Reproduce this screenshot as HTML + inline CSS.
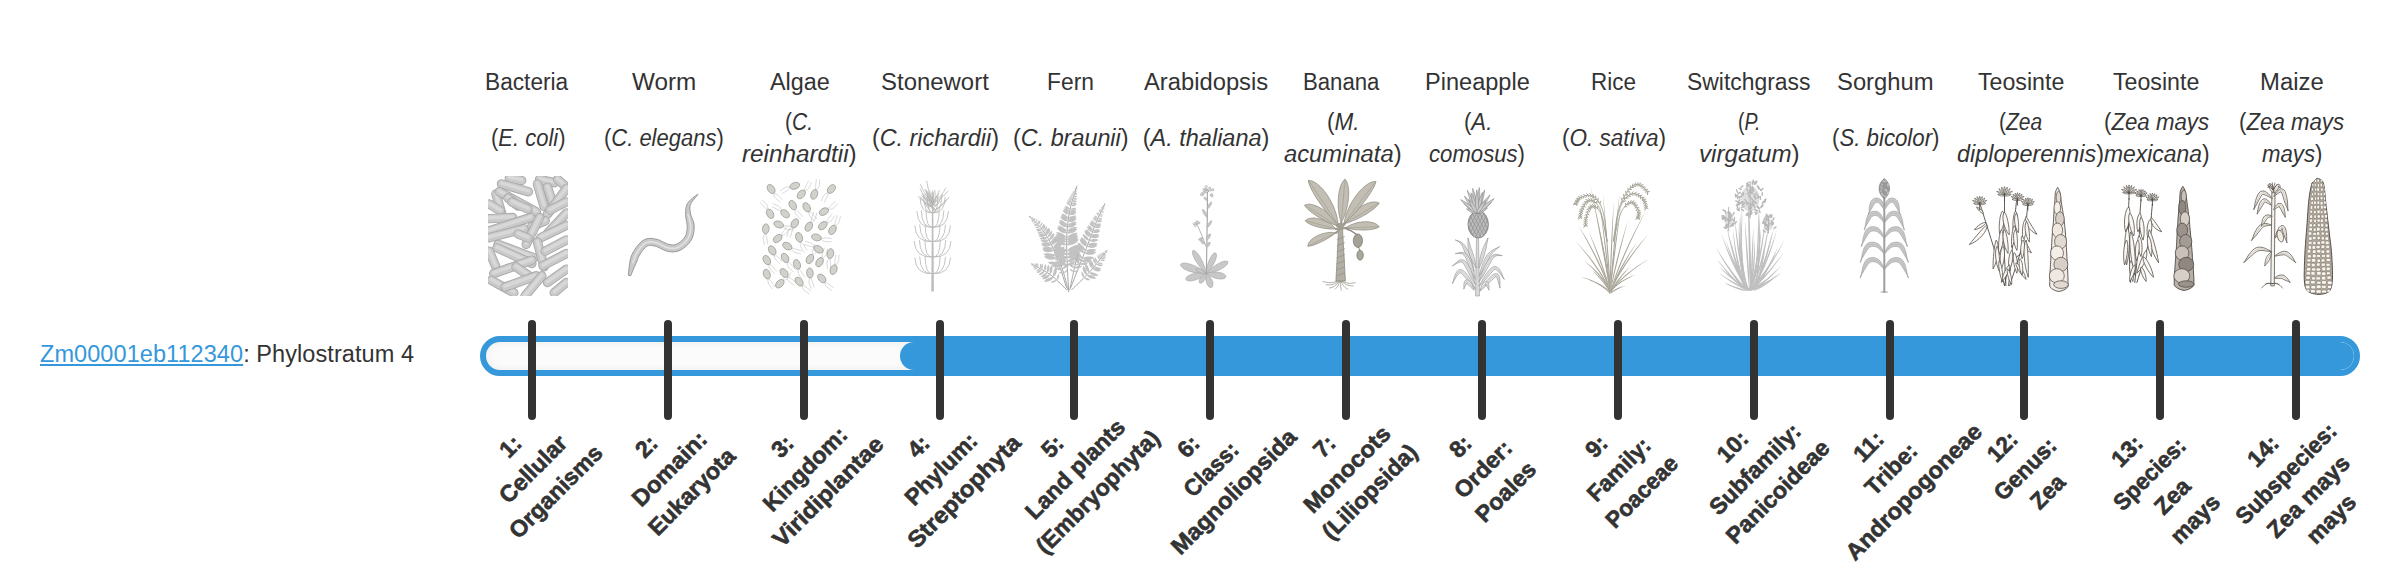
<!DOCTYPE html>
<html><head><meta charset="utf-8"><title>Phylostratum</title>
<style>
html,body{margin:0;padding:0;background:#fff}
body{width:2400px;height:580px;position:relative;overflow:hidden;font-family:"Liberation Sans",Arial,sans-serif;color:#333;font-size:23.5px;line-height:32px}
.gene{position:absolute;left:40px;top:338px;white-space:nowrap;letter-spacing:0.07px}
.gene a{color:#3498db;text-decoration:underline;text-decoration-thickness:2px;text-underline-offset:1.8px}
.t{position:absolute;white-space:nowrap;transform-origin:0 0}
.nm{top:66px}
.sp{top:122px}
.sp2{top:106px}
.bar{position:absolute;left:480px;top:336px;width:1868px;height:28px;border:6px solid #3498db;border-radius:20px;background:#fbfbfb;box-shadow:inset 0 0 9px rgba(0,0,0,.07);overflow:hidden}
.fill{position:absolute;left:414px;top:0;right:0;height:28px;background:#3498db;border-radius:14px}
.tk{position:absolute;top:320px;width:8px;height:100px;background:#333;border-radius:4px}
.rl{position:absolute;width:300px;margin-left:-150px;text-align:center;font-weight:bold;white-space:nowrap;transform:rotate(-45deg);top:420.8px;line-height:32px;font-size:23.2px;-webkit-text-stroke:0.6px #333}
</style></head><body>
<div class="gene"><a>Zm00001eb112340</a>: Phylostratum 4</div>

<div class="bar"><div class="fill"></div></div>

<svg style="position:absolute;left:0;top:0" width="2400" height="580"><clipPath id="cb"><rect x="488" y="176" width="80" height="120"/></clipPath><g clip-path="url(#cb)"><line x1="509.3" y1="178.2" x2="521.7" y2="180.5" stroke="#a9a9a9" stroke-width="9.4" stroke-linecap="round"/><line x1="509.3" y1="178.2" x2="521.7" y2="180.5" stroke="#c9c9c9" stroke-width="7.6" stroke-linecap="round"/><line x1="509.3" y1="177.4" x2="521.7" y2="179.7" stroke="#d8d8d8" stroke-width="3.4" stroke-linecap="round"/><line x1="539.6" y1="179.4" x2="554.2" y2="182.7" stroke="#a9a9a9" stroke-width="9.4" stroke-linecap="round"/><line x1="539.6" y1="179.4" x2="554.2" y2="182.7" stroke="#c9c9c9" stroke-width="7.6" stroke-linecap="round"/><line x1="539.6" y1="178.6" x2="554.2" y2="181.9" stroke="#d8d8d8" stroke-width="3.4" stroke-linecap="round"/><line x1="557.6" y1="179.4" x2="566.5" y2="187.2" stroke="#a9a9a9" stroke-width="9.4" stroke-linecap="round"/><line x1="557.6" y1="179.4" x2="566.5" y2="187.2" stroke="#c9c9c9" stroke-width="7.6" stroke-linecap="round"/><line x1="557.6" y1="178.6" x2="566.5" y2="186.4" stroke="#d8d8d8" stroke-width="3.4" stroke-linecap="round"/><line x1="501.5" y1="183.9" x2="528.4" y2="191.7" stroke="#a9a9a9" stroke-width="9.4" stroke-linecap="round"/><line x1="501.5" y1="183.9" x2="528.4" y2="191.7" stroke="#c9c9c9" stroke-width="7.6" stroke-linecap="round"/><line x1="501.5" y1="183.1" x2="528.4" y2="190.9" stroke="#d8d8d8" stroke-width="3.4" stroke-linecap="round"/><line x1="495.9" y1="193.9" x2="502.6" y2="216.4" stroke="#a9a9a9" stroke-width="9.4" stroke-linecap="round"/><line x1="495.9" y1="193.9" x2="502.6" y2="216.4" stroke="#c9c9c9" stroke-width="7.6" stroke-linecap="round"/><line x1="495.9" y1="193.1" x2="502.6" y2="215.6" stroke="#d8d8d8" stroke-width="3.4" stroke-linecap="round"/><line x1="489.2" y1="204.0" x2="500.4" y2="210.8" stroke="#a9a9a9" stroke-width="9.4" stroke-linecap="round"/><line x1="489.2" y1="204.0" x2="500.4" y2="210.8" stroke="#c9c9c9" stroke-width="7.6" stroke-linecap="round"/><line x1="489.2" y1="203.2" x2="500.4" y2="210.0" stroke="#d8d8d8" stroke-width="3.4" stroke-linecap="round"/><line x1="537.4" y1="183.9" x2="544.1" y2="206.3" stroke="#a9a9a9" stroke-width="9.4" stroke-linecap="round"/><line x1="537.4" y1="183.9" x2="544.1" y2="206.3" stroke="#c9c9c9" stroke-width="7.6" stroke-linecap="round"/><line x1="537.4" y1="183.1" x2="544.1" y2="205.5" stroke="#d8d8d8" stroke-width="3.4" stroke-linecap="round"/><line x1="547.5" y1="187.2" x2="553.1" y2="204.0" stroke="#a9a9a9" stroke-width="9.4" stroke-linecap="round"/><line x1="547.5" y1="187.2" x2="553.1" y2="204.0" stroke="#c9c9c9" stroke-width="7.6" stroke-linecap="round"/><line x1="547.5" y1="186.4" x2="553.1" y2="203.2" stroke="#d8d8d8" stroke-width="3.4" stroke-linecap="round"/><line x1="499.3" y1="191.7" x2="536.3" y2="211.9" stroke="#a9a9a9" stroke-width="9.4" stroke-linecap="round"/><line x1="499.3" y1="191.7" x2="536.3" y2="211.9" stroke="#c9c9c9" stroke-width="7.6" stroke-linecap="round"/><line x1="499.3" y1="190.9" x2="536.3" y2="211.1" stroke="#d8d8d8" stroke-width="3.4" stroke-linecap="round"/><line x1="566.5" y1="188.3" x2="547.5" y2="214.1" stroke="#a9a9a9" stroke-width="9.4" stroke-linecap="round"/><line x1="566.5" y1="188.3" x2="547.5" y2="214.1" stroke="#c9c9c9" stroke-width="7.6" stroke-linecap="round"/><line x1="566.5" y1="187.5" x2="547.5" y2="213.3" stroke="#d8d8d8" stroke-width="3.4" stroke-linecap="round"/><line x1="489.2" y1="218.6" x2="512.7" y2="217.5" stroke="#a9a9a9" stroke-width="9.4" stroke-linecap="round"/><line x1="489.2" y1="218.6" x2="512.7" y2="217.5" stroke="#c9c9c9" stroke-width="7.6" stroke-linecap="round"/><line x1="489.2" y1="217.8" x2="512.7" y2="216.7" stroke="#d8d8d8" stroke-width="3.4" stroke-linecap="round"/><line x1="531.8" y1="226.4" x2="545.2" y2="220.8" stroke="#a9a9a9" stroke-width="9.4" stroke-linecap="round"/><line x1="531.8" y1="226.4" x2="545.2" y2="220.8" stroke="#c9c9c9" stroke-width="7.6" stroke-linecap="round"/><line x1="531.8" y1="225.6" x2="545.2" y2="220.0" stroke="#d8d8d8" stroke-width="3.4" stroke-linecap="round"/><line x1="489.2" y1="230.9" x2="530.6" y2="217.5" stroke="#a9a9a9" stroke-width="9.4" stroke-linecap="round"/><line x1="489.2" y1="230.9" x2="530.6" y2="217.5" stroke="#c9c9c9" stroke-width="7.6" stroke-linecap="round"/><line x1="489.2" y1="230.1" x2="530.6" y2="216.7" stroke="#d8d8d8" stroke-width="3.4" stroke-linecap="round"/><line x1="489.2" y1="237.7" x2="523.9" y2="228.7" stroke="#a9a9a9" stroke-width="9.4" stroke-linecap="round"/><line x1="489.2" y1="237.7" x2="523.9" y2="228.7" stroke="#c9c9c9" stroke-width="7.6" stroke-linecap="round"/><line x1="489.2" y1="236.9" x2="523.9" y2="227.9" stroke="#d8d8d8" stroke-width="3.4" stroke-linecap="round"/><line x1="566.5" y1="213.0" x2="547.5" y2="233.2" stroke="#a9a9a9" stroke-width="9.4" stroke-linecap="round"/><line x1="566.5" y1="213.0" x2="547.5" y2="233.2" stroke="#c9c9c9" stroke-width="7.6" stroke-linecap="round"/><line x1="566.5" y1="212.2" x2="547.5" y2="232.4" stroke="#d8d8d8" stroke-width="3.4" stroke-linecap="round"/><line x1="526.2" y1="244.4" x2="539.6" y2="217.5" stroke="#a9a9a9" stroke-width="9.4" stroke-linecap="round"/><line x1="526.2" y1="244.4" x2="539.6" y2="217.5" stroke="#c9c9c9" stroke-width="7.6" stroke-linecap="round"/><line x1="526.2" y1="243.6" x2="539.6" y2="216.7" stroke="#d8d8d8" stroke-width="3.4" stroke-linecap="round"/><line x1="540.7" y1="237.7" x2="566.5" y2="225.3" stroke="#a9a9a9" stroke-width="9.4" stroke-linecap="round"/><line x1="540.7" y1="237.7" x2="566.5" y2="225.3" stroke="#c9c9c9" stroke-width="7.6" stroke-linecap="round"/><line x1="540.7" y1="236.9" x2="566.5" y2="224.5" stroke="#d8d8d8" stroke-width="3.4" stroke-linecap="round"/><line x1="498.1" y1="244.4" x2="534.0" y2="257.8" stroke="#a9a9a9" stroke-width="9.4" stroke-linecap="round"/><line x1="498.1" y1="244.4" x2="534.0" y2="257.8" stroke="#c9c9c9" stroke-width="7.6" stroke-linecap="round"/><line x1="498.1" y1="243.6" x2="534.0" y2="257.0" stroke="#d8d8d8" stroke-width="3.4" stroke-linecap="round"/><line x1="497.0" y1="247.8" x2="531.8" y2="263.5" stroke="#a9a9a9" stroke-width="9.4" stroke-linecap="round"/><line x1="497.0" y1="247.8" x2="531.8" y2="263.5" stroke="#c9c9c9" stroke-width="7.6" stroke-linecap="round"/><line x1="497.0" y1="247.0" x2="531.8" y2="262.7" stroke="#d8d8d8" stroke-width="3.4" stroke-linecap="round"/><line x1="489.2" y1="251.1" x2="495.9" y2="266.8" stroke="#a9a9a9" stroke-width="9.4" stroke-linecap="round"/><line x1="489.2" y1="251.1" x2="495.9" y2="266.8" stroke="#c9c9c9" stroke-width="7.6" stroke-linecap="round"/><line x1="489.2" y1="250.3" x2="495.9" y2="266.0" stroke="#d8d8d8" stroke-width="3.4" stroke-linecap="round"/><line x1="537.4" y1="242.1" x2="544.1" y2="266.8" stroke="#a9a9a9" stroke-width="9.4" stroke-linecap="round"/><line x1="537.4" y1="242.1" x2="544.1" y2="266.8" stroke="#c9c9c9" stroke-width="7.6" stroke-linecap="round"/><line x1="537.4" y1="241.3" x2="544.1" y2="266.0" stroke="#d8d8d8" stroke-width="3.4" stroke-linecap="round"/><line x1="545.2" y1="251.1" x2="566.5" y2="239.9" stroke="#a9a9a9" stroke-width="9.4" stroke-linecap="round"/><line x1="545.2" y1="251.1" x2="566.5" y2="239.9" stroke="#c9c9c9" stroke-width="7.6" stroke-linecap="round"/><line x1="545.2" y1="250.3" x2="566.5" y2="239.1" stroke="#d8d8d8" stroke-width="3.4" stroke-linecap="round"/><line x1="493.7" y1="273.5" x2="531.8" y2="260.1" stroke="#a9a9a9" stroke-width="9.4" stroke-linecap="round"/><line x1="493.7" y1="273.5" x2="531.8" y2="260.1" stroke="#c9c9c9" stroke-width="7.6" stroke-linecap="round"/><line x1="493.7" y1="272.7" x2="531.8" y2="259.3" stroke="#d8d8d8" stroke-width="3.4" stroke-linecap="round"/><line x1="543.0" y1="265.7" x2="566.5" y2="253.4" stroke="#a9a9a9" stroke-width="9.4" stroke-linecap="round"/><line x1="543.0" y1="265.7" x2="566.5" y2="253.4" stroke="#c9c9c9" stroke-width="7.6" stroke-linecap="round"/><line x1="543.0" y1="264.9" x2="566.5" y2="252.6" stroke="#d8d8d8" stroke-width="3.4" stroke-linecap="round"/><line x1="516.0" y1="266.8" x2="530.6" y2="276.9" stroke="#a9a9a9" stroke-width="9.4" stroke-linecap="round"/><line x1="516.0" y1="266.8" x2="530.6" y2="276.9" stroke="#c9c9c9" stroke-width="7.6" stroke-linecap="round"/><line x1="516.0" y1="266.0" x2="530.6" y2="276.1" stroke="#d8d8d8" stroke-width="3.4" stroke-linecap="round"/><line x1="547.5" y1="282.5" x2="566.5" y2="269.1" stroke="#a9a9a9" stroke-width="9.4" stroke-linecap="round"/><line x1="547.5" y1="282.5" x2="566.5" y2="269.1" stroke="#c9c9c9" stroke-width="7.6" stroke-linecap="round"/><line x1="547.5" y1="281.7" x2="566.5" y2="268.3" stroke="#d8d8d8" stroke-width="3.4" stroke-linecap="round"/><line x1="491.4" y1="280.3" x2="513.8" y2="292.6" stroke="#a9a9a9" stroke-width="9.4" stroke-linecap="round"/><line x1="491.4" y1="280.3" x2="513.8" y2="292.6" stroke="#c9c9c9" stroke-width="7.6" stroke-linecap="round"/><line x1="491.4" y1="279.5" x2="513.8" y2="291.8" stroke="#d8d8d8" stroke-width="3.4" stroke-linecap="round"/><line x1="504.9" y1="287.0" x2="536.3" y2="275.8" stroke="#a9a9a9" stroke-width="9.4" stroke-linecap="round"/><line x1="504.9" y1="287.0" x2="536.3" y2="275.8" stroke="#c9c9c9" stroke-width="7.6" stroke-linecap="round"/><line x1="504.9" y1="286.2" x2="536.3" y2="275.0" stroke="#d8d8d8" stroke-width="3.4" stroke-linecap="round"/><line x1="525.0" y1="296.0" x2="541.9" y2="275.8" stroke="#a9a9a9" stroke-width="9.4" stroke-linecap="round"/><line x1="525.0" y1="296.0" x2="541.9" y2="275.8" stroke="#c9c9c9" stroke-width="7.6" stroke-linecap="round"/><line x1="525.0" y1="295.2" x2="541.9" y2="275.0" stroke="#d8d8d8" stroke-width="3.4" stroke-linecap="round"/><line x1="554.2" y1="292.6" x2="566.5" y2="282.5" stroke="#a9a9a9" stroke-width="9.4" stroke-linecap="round"/><line x1="554.2" y1="292.6" x2="566.5" y2="282.5" stroke="#c9c9c9" stroke-width="7.6" stroke-linecap="round"/><line x1="554.2" y1="291.8" x2="566.5" y2="281.7" stroke="#d8d8d8" stroke-width="3.4" stroke-linecap="round"/><line x1="508.0" y1="198.0" x2="518.0" y2="206.0" stroke="#a9a9a9" stroke-width="9.4" stroke-linecap="round"/><line x1="508.0" y1="198.0" x2="518.0" y2="206.0" stroke="#c9c9c9" stroke-width="7.6" stroke-linecap="round"/><line x1="508.0" y1="197.2" x2="518.0" y2="205.2" stroke="#d8d8d8" stroke-width="3.4" stroke-linecap="round"/><line x1="512.0" y1="202.0" x2="528.0" y2="209.0" stroke="#a9a9a9" stroke-width="9.4" stroke-linecap="round"/><line x1="512.0" y1="202.0" x2="528.0" y2="209.0" stroke="#c9c9c9" stroke-width="7.6" stroke-linecap="round"/><line x1="512.0" y1="201.2" x2="528.0" y2="208.2" stroke="#d8d8d8" stroke-width="3.4" stroke-linecap="round"/><line x1="550.0" y1="210.0" x2="566.0" y2="202.0" stroke="#a9a9a9" stroke-width="9.4" stroke-linecap="round"/><line x1="550.0" y1="210.0" x2="566.0" y2="202.0" stroke="#c9c9c9" stroke-width="7.6" stroke-linecap="round"/><line x1="550.0" y1="209.2" x2="566.0" y2="201.2" stroke="#d8d8d8" stroke-width="3.4" stroke-linecap="round"/><line x1="518.0" y1="234.0" x2="528.0" y2="238.0" stroke="#a9a9a9" stroke-width="9.4" stroke-linecap="round"/><line x1="518.0" y1="234.0" x2="528.0" y2="238.0" stroke="#c9c9c9" stroke-width="7.6" stroke-linecap="round"/><line x1="518.0" y1="233.2" x2="528.0" y2="237.2" stroke="#d8d8d8" stroke-width="3.4" stroke-linecap="round"/></g><path d="M630.7,275.8 L631.1,274.8 L631.6,273.5 L632.3,271.9 L633.0,270.2 L633.7,268.4 L634.5,266.6 L635.2,265.0 L635.9,263.5 L636.5,262.2 L637.1,260.9 L637.6,259.6 L638.0,258.4 L638.4,257.3 L638.9,256.2 L639.5,255.2 L640.1,254.1 L640.9,252.9 L641.8,251.6 L642.8,250.4 L643.8,249.1 L644.8,248.0 L645.8,247.1 L646.7,246.4 L647.5,245.9 L648.2,245.6 L648.9,245.5 L649.7,245.4 L650.7,245.4 L651.7,245.5 L652.8,245.7 L654.1,245.9 L655.3,246.2 L656.5,246.5 L657.7,247.0 L659.1,247.7 L660.7,248.5 L662.3,249.3 L664.0,250.1 L665.8,250.8 L667.5,251.3 L669.2,251.6 L670.7,251.8 L672.2,251.9 L673.8,251.9 L675.4,251.7 L677.0,251.4 L678.6,250.9 L680.1,250.3 L681.7,249.4 L683.2,248.4 L684.7,247.3 L686.2,246.0 L687.6,244.7 L688.9,243.3 L690.1,241.7 L691.1,240.2 L692.0,238.5 L692.7,236.8 L693.2,235.0 L693.6,233.3 L693.9,231.5 L694.1,229.8 L694.2,228.1 L694.2,226.3 L694.1,224.5 L693.7,222.6 L693.1,220.9 L692.5,219.4 L691.9,217.9 L691.4,216.5 L690.9,215.2 L690.6,214.0 L690.4,212.7 L690.2,211.5 L690.0,210.2 L689.9,209.1 L689.8,208.0 L689.9,206.9 L690.1,205.8 L690.4,204.7 L690.9,203.5 L691.8,202.1 L692.8,200.7 L694.0,199.2 L695.1,197.8 L696.2,196.6 L697.2,195.5 L697.8,194.7 L697.4,194.3 L696.6,194.9 L695.5,195.8 L694.2,196.8 L692.7,198.0 L691.3,199.2 L689.9,200.6 L688.6,201.9 L687.6,203.3 L686.9,204.7 L686.4,206.1 L686.0,207.5 L685.8,208.9 L685.7,210.3 L685.6,211.7 L685.6,213.1 L685.6,214.6 L685.7,216.2 L685.9,217.9 L686.2,219.5 L686.5,221.1 L686.8,222.6 L687.0,224.0 L687.1,225.3 L687.2,226.5 L687.2,227.8 L687.1,229.2 L686.9,230.6 L686.7,231.9 L686.4,233.3 L686.1,234.5 L685.6,235.6 L685.1,236.6 L684.4,237.7 L683.6,238.7 L682.6,239.8 L681.5,240.9 L680.3,241.8 L679.2,242.7 L678.1,243.4 L677.1,243.9 L676.2,244.3 L675.3,244.6 L674.4,244.8 L673.4,244.9 L672.4,244.9 L671.3,244.8 L670.2,244.7 L669.1,244.5 L668.0,244.2 L666.7,243.7 L665.4,243.1 L663.8,242.3 L662.2,241.5 L660.6,240.7 L658.8,239.9 L657.1,239.4 L655.5,239.1 L654.1,238.8 L652.6,238.5 L651.0,238.4 L649.4,238.4 L647.7,238.6 L646.0,239.0 L644.3,239.7 L642.7,240.6 L641.2,241.8 L639.8,243.1 L638.5,244.6 L637.3,246.0 L636.2,247.5 L635.2,248.9 L634.3,250.3 L633.4,251.7 L632.7,253.1 L632.0,254.5 L631.4,255.9 L630.9,257.3 L630.5,258.7 L630.2,260.1 L629.9,261.7 L629.6,263.4 L629.4,265.3 L629.1,267.2 L628.9,269.2 L628.7,271.1 L628.5,272.7 L628.4,274.2 L628.3,275.2Z" fill="#c9c9c9" stroke="#8e8e8e" stroke-width="0.9"/><path d="M632.9,262.6 L633.3,261.5 L633.9,259.9 L634.5,258.0 L635.3,256.0 L636.2,254.0 L637.2,252.2 L638.4,250.5 L639.7,248.6 L641.2,246.8 L642.7,245.2 L644.3,243.8 L645.9,242.8 L647.5,242.2 L649.1,241.9 L650.8,241.9 L652.6,242.1 L654.4,242.4 L656.2,242.8 L658.1,243.4 L660.2,244.3 L662.2,245.4 L664.3,246.4 L666.4,247.3 L668.3,247.9 L670.1,248.2 L671.9,248.4 L673.6,248.4 L675.3,248.2 L677.0,247.8 L678.6,247.1 L680.3,246.1 L682.1,244.9 L683.8,243.4 L685.5,241.8 L686.9,240.1 L688.1,238.4 L689.0,236.6 L689.7,234.6 L690.2,232.6 L690.5,230.5 L690.6,228.4 L690.7,226.4 L690.5,224.2 L690.1,221.9 L689.6,219.6 L689.0,217.4 L688.4,215.6 L688.1,214.3" fill="none" stroke="#e2e2e2" stroke-width="1.6" stroke-linecap="round" stroke-linejoin="round" opacity="1"/><path d="M773.6,192.4 L774.0,192.7 L774.6,193.1 L775.3,193.6 L776.1,194.2 L776.9,194.7 L777.7,195.3 L778.4,195.9 L779.2,196.7 L780.0,197.5 L780.8,198.2 L781.5,198.8 L781.9,199.2" fill="none" stroke="#bdbdbd" stroke-width="0.6" stroke-linecap="round" stroke-linejoin="round" opacity="1"/><path d="M773.6,192.4 L773.7,193.0 L773.8,193.7 L773.9,194.6 L774.1,195.5 L774.4,196.4 L774.8,197.3 L775.5,198.1 L776.5,199.0 L777.5,199.9 L778.5,200.7 L779.4,201.4 L780.0,201.9" fill="none" stroke="#bdbdbd" stroke-width="0.6" stroke-linecap="round" stroke-linejoin="round" opacity="1"/><path d="M790.9,187.2 L790.5,187.6 L789.9,188.0 L789.3,188.6 L788.6,189.2 L787.8,189.9 L787.1,190.4 L786.2,191.0 L785.3,191.6 L784.4,192.2 L783.5,192.7 L782.7,193.2 L782.1,193.5" fill="none" stroke="#bdbdbd" stroke-width="0.6" stroke-linecap="round" stroke-linejoin="round" opacity="1"/><path d="M790.9,187.2 L790.4,187.2 L789.6,187.1 L788.7,187.0 L787.8,186.9 L786.8,187.0 L785.9,187.2 L784.9,187.7 L783.8,188.3 L782.7,189.1 L781.6,189.9 L780.8,190.5 L780.1,191.0" fill="none" stroke="#bdbdbd" stroke-width="0.6" stroke-linecap="round" stroke-linejoin="round" opacity="1"/><path d="M804.0,191.2 L804.2,190.7 L804.4,190.0 L804.7,189.1 L805.0,188.2 L805.3,187.3 L805.7,186.5 L806.1,185.6 L806.6,184.6 L807.2,183.6 L807.7,182.7 L808.1,181.9 L808.4,181.3" fill="none" stroke="#bdbdbd" stroke-width="0.6" stroke-linecap="round" stroke-linejoin="round" opacity="1"/><path d="M804.0,191.2 L804.5,190.9 L805.2,190.7 L806.0,190.3 L806.8,189.9 L807.6,189.3 L808.3,188.7 L809.0,187.8 L809.6,186.7 L810.1,185.4 L810.7,184.2 L811.1,183.2 L811.4,182.5" fill="none" stroke="#bdbdbd" stroke-width="0.6" stroke-linecap="round" stroke-linejoin="round" opacity="1"/><path d="M815.7,190.4 L815.6,189.9 L815.6,189.2 L815.6,188.3 L815.6,187.3 L815.6,186.4 L815.6,185.4 L815.7,184.5 L815.9,183.4 L816.0,182.2 L816.2,181.2 L816.3,180.3 L816.4,179.7" fill="none" stroke="#bdbdbd" stroke-width="0.6" stroke-linecap="round" stroke-linejoin="round" opacity="1"/><path d="M815.7,190.4 L816.0,190.1 L816.6,189.6 L817.2,188.9 L817.9,188.2 L818.4,187.5 L818.9,186.6 L819.2,185.6 L819.3,184.3 L819.5,182.9 L819.6,181.6 L819.6,180.5 L819.7,179.8" fill="none" stroke="#bdbdbd" stroke-width="0.6" stroke-linecap="round" stroke-linejoin="round" opacity="1"/><path d="M828.7,192.2 L828.6,192.7 L828.3,193.4 L828.1,194.2 L827.7,195.1 L827.4,196.1 L827.0,196.9 L826.6,197.8 L826.1,198.8 L825.6,199.8 L825.1,200.7 L824.6,201.5 L824.3,202.1" fill="none" stroke="#bdbdbd" stroke-width="0.6" stroke-linecap="round" stroke-linejoin="round" opacity="1"/><path d="M828.7,192.2 L828.3,192.4 L827.6,192.7 L826.8,193.1 L825.9,193.5 L825.1,194.1 L824.4,194.7 L823.8,195.6 L823.2,196.7 L822.6,197.9 L822.1,199.1 L821.6,200.2 L821.3,200.9" fill="none" stroke="#bdbdbd" stroke-width="0.6" stroke-linecap="round" stroke-linejoin="round" opacity="1"/><path d="M794.8,208.8 L795.2,209.1 L795.8,209.6 L796.5,210.1 L797.2,210.7 L797.9,211.4 L798.6,212.0 L799.3,212.7 L800.1,213.5 L800.8,214.3 L801.5,215.1 L802.1,215.8 L802.5,216.3" fill="none" stroke="#bdbdbd" stroke-width="0.6" stroke-linecap="round" stroke-linejoin="round" opacity="1"/><path d="M794.8,208.8 L794.8,209.3 L794.9,210.1 L794.9,210.9 L795.0,211.9 L795.3,212.8 L795.6,213.7 L796.3,214.6 L797.1,215.6 L798.1,216.5 L799.0,217.4 L799.8,218.2 L800.4,218.7" fill="none" stroke="#bdbdbd" stroke-width="0.6" stroke-linecap="round" stroke-linejoin="round" opacity="1"/><path d="M808.8,210.9 L809.2,211.3 L809.8,211.7 L810.5,212.3 L811.2,212.9 L811.9,213.5 L812.6,214.1 L813.3,214.9 L814.1,215.7 L814.8,216.5 L815.5,217.3 L816.1,218.0 L816.5,218.5" fill="none" stroke="#bdbdbd" stroke-width="0.6" stroke-linecap="round" stroke-linejoin="round" opacity="1"/><path d="M808.8,210.9 L808.8,211.5 L808.9,212.2 L808.9,213.1 L809.0,214.0 L809.3,215.0 L809.6,215.9 L810.3,216.8 L811.1,217.7 L812.1,218.7 L813.0,219.6 L813.8,220.3 L814.4,220.9" fill="none" stroke="#bdbdbd" stroke-width="0.6" stroke-linecap="round" stroke-linejoin="round" opacity="1"/><path d="M768.0,210.1 L767.6,209.8 L767.0,209.3 L766.3,208.8 L765.6,208.2 L764.8,207.5 L764.1,206.9 L763.4,206.2 L762.7,205.4 L761.9,204.6 L761.2,203.8 L760.7,203.1 L760.2,202.6" fill="none" stroke="#bdbdbd" stroke-width="0.6" stroke-linecap="round" stroke-linejoin="round" opacity="1"/><path d="M768.0,210.1 L767.9,209.6 L767.9,208.8 L767.8,208.0 L767.7,207.0 L767.5,206.1 L767.1,205.2 L766.5,204.3 L765.6,203.3 L764.7,202.4 L763.7,201.5 L762.9,200.7 L762.4,200.2" fill="none" stroke="#bdbdbd" stroke-width="0.6" stroke-linecap="round" stroke-linejoin="round" opacity="1"/><path d="M781.9,211.1 L781.4,210.9 L780.7,210.7 L779.9,210.4 L779.0,210.1 L778.1,209.7 L777.2,209.4 L776.3,208.9 L775.4,208.4 L774.4,207.9 L773.4,207.4 L772.7,207.0 L772.1,206.6" fill="none" stroke="#bdbdbd" stroke-width="0.6" stroke-linecap="round" stroke-linejoin="round" opacity="1"/><path d="M781.9,211.1 L781.7,210.6 L781.4,209.9 L781.1,209.1 L780.6,208.2 L780.1,207.4 L779.4,206.7 L778.5,206.1 L777.4,205.5 L776.2,204.9 L775.0,204.4 L774.0,204.0 L773.3,203.6" fill="none" stroke="#bdbdbd" stroke-width="0.6" stroke-linecap="round" stroke-linejoin="round" opacity="1"/><path d="M827.5,209.5 L827.9,209.1 L828.3,208.5 L828.9,207.8 L829.5,207.1 L830.1,206.4 L830.8,205.7 L831.5,205.0 L832.3,204.2 L833.1,203.5 L833.9,202.8 L834.6,202.2 L835.1,201.8" fill="none" stroke="#bdbdbd" stroke-width="0.6" stroke-linecap="round" stroke-linejoin="round" opacity="1"/><path d="M827.5,209.5 L828.1,209.5 L828.8,209.4 L829.7,209.4 L830.6,209.2 L831.6,209.0 L832.5,208.6 L833.4,208.0 L834.3,207.2 L835.3,206.2 L836.2,205.3 L836.9,204.5 L837.5,203.9" fill="none" stroke="#bdbdbd" stroke-width="0.6" stroke-linecap="round" stroke-linejoin="round" opacity="1"/><path d="M782.6,226.0 L783.2,226.0 L783.9,225.9 L784.8,225.9 L785.7,225.9 L786.7,225.9 L787.6,226.0 L788.6,226.1 L789.7,226.2 L790.8,226.4 L791.9,226.5 L792.8,226.7 L793.4,226.7" fill="none" stroke="#bdbdbd" stroke-width="0.6" stroke-linecap="round" stroke-linejoin="round" opacity="1"/><path d="M782.6,226.0 L783.0,226.3 L783.5,226.9 L784.1,227.5 L784.8,228.2 L785.6,228.7 L786.5,229.2 L787.5,229.5 L788.8,229.7 L790.1,229.8 L791.4,229.9 L792.5,229.9 L793.3,230.0" fill="none" stroke="#bdbdbd" stroke-width="0.6" stroke-linecap="round" stroke-linejoin="round" opacity="1"/><path d="M792.7,227.1 L792.7,227.6 L792.5,228.3 L792.4,229.2 L792.3,230.1 L792.1,231.1 L791.9,232.0 L791.6,233.0 L791.3,234.0 L790.9,235.1 L790.6,236.1 L790.3,236.9 L790.1,237.5" fill="none" stroke="#bdbdbd" stroke-width="0.6" stroke-linecap="round" stroke-linejoin="round" opacity="1"/><path d="M792.7,227.1 L792.3,227.4 L791.7,227.8 L790.9,228.3 L790.2,228.9 L789.5,229.5 L788.9,230.3 L788.4,231.3 L788.0,232.5 L787.7,233.8 L787.4,235.1 L787.1,236.1 L786.9,236.9" fill="none" stroke="#bdbdbd" stroke-width="0.6" stroke-linecap="round" stroke-linejoin="round" opacity="1"/><path d="M810.9,223.0 L811.0,222.5 L811.1,221.8 L811.3,220.9 L811.4,220.0 L811.6,219.0 L811.8,218.1 L812.1,217.2 L812.4,216.1 L812.7,215.0 L813.1,214.0 L813.4,213.2 L813.6,212.6" fill="none" stroke="#bdbdbd" stroke-width="0.6" stroke-linecap="round" stroke-linejoin="round" opacity="1"/><path d="M810.9,223.0 L811.4,222.7 L812.0,222.3 L812.7,221.8 L813.5,221.3 L814.2,220.6 L814.8,219.8 L815.2,218.9 L815.6,217.6 L816.0,216.3 L816.3,215.1 L816.6,214.0 L816.7,213.2" fill="none" stroke="#bdbdbd" stroke-width="0.6" stroke-linecap="round" stroke-linejoin="round" opacity="1"/><path d="M826.0,222.9 L826.3,222.4 L826.7,221.8 L827.1,221.0 L827.5,220.2 L828.0,219.4 L828.5,218.6 L829.1,217.8 L829.8,216.9 L830.5,216.0 L831.1,215.2 L831.7,214.5 L832.1,214.0" fill="none" stroke="#bdbdbd" stroke-width="0.6" stroke-linecap="round" stroke-linejoin="round" opacity="1"/><path d="M826.0,222.9 L826.6,222.8 L827.3,222.6 L828.1,222.4 L829.0,222.1 L829.9,221.7 L830.7,221.2 L831.5,220.4 L832.3,219.4 L833.1,218.3 L833.8,217.2 L834.4,216.3 L834.9,215.7" fill="none" stroke="#bdbdbd" stroke-width="0.6" stroke-linecap="round" stroke-linejoin="round" opacity="1"/><path d="M765.4,233.0 L765.5,233.5 L765.8,234.2 L766.0,235.1 L766.3,236.0 L766.5,236.9 L766.7,237.8 L766.9,238.8 L767.0,239.9 L767.1,241.0 L767.3,242.1 L767.4,243.0 L767.4,243.6" fill="none" stroke="#bdbdbd" stroke-width="0.6" stroke-linecap="round" stroke-linejoin="round" opacity="1"/><path d="M765.4,233.0 L765.1,233.5 L764.7,234.1 L764.3,234.9 L763.8,235.7 L763.5,236.6 L763.3,237.5 L763.3,238.6 L763.4,239.9 L763.6,241.2 L763.9,242.5 L764.1,243.6 L764.3,244.4" fill="none" stroke="#bdbdbd" stroke-width="0.6" stroke-linecap="round" stroke-linejoin="round" opacity="1"/><path d="M834.6,226.3 L834.7,225.7 L834.8,225.0 L834.9,224.2 L835.1,223.2 L835.3,222.3 L835.5,221.3 L835.7,220.4 L836.1,219.3 L836.4,218.3 L836.8,217.3 L837.1,216.4 L837.3,215.8" fill="none" stroke="#bdbdbd" stroke-width="0.6" stroke-linecap="round" stroke-linejoin="round" opacity="1"/><path d="M834.6,226.3 L835.1,226.0 L835.7,225.6 L836.4,225.1 L837.2,224.5 L837.9,223.8 L838.5,223.1 L838.9,222.1 L839.3,220.9 L839.7,219.6 L840.0,218.3 L840.2,217.2 L840.4,216.5" fill="none" stroke="#bdbdbd" stroke-width="0.6" stroke-linecap="round" stroke-linejoin="round" opacity="1"/><path d="M780.8,235.8 L781.1,235.4 L781.4,234.7 L781.9,233.9 L782.3,233.1 L782.8,232.3 L783.3,231.5 L783.9,230.7 L784.6,229.8 L785.3,228.9 L785.9,228.1 L786.5,227.4 L786.9,226.9" fill="none" stroke="#bdbdbd" stroke-width="0.6" stroke-linecap="round" stroke-linejoin="round" opacity="1"/><path d="M780.8,235.8 L781.3,235.7 L782.1,235.5 L782.9,235.3 L783.8,235.0 L784.7,234.6 L785.5,234.1 L786.3,233.4 L787.1,232.4 L787.9,231.2 L788.6,230.2 L789.2,229.2 L789.6,228.6" fill="none" stroke="#bdbdbd" stroke-width="0.6" stroke-linecap="round" stroke-linejoin="round" opacity="1"/><path d="M800.6,241.4 L800.9,241.8 L801.4,242.3 L802.0,243.0 L802.6,243.7 L803.2,244.5 L803.8,245.2 L804.4,246.0 L805.0,247.0 L805.5,247.9 L806.1,248.8 L806.6,249.6 L806.9,250.1" fill="none" stroke="#bdbdbd" stroke-width="0.6" stroke-linecap="round" stroke-linejoin="round" opacity="1"/><path d="M800.6,241.4 L800.5,241.9 L800.4,242.7 L800.3,243.5 L800.3,244.5 L800.4,245.5 L800.6,246.4 L801.0,247.4 L801.7,248.5 L802.5,249.6 L803.2,250.6 L803.9,251.5 L804.4,252.2" fill="none" stroke="#bdbdbd" stroke-width="0.6" stroke-linecap="round" stroke-linejoin="round" opacity="1"/><path d="M820.4,238.5 L821.0,238.5 L821.7,238.4 L822.6,238.3 L823.5,238.2 L824.5,238.1 L825.4,238.1 L826.4,238.1 L827.5,238.1 L828.6,238.2 L829.7,238.3 L830.6,238.3 L831.2,238.4" fill="none" stroke="#bdbdbd" stroke-width="0.6" stroke-linecap="round" stroke-linejoin="round" opacity="1"/><path d="M820.4,238.5 L820.8,238.9 L821.4,239.4 L822.0,240.0 L822.8,240.5 L823.6,241.0 L824.5,241.4 L825.6,241.6 L826.9,241.7 L828.2,241.7 L829.5,241.7 L830.6,241.6 L831.4,241.6" fill="none" stroke="#bdbdbd" stroke-width="0.6" stroke-linecap="round" stroke-linejoin="round" opacity="1"/><path d="M774.3,254.0 L774.7,254.3 L775.3,254.8 L776.0,255.3 L776.7,255.9 L777.5,256.6 L778.2,257.2 L778.9,257.9 L779.6,258.7 L780.4,259.6 L781.0,260.4 L781.6,261.0 L782.1,261.5" fill="none" stroke="#bdbdbd" stroke-width="0.6" stroke-linecap="round" stroke-linejoin="round" opacity="1"/><path d="M774.3,254.0 L774.4,254.5 L774.4,255.3 L774.5,256.2 L774.6,257.1 L774.8,258.0 L775.2,258.9 L775.8,259.8 L776.7,260.8 L777.6,261.7 L778.6,262.6 L779.4,263.4 L779.9,263.9" fill="none" stroke="#bdbdbd" stroke-width="0.6" stroke-linecap="round" stroke-linejoin="round" opacity="1"/><path d="M790.9,248.2 L791.5,248.2 L792.2,248.3 L793.1,248.5 L794.0,248.6 L794.9,248.8 L795.9,249.0 L796.8,249.3 L797.9,249.6 L798.9,250.0 L799.9,250.3 L800.8,250.6 L801.4,250.8" fill="none" stroke="#bdbdbd" stroke-width="0.6" stroke-linecap="round" stroke-linejoin="round" opacity="1"/><path d="M790.9,248.2 L791.2,248.6 L791.6,249.2 L792.1,250.0 L792.7,250.7 L793.4,251.4 L794.1,252.0 L795.1,252.5 L796.3,252.9 L797.7,253.2 L798.9,253.5 L800.0,253.8 L800.8,254.0" fill="none" stroke="#bdbdbd" stroke-width="0.6" stroke-linecap="round" stroke-linejoin="round" opacity="1"/><path d="M814.9,247.2 L814.4,247.1 L813.6,247.0 L812.8,246.9 L811.8,246.7 L810.9,246.5 L810.0,246.3 L809.0,246.1 L808.0,245.7 L806.9,245.4 L805.9,245.0 L805.0,244.8 L804.4,244.5" fill="none" stroke="#bdbdbd" stroke-width="0.6" stroke-linecap="round" stroke-linejoin="round" opacity="1"/><path d="M814.9,247.2 L814.6,246.8 L814.2,246.1 L813.7,245.4 L813.1,244.6 L812.4,243.9 L811.7,243.4 L810.7,242.9 L809.5,242.5 L808.2,242.1 L806.9,241.8 L805.8,241.6 L805.1,241.4" fill="none" stroke="#bdbdbd" stroke-width="0.6" stroke-linecap="round" stroke-linejoin="round" opacity="1"/><path d="M829.6,257.7 L829.7,258.3 L829.9,259.0 L830.1,259.8 L830.2,260.8 L830.4,261.7 L830.5,262.7 L830.6,263.6 L830.6,264.7 L830.7,265.9 L830.7,266.9 L830.7,267.8 L830.7,268.5" fill="none" stroke="#bdbdbd" stroke-width="0.6" stroke-linecap="round" stroke-linejoin="round" opacity="1"/><path d="M829.6,257.7 L829.3,258.2 L828.9,258.8 L828.4,259.5 L827.8,260.3 L827.4,261.1 L827.1,262.1 L827.0,263.1 L827.1,264.4 L827.2,265.8 L827.3,267.1 L827.5,268.2 L827.5,268.9" fill="none" stroke="#bdbdbd" stroke-width="0.6" stroke-linecap="round" stroke-linejoin="round" opacity="1"/><path d="M787.2,261.5 L787.7,261.9 L788.2,262.3 L788.9,262.9 L789.7,263.5 L790.4,264.1 L791.1,264.8 L791.8,265.5 L792.5,266.3 L793.3,267.1 L794.0,267.9 L794.6,268.6 L795.0,269.1" fill="none" stroke="#bdbdbd" stroke-width="0.6" stroke-linecap="round" stroke-linejoin="round" opacity="1"/><path d="M787.2,261.5 L787.3,262.1 L787.3,262.8 L787.4,263.7 L787.5,264.6 L787.7,265.6 L788.1,266.5 L788.7,267.4 L789.6,268.3 L790.5,269.3 L791.5,270.2 L792.3,270.9 L792.8,271.5" fill="none" stroke="#bdbdbd" stroke-width="0.6" stroke-linecap="round" stroke-linejoin="round" opacity="1"/><path d="M812.0,255.3 L812.1,254.8 L812.2,254.1 L812.3,253.2 L812.5,252.3 L812.7,251.3 L812.9,250.4 L813.1,249.5 L813.5,248.4 L813.8,247.3 L814.2,246.3 L814.4,245.5 L814.6,244.9" fill="none" stroke="#bdbdbd" stroke-width="0.6" stroke-linecap="round" stroke-linejoin="round" opacity="1"/><path d="M812.0,255.3 L812.4,255.0 L813.1,254.6 L813.8,254.1 L814.6,253.6 L815.3,252.9 L815.8,252.1 L816.3,251.2 L816.7,249.9 L817.1,248.6 L817.4,247.4 L817.6,246.3 L817.8,245.5" fill="none" stroke="#bdbdbd" stroke-width="0.6" stroke-linecap="round" stroke-linejoin="round" opacity="1"/><path d="M768.9,263.7 L769.4,264.0 L769.9,264.5 L770.6,265.0 L771.4,265.6 L772.1,266.3 L772.8,266.9 L773.5,267.6 L774.2,268.4 L775.0,269.3 L775.7,270.1 L776.3,270.7 L776.7,271.2" fill="none" stroke="#bdbdbd" stroke-width="0.6" stroke-linecap="round" stroke-linejoin="round" opacity="1"/><path d="M768.9,263.7 L769.0,264.2 L769.0,265.0 L769.1,265.8 L769.2,266.8 L769.4,267.7 L769.8,268.6 L770.4,269.5 L771.3,270.5 L772.2,271.4 L773.2,272.3 L774.0,273.1 L774.5,273.6" fill="none" stroke="#bdbdbd" stroke-width="0.6" stroke-linecap="round" stroke-linejoin="round" opacity="1"/><path d="M798.4,268.3 L798.8,268.7 L799.3,269.3 L799.8,269.9 L800.5,270.6 L801.1,271.4 L801.6,272.1 L802.2,273.0 L802.8,273.9 L803.4,274.8 L803.9,275.7 L804.4,276.5 L804.7,277.1" fill="none" stroke="#bdbdbd" stroke-width="0.6" stroke-linecap="round" stroke-linejoin="round" opacity="1"/><path d="M798.4,268.3 L798.4,268.8 L798.3,269.6 L798.2,270.4 L798.1,271.4 L798.2,272.4 L798.4,273.3 L798.9,274.3 L799.5,275.4 L800.3,276.5 L801.1,277.5 L801.8,278.4 L802.2,279.1" fill="none" stroke="#bdbdbd" stroke-width="0.6" stroke-linecap="round" stroke-linejoin="round" opacity="1"/><path d="M821.7,258.6 L821.8,258.0 L821.9,257.3 L822.0,256.5 L822.2,255.5 L822.4,254.6 L822.6,253.6 L822.8,252.7 L823.2,251.6 L823.5,250.6 L823.8,249.6 L824.1,248.7 L824.3,248.1" fill="none" stroke="#bdbdbd" stroke-width="0.6" stroke-linecap="round" stroke-linejoin="round" opacity="1"/><path d="M821.7,258.6 L822.1,258.3 L822.8,257.9 L823.5,257.4 L824.3,256.8 L825.0,256.1 L825.5,255.4 L826.0,254.4 L826.4,253.2 L826.8,251.9 L827.1,250.6 L827.3,249.5 L827.5,248.8" fill="none" stroke="#bdbdbd" stroke-width="0.6" stroke-linecap="round" stroke-linejoin="round" opacity="1"/><path d="M835.0,265.8 L835.0,265.3 L835.0,264.5 L835.0,263.7 L835.0,262.7 L835.0,261.7 L835.0,260.8 L835.1,259.8 L835.3,258.7 L835.4,257.6 L835.6,256.6 L835.7,255.7 L835.8,255.0" fill="none" stroke="#bdbdbd" stroke-width="0.6" stroke-linecap="round" stroke-linejoin="round" opacity="1"/><path d="M835.0,265.8 L835.4,265.4 L836.0,264.9 L836.6,264.3 L837.2,263.6 L837.8,262.8 L838.3,262.0 L838.5,260.9 L838.7,259.7 L838.9,258.3 L838.9,257.0 L839.0,255.9 L839.1,255.1" fill="none" stroke="#bdbdbd" stroke-width="0.6" stroke-linecap="round" stroke-linejoin="round" opacity="1"/><path d="M768.3,278.0 L768.6,278.4 L769.1,279.0 L769.7,279.6 L770.3,280.3 L770.9,281.1 L771.5,281.8 L772.1,282.6 L772.7,283.6 L773.2,284.5 L773.8,285.4 L774.3,286.2 L774.6,286.7" fill="none" stroke="#bdbdbd" stroke-width="0.6" stroke-linecap="round" stroke-linejoin="round" opacity="1"/><path d="M768.3,278.0 L768.2,278.5 L768.1,279.3 L768.0,280.1 L768.0,281.1 L768.1,282.1 L768.3,283.0 L768.7,284.0 L769.4,285.1 L770.2,286.2 L770.9,287.2 L771.6,288.1 L772.1,288.8" fill="none" stroke="#bdbdbd" stroke-width="0.6" stroke-linecap="round" stroke-linejoin="round" opacity="1"/><path d="M786.8,276.2 L787.2,276.5 L787.9,276.8 L788.6,277.2 L789.5,277.7 L790.3,278.2 L791.1,278.7 L791.9,279.3 L792.8,279.9 L793.7,280.6 L794.5,281.3 L795.2,281.9 L795.7,282.3" fill="none" stroke="#bdbdbd" stroke-width="0.6" stroke-linecap="round" stroke-linejoin="round" opacity="1"/><path d="M786.8,276.2 L786.9,276.7 L787.1,277.4 L787.3,278.3 L787.6,279.2 L787.9,280.1 L788.5,280.9 L789.2,281.7 L790.2,282.5 L791.3,283.2 L792.4,284.0 L793.4,284.6 L794.0,285.0" fill="none" stroke="#bdbdbd" stroke-width="0.6" stroke-linecap="round" stroke-linejoin="round" opacity="1"/><path d="M810.3,277.2 L810.5,277.6 L810.8,278.3 L811.2,279.1 L811.6,279.9 L812.0,280.8 L812.4,281.7 L812.7,282.6 L813.1,283.7 L813.4,284.7 L813.7,285.8 L813.9,286.6 L814.1,287.2" fill="none" stroke="#bdbdbd" stroke-width="0.6" stroke-linecap="round" stroke-linejoin="round" opacity="1"/><path d="M810.3,277.2 L810.1,277.7 L809.8,278.3 L809.5,279.2 L809.2,280.1 L809.0,281.0 L809.0,282.0 L809.2,283.1 L809.5,284.3 L810.0,285.6 L810.5,286.8 L810.9,287.8 L811.1,288.5" fill="none" stroke="#bdbdbd" stroke-width="0.6" stroke-linecap="round" stroke-linejoin="round" opacity="1"/><path d="M824.5,281.6 L824.9,281.8 L825.6,282.2 L826.3,282.6 L827.2,283.1 L828.0,283.6 L828.8,284.1 L829.6,284.6 L830.5,285.3 L831.4,286.0 L832.2,286.7 L832.9,287.2 L833.4,287.6" fill="none" stroke="#bdbdbd" stroke-width="0.6" stroke-linecap="round" stroke-linejoin="round" opacity="1"/><path d="M824.5,281.6 L824.6,282.1 L824.8,282.8 L825.0,283.7 L825.2,284.6 L825.6,285.5 L826.2,286.3 L826.9,287.0 L827.9,287.8 L829.0,288.6 L830.1,289.3 L831.0,290.0 L831.7,290.4" fill="none" stroke="#bdbdbd" stroke-width="0.6" stroke-linecap="round" stroke-linejoin="round" opacity="1"/><path d="M782.7,280.8 L783.0,280.3 L783.2,279.6 L783.6,278.8 L784.0,277.9 L784.4,277.1 L784.8,276.2 L785.3,275.4 L785.9,274.5 L786.5,273.5 L787.1,272.6 L787.6,271.9 L788.0,271.4" fill="none" stroke="#bdbdbd" stroke-width="0.6" stroke-linecap="round" stroke-linejoin="round" opacity="1"/><path d="M782.7,280.8 L783.2,280.6 L783.9,280.4 L784.8,280.1 L785.7,279.7 L786.5,279.3 L787.3,278.7 L788.0,277.8 L788.7,276.8 L789.4,275.6 L790.0,274.5 L790.5,273.5 L790.9,272.8" fill="none" stroke="#bdbdbd" stroke-width="0.6" stroke-linecap="round" stroke-linejoin="round" opacity="1"/><path d="M801.8,284.8 L802.3,285.1 L803.0,285.4 L803.7,285.8 L804.6,286.3 L805.4,286.8 L806.2,287.3 L807.0,287.9 L807.9,288.5 L808.7,289.2 L809.6,289.9 L810.3,290.5 L810.8,290.9" fill="none" stroke="#bdbdbd" stroke-width="0.6" stroke-linecap="round" stroke-linejoin="round" opacity="1"/><path d="M801.8,284.8 L802.0,285.3 L802.1,286.0 L802.3,286.9 L802.6,287.8 L803.0,288.7 L803.5,289.5 L804.3,290.3 L805.3,291.1 L806.4,291.9 L807.5,292.6 L808.4,293.2 L809.1,293.6" fill="none" stroke="#bdbdbd" stroke-width="0.6" stroke-linecap="round" stroke-linejoin="round" opacity="1"/><ellipse cx="771.1" cy="189.0" rx="5" ry="3.3" transform="rotate(55 771.1 189.0)" fill="#d2d2cd" stroke="#96968f" stroke-width="0.7"/><ellipse cx="794.8" cy="185.8" rx="5" ry="3.3" transform="rotate(160 794.8 185.8)" fill="#d2d2cd" stroke="#96968f" stroke-width="0.7"/><ellipse cx="801.3" cy="194.4" rx="5" ry="3.3" transform="rotate(-50 801.3 194.4)" fill="#d2d2cd" stroke="#96968f" stroke-width="0.7"/><ellipse cx="814.2" cy="194.4" rx="5" ry="3.3" transform="rotate(-70 814.2 194.4)" fill="#d2d2cd" stroke="#96968f" stroke-width="0.7"/><ellipse cx="831.4" cy="189.0" rx="5" ry="3.3" transform="rotate(130 831.4 189.0)" fill="#d2d2cd" stroke="#96968f" stroke-width="0.7"/><ellipse cx="792.7" cy="205.1" rx="5" ry="3.3" transform="rotate(60 792.7 205.1)" fill="#d2d2cd" stroke="#96968f" stroke-width="0.7"/><ellipse cx="806.7" cy="207.3" rx="5" ry="3.3" transform="rotate(60 806.7 207.3)" fill="#d2d2cd" stroke="#96968f" stroke-width="0.7"/><ellipse cx="770.1" cy="213.8" rx="5" ry="3.3" transform="rotate(-120 770.1 213.8)" fill="#d2d2cd" stroke="#96968f" stroke-width="0.7"/><ellipse cx="785.1" cy="213.8" rx="5" ry="3.3" transform="rotate(-140 785.1 213.8)" fill="#d2d2cd" stroke="#96968f" stroke-width="0.7"/><ellipse cx="823.9" cy="211.6" rx="5" ry="3.3" transform="rotate(-30 823.9 211.6)" fill="#d2d2cd" stroke="#96968f" stroke-width="0.7"/><ellipse cx="778.7" cy="224.5" rx="5" ry="3.3" transform="rotate(20 778.7 224.5)" fill="#d2d2cd" stroke="#96968f" stroke-width="0.7"/><ellipse cx="794.8" cy="223.4" rx="5" ry="3.3" transform="rotate(120 794.8 223.4)" fill="#d2d2cd" stroke="#96968f" stroke-width="0.7"/><ellipse cx="808.8" cy="226.7" rx="5" ry="3.3" transform="rotate(-60 808.8 226.7)" fill="#d2d2cd" stroke="#96968f" stroke-width="0.7"/><ellipse cx="822.8" cy="225.6" rx="5" ry="3.3" transform="rotate(-40 822.8 225.6)" fill="#d2d2cd" stroke="#96968f" stroke-width="0.7"/><ellipse cx="765.8" cy="228.8" rx="5" ry="3.3" transform="rotate(95 765.8 228.8)" fill="#d2d2cd" stroke="#96968f" stroke-width="0.7"/><ellipse cx="832.5" cy="229.9" rx="5" ry="3.3" transform="rotate(-60 832.5 229.9)" fill="#d2d2cd" stroke="#96968f" stroke-width="0.7"/><ellipse cx="777.6" cy="238.5" rx="5" ry="3.3" transform="rotate(-40 777.6 238.5)" fill="#d2d2cd" stroke="#96968f" stroke-width="0.7"/><ellipse cx="799.1" cy="237.4" rx="5" ry="3.3" transform="rotate(70 799.1 237.4)" fill="#d2d2cd" stroke="#96968f" stroke-width="0.7"/><ellipse cx="816.4" cy="237.4" rx="5" ry="3.3" transform="rotate(15 816.4 237.4)" fill="#d2d2cd" stroke="#96968f" stroke-width="0.7"/><ellipse cx="772.2" cy="250.4" rx="5" ry="3.3" transform="rotate(60 772.2 250.4)" fill="#d2d2cd" stroke="#96968f" stroke-width="0.7"/><ellipse cx="787.3" cy="246.1" rx="5" ry="3.3" transform="rotate(30 787.3 246.1)" fill="#d2d2cd" stroke="#96968f" stroke-width="0.7"/><ellipse cx="818.5" cy="249.3" rx="5" ry="3.3" transform="rotate(-150 818.5 249.3)" fill="#d2d2cd" stroke="#96968f" stroke-width="0.7"/><ellipse cx="830.4" cy="253.6" rx="5" ry="3.3" transform="rotate(100 830.4 253.6)" fill="#d2d2cd" stroke="#96968f" stroke-width="0.7"/><ellipse cx="785.1" cy="257.9" rx="5" ry="3.3" transform="rotate(60 785.1 257.9)" fill="#d2d2cd" stroke="#96968f" stroke-width="0.7"/><ellipse cx="809.9" cy="259.0" rx="5" ry="3.3" transform="rotate(-60 809.9 259.0)" fill="#d2d2cd" stroke="#96968f" stroke-width="0.7"/><ellipse cx="766.8" cy="260.1" rx="5" ry="3.3" transform="rotate(60 766.8 260.1)" fill="#d2d2cd" stroke="#96968f" stroke-width="0.7"/><ellipse cx="797.0" cy="264.4" rx="5" ry="3.3" transform="rotate(70 797.0 264.4)" fill="#d2d2cd" stroke="#96968f" stroke-width="0.7"/><ellipse cx="819.6" cy="262.2" rx="5" ry="3.3" transform="rotate(-60 819.6 262.2)" fill="#d2d2cd" stroke="#96968f" stroke-width="0.7"/><ellipse cx="833.6" cy="269.7" rx="5" ry="3.3" transform="rotate(-70 833.6 269.7)" fill="#d2d2cd" stroke="#96968f" stroke-width="0.7"/><ellipse cx="766.8" cy="274.1" rx="5" ry="3.3" transform="rotate(70 766.8 274.1)" fill="#d2d2cd" stroke="#96968f" stroke-width="0.7"/><ellipse cx="784.1" cy="273.0" rx="5" ry="3.3" transform="rotate(50 784.1 273.0)" fill="#d2d2cd" stroke="#96968f" stroke-width="0.7"/><ellipse cx="809.9" cy="273.0" rx="5" ry="3.3" transform="rotate(85 809.9 273.0)" fill="#d2d2cd" stroke="#96968f" stroke-width="0.7"/><ellipse cx="821.8" cy="278.4" rx="5" ry="3.3" transform="rotate(50 821.8 278.4)" fill="#d2d2cd" stroke="#96968f" stroke-width="0.7"/><ellipse cx="779.8" cy="283.7" rx="5" ry="3.3" transform="rotate(-45 779.8 283.7)" fill="#d2d2cd" stroke="#96968f" stroke-width="0.7"/><ellipse cx="799.1" cy="281.6" rx="5" ry="3.3" transform="rotate(50 799.1 281.6)" fill="#d2d2cd" stroke="#96968f" stroke-width="0.7"/><path d="M931.3000000000001,291.5 L932.0,200 L933.2,200 L933.9,291.5Z" fill="#bdbdbb"/><path d="M932.6,273.7 Q915.6,274.7 914.8,257.7" fill="none" stroke="#bdbdbb" stroke-width="0.9"/><path d="M932.6,273.7 Q920.4,274.7 919.7,256.7" fill="none" stroke="#bdbdbb" stroke-width="0.9"/><path d="M932.6,273.7 Q925.5,274.7 925.1,256.7" fill="none" stroke="#bdbdbb" stroke-width="0.9"/><path d="M932.6,273.7 Q949.6,274.7 950.5,257.7" fill="none" stroke="#bdbdbb" stroke-width="0.9"/><path d="M932.6,273.7 Q944.8,274.7 945.5,256.7" fill="none" stroke="#bdbdbb" stroke-width="0.9"/><path d="M932.6,273.7 Q939.7,274.7 940.1,256.7" fill="none" stroke="#bdbdbb" stroke-width="0.9"/><path d="M932.6,257 Q915.1,258.0 914.2,241.0" fill="none" stroke="#bdbdbb" stroke-width="0.9"/><path d="M932.6,257 Q920.0,258.0 919.4,240.0" fill="none" stroke="#bdbdbb" stroke-width="0.9"/><path d="M932.6,257 Q925.2,258.0 924.9,240.0" fill="none" stroke="#bdbdbb" stroke-width="0.9"/><path d="M932.6,257 Q950.1,258.0 951.0,241.0" fill="none" stroke="#bdbdbb" stroke-width="0.9"/><path d="M932.6,257 Q945.2,258.0 945.8,240.0" fill="none" stroke="#bdbdbb" stroke-width="0.9"/><path d="M932.6,257 Q940.0,258.0 940.3,240.0" fill="none" stroke="#bdbdbb" stroke-width="0.9"/><path d="M932.6,241.6 Q915.6,242.6 914.8,225.6" fill="none" stroke="#bdbdbb" stroke-width="0.9"/><path d="M932.6,241.6 Q920.4,242.6 919.7,224.6" fill="none" stroke="#bdbdbb" stroke-width="0.9"/><path d="M932.6,241.6 Q925.5,242.6 925.1,224.6" fill="none" stroke="#bdbdbb" stroke-width="0.9"/><path d="M932.6,241.6 Q949.6,242.6 950.5,225.6" fill="none" stroke="#bdbdbb" stroke-width="0.9"/><path d="M932.6,241.6 Q944.8,242.6 945.5,224.6" fill="none" stroke="#bdbdbb" stroke-width="0.9"/><path d="M932.6,241.6 Q939.7,242.6 940.1,224.6" fill="none" stroke="#bdbdbb" stroke-width="0.9"/><path d="M932.6,227.2 Q917.6,228.2 916.9,211.2" fill="none" stroke="#bdbdbb" stroke-width="0.9"/><path d="M932.6,227.2 Q921.8,228.2 921.3,210.2" fill="none" stroke="#bdbdbb" stroke-width="0.9"/><path d="M932.6,227.2 Q926.3,228.2 926.0,210.2" fill="none" stroke="#bdbdbb" stroke-width="0.9"/><path d="M932.6,227.2 Q947.6,228.2 948.4,211.2" fill="none" stroke="#bdbdbb" stroke-width="0.9"/><path d="M932.6,227.2 Q943.4,228.2 943.9,210.2" fill="none" stroke="#bdbdbb" stroke-width="0.9"/><path d="M932.6,227.2 Q938.9,228.2 939.2,210.2" fill="none" stroke="#bdbdbb" stroke-width="0.9"/><path d="M932.6,212.9 Q920.6,213.9 920.0,196.9" fill="none" stroke="#bdbdbb" stroke-width="0.9"/><path d="M932.6,212.9 Q924.0,213.9 923.5,195.9" fill="none" stroke="#bdbdbb" stroke-width="0.9"/><path d="M932.6,212.9 Q927.6,213.9 927.3,195.9" fill="none" stroke="#bdbdbb" stroke-width="0.9"/><path d="M932.6,212.9 Q944.6,213.9 945.2,196.9" fill="none" stroke="#bdbdbb" stroke-width="0.9"/><path d="M932.6,212.9 Q941.2,213.9 941.7,195.9" fill="none" stroke="#bdbdbb" stroke-width="0.9"/><path d="M932.6,212.9 Q937.6,213.9 937.9,195.9" fill="none" stroke="#bdbdbb" stroke-width="0.9"/><path d="M932.0,201.9 L931.6,201.4 L931.2,200.8 L930.6,200.1 L930.1,199.3 L929.5,198.5 L929.1,197.8 L928.7,197.1 L928.2,196.3 L927.9,195.5 L927.5,194.8 L927.3,194.2 L927.0,193.8" fill="none" stroke="#b4b4b2" stroke-width="0.8" stroke-linecap="round" stroke-linejoin="round" opacity="1"/><path d="M935.1,209.6 L934.4,209.1 L933.4,208.5 L932.3,207.7 L931.1,206.9 L929.9,206.1 L928.9,205.3 L928.1,204.5 L927.2,203.7 L926.4,202.9 L925.7,202.1 L925.1,201.4 L924.7,201.0" fill="none" stroke="#b4b4b2" stroke-width="0.8" stroke-linecap="round" stroke-linejoin="round" opacity="1"/><path d="M932.8,203.3 L933.2,202.8 L933.7,202.1 L934.4,201.3 L935.0,200.4 L935.7,199.5 L936.2,198.7 L936.7,197.8 L937.1,196.9 L937.6,196.0 L938.0,195.2 L938.3,194.5 L938.5,194.0" fill="none" stroke="#b4b4b2" stroke-width="0.8" stroke-linecap="round" stroke-linejoin="round" opacity="1"/><path d="M930.9,211.1 L930.5,210.7 L929.9,210.2 L929.3,209.5 L928.6,208.8 L927.9,208.0 L927.3,207.4 L926.8,206.7 L926.4,206.0 L925.9,205.3 L925.5,204.6 L925.1,204.0 L924.9,203.6" fill="none" stroke="#b4b4b2" stroke-width="0.8" stroke-linecap="round" stroke-linejoin="round" opacity="1"/><path d="M934.4,202.3 L935.2,201.5 L936.2,200.5 L937.5,199.2 L938.8,197.8 L940.1,196.5 L941.2,195.2 L942.1,193.9 L943.1,192.5 L944.0,191.2 L944.7,189.9 L945.4,188.8 L945.9,188.1" fill="none" stroke="#b4b4b2" stroke-width="0.8" stroke-linecap="round" stroke-linejoin="round" opacity="1"/><path d="M934.0,210.3 L933.6,209.5 L933.0,208.4 L932.3,207.1 L931.6,205.7 L931.0,204.3 L930.4,203.0 L929.9,201.7 L929.4,200.3 L928.9,198.9 L928.5,197.6 L928.2,196.5 L927.9,195.8" fill="none" stroke="#b4b4b2" stroke-width="0.8" stroke-linecap="round" stroke-linejoin="round" opacity="1"/><path d="M933.2,208.1 L933.7,207.7 L934.3,207.2 L935.0,206.6 L935.8,205.9 L936.5,205.3 L937.2,204.7 L937.7,204.1 L938.2,203.4 L938.8,202.8 L939.2,202.2 L939.6,201.7 L939.9,201.3" fill="none" stroke="#b4b4b2" stroke-width="0.8" stroke-linecap="round" stroke-linejoin="round" opacity="1"/><path d="M932.4,201.1 L932.4,200.5 L932.5,199.8 L932.5,198.9 L932.5,197.9 L932.5,196.9 L932.5,196.0 L932.5,195.1 L932.5,194.1 L932.5,193.2 L932.6,192.3 L932.6,191.5 L932.6,190.9" fill="none" stroke="#b4b4b2" stroke-width="0.8" stroke-linecap="round" stroke-linejoin="round" opacity="1"/><path d="M932.9,203.6 L933.9,202.9 L935.3,202.0 L936.9,200.9 L938.7,199.7 L940.3,198.5 L941.7,197.4 L943.0,196.3 L944.2,195.1 L945.4,194.0 L946.4,192.9 L947.2,191.9 L947.9,191.3" fill="none" stroke="#b4b4b2" stroke-width="0.8" stroke-linecap="round" stroke-linejoin="round" opacity="1"/><path d="M934.9,210.2 L935.7,209.6 L936.7,208.8 L938.0,207.9 L939.4,206.9 L940.6,205.9 L941.7,204.9 L942.7,204.0 L943.6,203.0 L944.5,202.0 L945.3,201.0 L946.0,200.2 L946.5,199.7" fill="none" stroke="#b4b4b2" stroke-width="0.8" stroke-linecap="round" stroke-linejoin="round" opacity="1"/><path d="M933.2,205.2 L933.2,204.5 L933.2,203.5 L933.3,202.3 L933.3,201.1 L933.3,199.8 L933.3,198.7 L933.3,197.5 L933.4,196.3 L933.4,195.0 L933.4,193.9 L933.4,192.9 L933.4,192.2" fill="none" stroke="#b4b4b2" stroke-width="0.8" stroke-linecap="round" stroke-linejoin="round" opacity="1"/><path d="M934.5,200.5 L934.0,200.0 L933.2,199.3 L932.4,198.5 L931.5,197.6 L930.6,196.7 L929.9,195.9 L929.2,195.1 L928.6,194.2 L928.0,193.3 L927.5,192.4 L927.0,191.7 L926.7,191.2" fill="none" stroke="#b4b4b2" stroke-width="0.8" stroke-linecap="round" stroke-linejoin="round" opacity="1"/><path d="M931.3,206.4 L930.4,205.9 L929.2,205.1 L927.8,204.2 L926.2,203.3 L924.8,202.3 L923.6,201.4 L922.5,200.5 L921.4,199.6 L920.4,198.6 L919.5,197.7 L918.8,197.0 L918.2,196.4" fill="none" stroke="#b4b4b2" stroke-width="0.8" stroke-linecap="round" stroke-linejoin="round" opacity="1"/><path d="M935.6,202.3 L935.5,201.7 L935.5,200.8 L935.4,199.7 L935.3,198.5 L935.2,197.4 L935.1,196.3 L935.1,195.2 L935.0,194.1 L935.0,192.9 L934.9,191.8 L934.9,190.9 L934.8,190.3" fill="none" stroke="#b4b4b2" stroke-width="0.8" stroke-linecap="round" stroke-linejoin="round" opacity="1"/><path d="M933.4,203.3 L933.3,202.8 L933.1,202.0 L932.9,201.1 L932.7,200.1 L932.4,199.1 L932.3,198.2 L932.1,197.3 L932.0,196.3 L931.8,195.3 L931.7,194.4 L931.6,193.6 L931.5,193.0" fill="none" stroke="#b4b4b2" stroke-width="0.8" stroke-linecap="round" stroke-linejoin="round" opacity="1"/><path d="M931.5,206.7 L931.2,205.8 L930.7,204.6 L930.1,203.1 L929.6,201.6 L929.0,200.0 L928.5,198.5 L928.1,197.1 L927.7,195.5 L927.3,194.0 L926.9,192.5 L926.6,191.3 L926.4,190.4" fill="none" stroke="#b4b4b2" stroke-width="0.8" stroke-linecap="round" stroke-linejoin="round" opacity="1"/><path d="M930.0,202.7 L930.4,202.4 L931.1,201.9 L931.9,201.3 L932.7,200.7 L933.5,200.0 L934.2,199.5 L934.8,198.9 L935.3,198.2 L935.9,197.6 L936.4,197.0 L936.8,196.5 L937.1,196.2" fill="none" stroke="#b4b4b2" stroke-width="0.8" stroke-linecap="round" stroke-linejoin="round" opacity="1"/><path d="M931.0,204.0 L931.6,203.2 L932.3,202.2 L933.3,201.0 L934.2,199.7 L935.1,198.5 L935.9,197.3 L936.6,196.1 L937.3,194.8 L937.9,193.5 L938.5,192.3 L938.9,191.3 L939.3,190.5" fill="none" stroke="#b4b4b2" stroke-width="0.8" stroke-linecap="round" stroke-linejoin="round" opacity="1"/><path d="M929.9,208.4 L929.3,207.8 L928.5,206.9 L927.5,206.0 L926.5,204.9 L925.6,203.8 L924.8,202.9 L924.0,201.9 L923.3,200.8 L922.7,199.8 L922.1,198.8 L921.6,198.0 L921.2,197.4" fill="none" stroke="#b4b4b2" stroke-width="0.8" stroke-linecap="round" stroke-linejoin="round" opacity="1"/><path d="M934.0,211.5 L935.0,210.8 L936.4,209.7 L938.0,208.4 L939.7,207.1 L941.3,205.7 L942.7,204.5 L944.0,203.2 L945.2,201.9 L946.3,200.5 L947.3,199.2 L948.1,198.2 L948.8,197.4" fill="none" stroke="#b4b4b2" stroke-width="0.8" stroke-linecap="round" stroke-linejoin="round" opacity="1"/><path d="M935.4,209.3 L934.7,208.9 L933.8,208.4 L932.7,207.8 L931.5,207.1 L930.4,206.5 L929.4,205.9 L928.6,205.2 L927.8,204.6 L927.0,203.9 L926.3,203.3 L925.7,202.8 L925.3,202.4" fill="none" stroke="#b4b4b2" stroke-width="0.8" stroke-linecap="round" stroke-linejoin="round" opacity="1"/><path d="M933.3,209.8 L933.1,208.8 L932.7,207.3 L932.3,205.7 L931.9,203.8 L931.5,202.0 L931.2,200.3 L930.9,198.6 L930.6,196.8 L930.3,194.9 L930.0,193.2 L929.8,191.8 L929.7,190.8" fill="none" stroke="#b4b4b2" stroke-width="0.8" stroke-linecap="round" stroke-linejoin="round" opacity="1"/><path d="M932.3,201.6 L932.0,201.1 L931.6,200.4 L931.1,199.6 L930.6,198.6 L930.1,197.7 L929.7,196.9 L929.3,196.0 L929.0,195.1 L928.6,194.2 L928.3,193.4 L928.1,192.7 L927.9,192.1" fill="none" stroke="#b4b4b2" stroke-width="0.8" stroke-linecap="round" stroke-linejoin="round" opacity="1"/><path d="M931.6,200.1 L931.3,199.1 L930.8,197.6 L930.3,195.9 L929.7,194.1 L929.2,192.3 L928.7,190.6 L928.3,188.9 L927.9,187.1 L927.6,185.2 L927.2,183.5 L927.0,182.1 L926.7,181.1" fill="none" stroke="#b4b4b2" stroke-width="0.8" stroke-linecap="round" stroke-linejoin="round" opacity="1"/><path d="M934.3,204.4 L933.7,204.0 L932.9,203.5 L932.0,202.9 L931.0,202.3 L930.1,201.7 L929.3,201.1 L928.6,200.6 L927.9,199.9 L927.3,199.3 L926.7,198.7 L926.2,198.3 L925.8,197.9" fill="none" stroke="#b4b4b2" stroke-width="0.8" stroke-linecap="round" stroke-linejoin="round" opacity="1"/><path d="M935.5,205.1 L935.2,204.6 L934.9,204.0 L934.4,203.2 L934.0,202.4 L933.5,201.6 L933.2,200.9 L932.8,200.1 L932.5,199.3 L932.2,198.5 L931.9,197.7 L931.7,197.1 L931.5,196.7" fill="none" stroke="#b4b4b2" stroke-width="0.8" stroke-linecap="round" stroke-linejoin="round" opacity="1"/><path d="M929.9,202.0 L929.6,201.6 L929.1,201.1 L928.6,200.4 L928.0,199.7 L927.4,199.0 L926.9,198.3 L926.5,197.7 L926.1,197.0 L925.7,196.3 L925.3,195.6 L925.1,195.0 L924.8,194.6" fill="none" stroke="#b4b4b2" stroke-width="0.8" stroke-linecap="round" stroke-linejoin="round" opacity="1"/><path d="M929.8,205.9 L930.1,205.4 L930.4,204.7 L930.8,203.9 L931.2,203.0 L931.6,202.1 L932.0,201.3 L932.3,200.4 L932.6,199.6 L932.8,198.7 L933.1,197.8 L933.3,197.2 L933.4,196.7" fill="none" stroke="#b4b4b2" stroke-width="0.8" stroke-linecap="round" stroke-linejoin="round" opacity="1"/><path d="M930.3,206.4 L929.7,205.4 L928.7,204.1 L927.6,202.5 L926.4,200.8 L925.3,199.1 L924.3,197.5 L923.5,195.9 L922.6,194.2 L921.9,192.5 L921.2,190.9 L920.6,189.6 L920.2,188.7" fill="none" stroke="#b4b4b2" stroke-width="0.8" stroke-linecap="round" stroke-linejoin="round" opacity="1"/><path d="M935.5,205.7 L936.0,205.1 L936.7,204.3 L937.4,203.3 L938.3,202.2 L939.1,201.1 L939.7,200.1 L940.3,199.2 L940.9,198.1 L941.5,197.0 L941.9,196.0 L942.4,195.2 L942.7,194.6" fill="none" stroke="#b4b4b2" stroke-width="0.8" stroke-linecap="round" stroke-linejoin="round" opacity="1"/><path d="M929.8,205.1 L929.4,204.4 L928.7,203.6 L928.0,202.6 L927.2,201.5 L926.5,200.4 L925.8,199.4 L925.3,198.4 L924.7,197.3 L924.2,196.2 L923.7,195.2 L923.3,194.3 L923.1,193.7" fill="none" stroke="#b4b4b2" stroke-width="0.8" stroke-linecap="round" stroke-linejoin="round" opacity="1"/><path d="M934.6,206.0 L934.0,205.1 L933.1,203.8 L932.0,202.4 L930.9,200.8 L929.9,199.2 L929.0,197.7 L928.2,196.2 L927.4,194.7 L926.7,193.1 L926.0,191.6 L925.5,190.3 L925.1,189.4" fill="none" stroke="#b4b4b2" stroke-width="0.8" stroke-linecap="round" stroke-linejoin="round" opacity="1"/><path d="M931.1,202.5 L930.4,202.1 L929.5,201.6 L928.5,201.0 L927.4,200.3 L926.3,199.7 L925.4,199.1 L924.6,198.4 L923.9,197.8 L923.1,197.1 L922.5,196.5 L921.9,196.0 L921.5,195.6" fill="none" stroke="#b4b4b2" stroke-width="0.8" stroke-linecap="round" stroke-linejoin="round" opacity="1"/><path d="M930.5,200.6 L929.8,199.7 L928.9,198.5 L927.8,197.1 L926.6,195.6 L925.5,194.0 L924.5,192.6 L923.7,191.2 L922.9,189.6 L922.1,188.1 L921.4,186.7 L920.9,185.4 L920.5,184.6" fill="none" stroke="#b4b4b2" stroke-width="0.8" stroke-linecap="round" stroke-linejoin="round" opacity="1"/><path d="M1066.6,289.7 L1064.9,288.1 L1062.7,285.9 L1060.0,283.2 L1057.1,280.4 L1054.1,277.6 L1051.1,275.2 L1047.8,273.0 L1044.1,270.8 L1040.3,268.6 L1036.6,266.7 L1033.6,265.1 L1031.4,263.9" fill="none" stroke="#a8a8a8" stroke-width="1.0" stroke-linecap="round" stroke-linejoin="round" opacity="1"/><path d="M1056.7,280.0C1055.0,279.7 1051.6,281.1 1050.7,282.5C1052.6,283.5 1056.0,282.1 1056.7,280.0Z" fill="#c2c2c2"/><path d="M1056.7,280.0C1058.8,279.2 1059.9,275.7 1058.7,273.8C1057.4,274.9 1056.3,278.4 1056.7,280.0Z" fill="#c2c2c2"/><path d="M1053.3,277.0C1050.6,276.6 1045.3,279.1 1043.9,281.4C1047.1,282.9 1052.4,280.4 1053.3,277.0Z" fill="#c2c2c2"/><path d="M1053.3,277.0C1056.4,275.5 1057.9,269.8 1055.9,267.0C1053.9,268.8 1052.4,274.4 1053.3,277.0Z" fill="#c2c2c2"/><path d="M1049.9,274.4C1047.5,274.3 1043.0,276.9 1042.0,279.1C1044.9,280.1 1049.3,277.5 1049.9,274.4Z" fill="#c2c2c2"/><path d="M1049.9,274.4C1052.6,272.8 1053.4,267.7 1051.4,265.3C1049.8,267.1 1048.9,272.2 1049.9,274.4Z" fill="#c2c2c2"/><path d="M1047.3,272.7C1045.2,272.7 1041.4,275.2 1040.6,277.1C1043.2,277.9 1047.0,275.4 1047.3,272.7Z" fill="#c2c2c2"/><path d="M1047.3,272.7C1049.6,271.2 1050.1,266.8 1048.3,264.8C1046.9,266.4 1046.4,270.8 1047.3,272.7Z" fill="#c2c2c2"/><path d="M1044.6,271.1C1042.7,271.1 1039.5,273.3 1038.8,275.0C1041.1,275.6 1044.3,273.4 1044.6,271.1Z" fill="#c2c2c2"/><path d="M1044.6,271.1C1046.5,269.7 1046.8,265.8 1045.2,264.1C1044.0,265.6 1043.7,269.4 1044.6,271.1Z" fill="#c2c2c2"/><path d="M1041.7,269.4C1040.1,269.5 1037.4,271.4 1036.8,272.9C1038.8,273.4 1041.5,271.4 1041.7,269.4Z" fill="#c2c2c2"/><path d="M1041.7,269.4C1043.3,268.2 1043.5,264.9 1042.1,263.5C1041.1,264.7 1040.9,268.1 1041.7,269.4Z" fill="#c2c2c2"/><path d="M1040.3,268.6C1038.9,268.7 1036.6,270.4 1036.2,271.6C1037.8,272.0 1040.1,270.3 1040.3,268.6Z" fill="#c2c2c2"/><path d="M1040.3,268.6C1041.6,267.6 1041.8,264.8 1040.6,263.6C1039.8,264.6 1039.6,267.5 1040.3,268.6Z" fill="#c2c2c2"/><path d="M1037.5,267.2C1036.4,267.2 1034.5,268.6 1034.1,269.7C1035.5,270.0 1037.4,268.6 1037.5,267.2Z" fill="#c2c2c2"/><path d="M1037.5,267.2C1038.6,266.3 1038.8,263.9 1037.7,262.9C1037.1,263.8 1036.9,266.2 1037.5,267.2Z" fill="#c2c2c2"/><path d="M1036.2,266.5C1035.3,266.4 1033.7,267.6 1033.5,268.5C1034.7,268.8 1036.2,267.7 1036.2,266.5Z" fill="#c2c2c2"/><path d="M1036.2,266.5C1037.2,265.8 1037.3,263.9 1036.4,263.1C1035.7,263.8 1035.6,265.7 1036.2,266.5Z" fill="#c2c2c2"/><path d="M1035.0,265.8C1034.2,265.6 1033.0,266.5 1033.0,267.3C1034.0,267.8 1035.1,266.9 1035.0,265.8Z" fill="#c2c2c2"/><path d="M1035.0,265.8C1036.0,265.3 1036.1,263.9 1035.2,263.3C1034.5,263.8 1034.4,265.2 1035.0,265.8Z" fill="#c2c2c2"/><path d="M1032.9,264.7C1032.2,264.3 1031.5,264.9 1031.7,265.6C1032.5,266.1 1033.2,265.6 1032.9,264.7Z" fill="#c2c2c2"/><path d="M1032.9,264.7C1033.8,264.4 1033.9,263.5 1033.0,263.1C1032.3,263.4 1032.2,264.3 1032.9,264.7Z" fill="#c2c2c2"/><path d="M1071.8,289.7 L1073.8,287.7 L1076.7,285.0 L1080.0,281.7 L1083.6,278.2 L1087.2,274.5 L1090.4,271.1 L1093.5,267.5 L1096.7,263.6 L1099.8,259.6 L1102.7,255.8 L1105.2,252.7 L1107.0,250.4" fill="none" stroke="#a8a8a8" stroke-width="1.0" stroke-linecap="round" stroke-linejoin="round" opacity="1"/><path d="M1084.1,277.7C1084.5,276.0 1083.3,272.6 1081.8,271.5C1080.8,273.5 1082.0,276.9 1084.1,277.7Z" fill="#c2c2c2"/><path d="M1084.1,277.7C1084.9,279.8 1088.3,281.0 1090.3,279.9C1089.2,278.5 1085.8,277.3 1084.1,277.7Z" fill="#c2c2c2"/><path d="M1086.8,275.0C1087.3,272.4 1085.4,267.3 1083.2,265.8C1081.7,268.7 1083.6,273.9 1086.8,275.0Z" fill="#c2c2c2"/><path d="M1086.8,275.0C1088.0,278.1 1093.2,279.8 1096.1,278.2C1094.5,276.1 1089.3,274.3 1086.8,275.0Z" fill="#c2c2c2"/><path d="M1089.3,272.4C1089.8,269.8 1087.7,264.8 1085.6,263.4C1084.1,266.3 1086.2,271.3 1089.3,272.4Z" fill="#c2c2c2"/><path d="M1089.3,272.4C1090.5,275.3 1095.7,277.0 1098.5,275.3C1096.9,273.3 1091.7,271.6 1089.3,272.4Z" fill="#c2c2c2"/><path d="M1092.7,268.5C1093.0,266.2 1091.0,261.8 1089.1,260.6C1087.9,263.3 1089.9,267.7 1092.7,268.5Z" fill="#c2c2c2"/><path d="M1092.7,268.5C1093.9,271.1 1098.6,272.4 1101.0,270.7C1099.5,269.0 1094.8,267.7 1092.7,268.5Z" fill="#c2c2c2"/><path d="M1093.9,267.0C1094.2,265.0 1092.3,261.1 1090.6,260.1C1089.5,262.5 1091.4,266.4 1093.9,267.0Z" fill="#c2c2c2"/><path d="M1093.9,267.0C1095.0,269.4 1099.2,270.5 1101.3,269.0C1100.0,267.5 1095.8,266.4 1093.9,267.0Z" fill="#c2c2c2"/><path d="M1096.3,264.1C1096.5,262.3 1094.8,258.9 1093.3,257.9C1092.4,260.1 1094.0,263.5 1096.3,264.1Z" fill="#c2c2c2"/><path d="M1096.3,264.1C1097.3,266.1 1101.0,267.0 1102.9,265.7C1101.7,264.4 1098.0,263.5 1096.3,264.1Z" fill="#c2c2c2"/><path d="M1097.5,262.6C1097.7,261.0 1096.2,258.0 1094.8,257.2C1094.0,259.1 1095.5,262.1 1097.5,262.6Z" fill="#c2c2c2"/><path d="M1097.5,262.6C1098.4,264.4 1101.7,265.2 1103.3,264.0C1102.3,262.8 1099.0,262.0 1097.5,262.6Z" fill="#c2c2c2"/><path d="M1099.8,259.6C1100.0,258.2 1098.7,255.6 1097.4,254.9C1096.8,256.5 1098.1,259.2 1099.8,259.6Z" fill="#c2c2c2"/><path d="M1099.8,259.6C1100.7,261.2 1103.5,261.8 1105.0,260.8C1104.0,259.7 1101.1,259.1 1099.8,259.6Z" fill="#c2c2c2"/><path d="M1101.0,258.1C1101.1,256.9 1099.9,254.7 1098.9,254.1C1098.3,255.5 1099.5,257.8 1101.0,258.1Z" fill="#c2c2c2"/><path d="M1101.0,258.1C1101.7,259.5 1104.2,260.1 1105.4,259.1C1104.6,258.3 1102.1,257.7 1101.0,258.1Z" fill="#c2c2c2"/><path d="M1102.0,256.7C1102.2,255.7 1101.2,253.8 1100.3,253.3C1099.8,254.5 1100.8,256.4 1102.0,256.7Z" fill="#c2c2c2"/><path d="M1102.0,256.7C1102.7,257.9 1104.8,258.4 1105.9,257.6C1105.1,256.8 1103.0,256.3 1102.0,256.7Z" fill="#c2c2c2"/><path d="M1103.1,255.4C1103.3,254.5 1102.5,252.9 1101.6,252.6C1101.1,253.6 1101.9,255.2 1103.1,255.4Z" fill="#c2c2c2"/><path d="M1103.1,255.4C1103.5,256.5 1105.3,256.9 1106.2,256.1C1105.6,255.3 1103.9,254.9 1103.1,255.4Z" fill="#c2c2c2"/><path d="M1104.0,254.2C1104.4,253.4 1103.7,252.2 1102.9,252.0C1102.3,252.9 1103.0,254.1 1104.0,254.2Z" fill="#c2c2c2"/><path d="M1104.0,254.2C1104.4,255.2 1105.7,255.5 1106.4,254.7C1106.0,253.9 1104.7,253.6 1104.0,254.2Z" fill="#c2c2c2"/><path d="M1105.7,252.0C1106.2,251.4 1105.7,250.5 1104.9,250.5C1104.3,251.3 1104.7,252.1 1105.7,252.0Z" fill="#c2c2c2"/><path d="M1105.7,252.0C1105.9,253.0 1106.8,253.2 1107.3,252.4C1107.1,251.6 1106.2,251.4 1105.7,252.0Z" fill="#c2c2c2"/><path d="M1106.4,251.1C1107.0,250.6 1106.8,250.3 1106.0,250.5C1105.4,251.0 1105.6,251.4 1106.4,251.1Z" fill="#c2c2c2"/><path d="M1106.4,251.1C1106.3,252.0 1106.8,252.1 1107.1,251.3C1107.1,250.5 1106.7,250.4 1106.4,251.1Z" fill="#c2c2c2"/><path d="M1066.6,287.7 L1065.1,283.2 L1063.1,276.8 L1060.6,269.3 L1058.0,261.5 L1055.5,254.3 L1053.1,248.3 L1051.0,243.7 L1048.9,239.7 L1046.8,236.2 L1044.7,233.1 L1042.7,230.3 L1040.7,227.6 L1038.6,225.1 L1036.4,222.7 L1034.2,220.6 L1032.2,218.8 L1030.5,217.4 L1029.3,216.2" fill="none" stroke="#a8a8a8" stroke-width="1.0" stroke-linecap="round" stroke-linejoin="round" opacity="1"/><path d="M1059.7,266.4C1058.0,264.9 1053.5,264.4 1051.5,265.4C1053.1,267.7 1057.6,268.2 1059.7,266.4Z" fill="#c2c2c2"/><path d="M1059.7,266.4C1062.4,266.6 1065.7,263.5 1065.6,260.7C1063.5,261.1 1060.1,264.2 1059.7,266.4Z" fill="#c2c2c2"/><path d="M1058.7,263.4C1056.5,261.6 1050.5,260.9 1048.0,262.2C1050.0,265.2 1056.0,265.9 1058.7,263.4Z" fill="#c2c2c2"/><path d="M1058.7,263.4C1062.3,263.8 1066.7,259.6 1066.5,256.0C1063.7,256.5 1059.3,260.6 1058.7,263.4Z" fill="#c2c2c2"/><path d="M1056.7,257.8C1054.1,255.6 1046.9,254.9 1043.9,256.5C1046.4,260.1 1053.6,260.8 1056.7,257.8Z" fill="#c2c2c2"/><path d="M1056.7,257.8C1061.1,258.1 1066.2,253.1 1065.9,248.7C1062.6,249.4 1057.4,254.4 1056.7,257.8Z" fill="#c2c2c2"/><path d="M1055.8,255.1C1053.2,253.0 1046.3,252.5 1043.4,254.0C1045.9,257.4 1052.8,258.0 1055.8,255.1Z" fill="#c2c2c2"/><path d="M1055.8,255.1C1059.9,255.4 1064.8,250.5 1064.5,246.3C1061.3,247.0 1056.4,251.9 1055.8,255.1Z" fill="#c2c2c2"/><path d="M1054.0,250.3C1051.5,248.5 1045.0,248.1 1042.4,249.7C1044.8,252.8 1051.3,253.2 1054.0,250.3Z" fill="#c2c2c2"/><path d="M1054.0,250.3C1057.9,250.5 1062.3,245.8 1061.9,241.9C1058.9,242.6 1054.5,247.3 1054.0,250.3Z" fill="#c2c2c2"/><path d="M1053.1,248.3C1050.8,246.6 1044.7,246.4 1042.3,248.0C1044.6,250.8 1050.6,251.0 1053.1,248.3Z" fill="#c2c2c2"/><path d="M1053.1,248.3C1056.8,248.4 1060.8,243.9 1060.4,240.2C1057.6,240.9 1053.5,245.5 1053.1,248.3Z" fill="#c2c2c2"/><path d="M1051.5,244.8C1049.3,243.3 1043.6,243.4 1041.4,244.9C1043.6,247.4 1049.3,247.4 1051.5,244.8Z" fill="#c2c2c2"/><path d="M1051.5,244.8C1054.9,244.7 1058.6,240.3 1058.0,236.9C1055.4,237.7 1051.8,242.1 1051.5,244.8Z" fill="#c2c2c2"/><path d="M1050.7,243.2C1048.6,241.8 1043.3,242.0 1041.2,243.4C1043.4,245.8 1048.7,245.6 1050.7,243.2Z" fill="#c2c2c2"/><path d="M1050.7,243.2C1053.9,243.0 1057.2,238.8 1056.6,235.7C1054.2,236.5 1050.9,240.6 1050.7,243.2Z" fill="#c2c2c2"/><path d="M1049.1,240.2C1047.1,239.0 1042.2,239.4 1040.3,240.8C1042.4,242.9 1047.4,242.6 1049.1,240.2Z" fill="#c2c2c2"/><path d="M1049.1,240.2C1052.1,239.9 1055.0,235.9 1054.3,233.0C1052.1,233.8 1049.2,237.8 1049.1,240.2Z" fill="#c2c2c2"/><path d="M1047.6,237.5C1045.6,236.5 1041.1,237.0 1039.4,238.4C1041.4,240.3 1046.0,239.8 1047.6,237.5Z" fill="#c2c2c2"/><path d="M1047.6,237.5C1050.3,237.1 1052.9,233.3 1052.1,230.6C1050.1,231.5 1047.6,235.3 1047.6,237.5Z" fill="#c2c2c2"/><path d="M1046.0,235.0C1044.2,234.2 1040.0,234.8 1038.5,236.1C1040.4,237.8 1044.6,237.2 1046.0,235.0Z" fill="#c2c2c2"/><path d="M1046.0,235.0C1048.5,234.6 1050.8,231.0 1050.0,228.5C1048.2,229.4 1045.9,233.0 1046.0,235.0Z" fill="#c2c2c2"/><path d="M1045.2,233.9C1043.5,233.1 1039.6,233.7 1038.3,235.0C1040.1,236.5 1044.0,235.9 1045.2,233.9Z" fill="#c2c2c2"/><path d="M1045.2,233.9C1047.6,233.5 1049.6,230.1 1048.8,227.8C1047.2,228.6 1045.1,232.0 1045.2,233.9Z" fill="#c2c2c2"/><path d="M1043.7,231.7C1042.1,231.0 1038.5,231.7 1037.3,232.9C1039.0,234.3 1042.6,233.6 1043.7,231.7Z" fill="#c2c2c2"/><path d="M1043.7,231.7C1045.9,231.3 1047.6,228.1 1046.9,226.0C1045.4,226.8 1043.6,230.0 1043.7,231.7Z" fill="#c2c2c2"/><path d="M1042.2,229.6C1040.7,229.0 1037.4,229.7 1036.3,230.8C1037.9,232.1 1041.2,231.4 1042.2,229.6Z" fill="#c2c2c2"/><path d="M1042.2,229.6C1044.2,229.2 1045.8,226.3 1045.1,224.4C1043.7,225.1 1042.1,228.1 1042.2,229.6Z" fill="#c2c2c2"/><path d="M1041.5,228.6C1040.1,228.1 1037.1,228.7 1036.1,229.7C1037.5,230.9 1040.5,230.2 1041.5,228.6Z" fill="#c2c2c2"/><path d="M1041.5,228.6C1043.3,228.2 1044.7,225.5 1044.1,223.8C1042.8,224.5 1041.3,227.2 1041.5,228.6Z" fill="#c2c2c2"/><path d="M1039.9,226.6C1038.7,226.2 1036.0,226.8 1035.1,227.8C1036.5,228.8 1039.2,228.1 1039.9,226.6Z" fill="#c2c2c2"/><path d="M1039.9,226.6C1041.6,226.2 1042.8,223.7 1042.2,222.2C1041.0,222.8 1039.8,225.3 1039.9,226.6Z" fill="#c2c2c2"/><path d="M1038.3,224.7C1037.2,224.4 1034.8,225.1 1034.1,226.0C1035.3,226.8 1037.7,226.1 1038.3,224.7Z" fill="#c2c2c2"/><path d="M1038.3,224.7C1039.8,224.3 1040.8,222.0 1040.1,220.6C1039.1,221.3 1038.1,223.6 1038.3,224.7Z" fill="#c2c2c2"/><path d="M1037.5,223.9C1036.5,223.6 1034.4,224.3 1033.8,225.1C1034.9,225.8 1037.0,225.1 1037.5,223.9Z" fill="#c2c2c2"/><path d="M1037.5,223.9C1038.8,223.4 1039.6,221.4 1039.0,220.2C1038.1,220.8 1037.3,222.8 1037.5,223.9Z" fill="#c2c2c2"/><path d="M1035.9,222.2C1034.9,221.8 1033.2,222.5 1032.7,223.4C1033.7,224.0 1035.5,223.3 1035.9,222.2Z" fill="#c2c2c2"/><path d="M1035.9,222.2C1037.0,221.8 1037.7,220.0 1037.0,219.0C1036.1,219.5 1035.5,221.3 1035.9,222.2Z" fill="#c2c2c2"/><path d="M1034.2,220.6C1033.4,220.3 1032.0,220.9 1031.6,221.7C1032.6,222.3 1034.0,221.7 1034.2,220.6Z" fill="#c2c2c2"/><path d="M1034.2,220.6C1035.3,220.3 1035.8,218.8 1035.1,218.0C1034.3,218.3 1033.8,219.8 1034.2,220.6Z" fill="#c2c2c2"/><path d="M1033.5,219.9C1032.7,219.5 1031.6,220.0 1031.4,220.8C1032.2,221.4 1033.4,221.0 1033.5,219.9Z" fill="#c2c2c2"/><path d="M1033.5,219.9C1034.5,219.7 1034.8,218.5 1034.1,217.8C1033.3,218.1 1032.9,219.3 1033.5,219.9Z" fill="#c2c2c2"/><path d="M1032.0,218.6C1031.4,218.1 1030.6,218.5 1030.6,219.3C1031.2,219.9 1032.0,219.6 1032.0,218.6Z" fill="#c2c2c2"/><path d="M1032.0,218.6C1032.9,218.6 1033.2,217.7 1032.4,217.1C1031.6,217.3 1031.4,218.1 1032.0,218.6Z" fill="#c2c2c2"/><path d="M1030.2,217.0C1029.7,216.4 1029.3,216.6 1029.4,217.4C1029.9,218.1 1030.4,217.9 1030.2,217.0Z" fill="#c2c2c2"/><path d="M1030.2,217.0C1031.0,217.1 1031.2,216.7 1030.4,216.3C1029.6,216.2 1029.5,216.7 1030.2,217.0Z" fill="#c2c2c2"/><path d="M1070.7,287.7 L1072.5,283.2 L1074.9,277.0 L1077.8,269.7 L1080.9,262.0 L1083.8,254.6 L1086.3,248.3 L1088.3,243.0 L1090.2,238.1 L1091.9,233.5 L1093.5,229.2 L1095.1,225.2 L1096.6,221.4 L1098.2,217.7 L1099.8,214.2 L1101.4,210.9 L1102.8,208.0 L1104.0,205.6 L1104.9,203.8" fill="none" stroke="#a8a8a8" stroke-width="1.0" stroke-linecap="round" stroke-linejoin="round" opacity="1"/><path d="M1080.1,263.9C1079.8,261.9 1076.8,258.8 1074.9,258.3C1074.6,260.9 1077.6,264.0 1080.1,263.9Z" fill="#c2c2c2"/><path d="M1080.1,263.9C1081.9,265.7 1086.2,265.5 1087.8,263.4C1086.0,262.4 1081.7,262.7 1080.1,263.9Z" fill="#c2c2c2"/><path d="M1081.3,261.0C1080.8,258.4 1077.0,254.4 1074.5,253.9C1074.1,257.2 1077.9,261.2 1081.3,261.0Z" fill="#c2c2c2"/><path d="M1081.3,261.0C1083.6,263.4 1089.1,263.1 1091.1,260.4C1088.8,259.1 1083.3,259.4 1081.3,261.0Z" fill="#c2c2c2"/><path d="M1082.4,258.2C1081.9,255.2 1077.4,250.4 1074.3,249.7C1074.0,253.6 1078.4,258.4 1082.4,258.2Z" fill="#c2c2c2"/><path d="M1082.4,258.2C1085.1,261.0 1091.6,260.6 1094.0,257.5C1091.3,255.9 1084.8,256.3 1082.4,258.2Z" fill="#c2c2c2"/><path d="M1084.5,252.9C1083.9,249.8 1079.4,245.1 1076.3,244.4C1076.0,248.3 1080.5,253.1 1084.5,252.9Z" fill="#c2c2c2"/><path d="M1084.5,252.9C1087.2,255.7 1093.8,255.3 1096.2,252.2C1093.5,250.6 1086.9,251.0 1084.5,252.9Z" fill="#c2c2c2"/><path d="M1085.4,250.5C1084.9,247.6 1080.6,243.1 1077.7,242.5C1077.4,246.2 1081.7,250.7 1085.4,250.5Z" fill="#c2c2c2"/><path d="M1085.4,250.5C1088.0,253.2 1094.2,252.8 1096.5,249.8C1093.9,248.3 1087.7,248.7 1085.4,250.5Z" fill="#c2c2c2"/><path d="M1087.0,246.3C1086.6,243.5 1082.5,239.3 1079.8,238.7C1079.5,242.2 1083.5,246.5 1087.0,246.3Z" fill="#c2c2c2"/><path d="M1087.0,246.3C1089.5,248.8 1095.4,248.4 1097.5,245.6C1095.1,244.2 1089.2,244.6 1087.0,246.3Z" fill="#c2c2c2"/><path d="M1087.8,244.3C1087.3,241.7 1083.5,237.7 1081.0,237.2C1080.6,240.5 1084.5,244.5 1087.8,244.3Z" fill="#c2c2c2"/><path d="M1087.8,244.3C1090.2,246.7 1095.7,246.3 1097.7,243.6C1095.4,242.3 1089.9,242.7 1087.8,244.3Z" fill="#c2c2c2"/><path d="M1089.3,240.5C1088.8,238.1 1085.2,234.4 1082.8,233.9C1082.5,237.0 1086.1,240.7 1089.3,240.5Z" fill="#c2c2c2"/><path d="M1089.3,240.5C1091.5,242.7 1096.7,242.3 1098.5,239.8C1096.4,238.6 1091.2,239.0 1089.3,240.5Z" fill="#c2c2c2"/><path d="M1090.6,236.9C1090.2,234.6 1086.8,231.1 1084.5,230.7C1084.3,233.6 1087.7,237.1 1090.6,236.9Z" fill="#c2c2c2"/><path d="M1090.6,236.9C1092.7,239.0 1097.6,238.6 1099.3,236.2C1097.3,235.1 1092.4,235.5 1090.6,236.9Z" fill="#c2c2c2"/><path d="M1091.3,235.2C1090.9,233.1 1087.6,229.8 1085.5,229.3C1085.3,232.1 1088.5,235.4 1091.3,235.2Z" fill="#c2c2c2"/><path d="M1091.3,235.2C1093.2,237.1 1097.8,236.8 1099.4,234.6C1097.5,233.5 1093.0,233.8 1091.3,235.2Z" fill="#c2c2c2"/><path d="M1092.5,231.9C1092.1,229.9 1089.1,226.8 1087.1,226.4C1086.9,229.0 1089.9,232.0 1092.5,231.9Z" fill="#c2c2c2"/><path d="M1092.5,231.9C1094.3,233.7 1098.6,233.4 1100.1,231.3C1098.4,230.3 1094.1,230.6 1092.5,231.9Z" fill="#c2c2c2"/><path d="M1093.1,230.3C1092.8,228.4 1090.0,225.5 1088.1,225.1C1087.9,227.5 1090.7,230.4 1093.1,230.3Z" fill="#c2c2c2"/><path d="M1093.1,230.3C1094.8,232.0 1098.8,231.7 1100.2,229.7C1098.6,228.8 1094.6,229.1 1093.1,230.3Z" fill="#c2c2c2"/><path d="M1094.3,227.2C1094.0,225.4 1091.4,222.7 1089.7,222.4C1089.4,224.6 1092.0,227.3 1094.3,227.2Z" fill="#c2c2c2"/><path d="M1094.3,227.2C1095.9,228.8 1099.6,228.5 1101.0,226.7C1099.4,225.9 1095.7,226.1 1094.3,227.2Z" fill="#c2c2c2"/><path d="M1094.9,225.7C1094.6,224.1 1092.2,221.5 1090.6,221.2C1090.4,223.3 1092.8,225.8 1094.9,225.7Z" fill="#c2c2c2"/><path d="M1094.9,225.7C1096.3,227.2 1099.8,227.0 1101.1,225.3C1099.7,224.5 1096.2,224.7 1094.9,225.7Z" fill="#c2c2c2"/><path d="M1095.4,224.2C1095.2,222.7 1093.0,220.4 1091.5,220.0C1091.3,222.0 1093.5,224.3 1095.4,224.2Z" fill="#c2c2c2"/><path d="M1095.4,224.2C1096.8,225.6 1100.0,225.5 1101.2,223.9C1099.9,223.1 1096.7,223.3 1095.4,224.2Z" fill="#c2c2c2"/><path d="M1096.6,221.4C1096.4,220.0 1094.4,217.8 1093.0,217.5C1092.8,219.2 1094.8,221.5 1096.6,221.4Z" fill="#c2c2c2"/><path d="M1096.6,221.4C1097.8,222.7 1100.8,222.6 1101.9,221.2C1100.7,220.5 1097.7,220.6 1096.6,221.4Z" fill="#c2c2c2"/><path d="M1097.2,220.0C1097.0,218.7 1095.2,216.7 1093.9,216.3C1093.7,218.0 1095.5,220.0 1097.2,220.0Z" fill="#c2c2c2"/><path d="M1097.2,220.0C1098.3,221.2 1101.1,221.2 1102.1,219.9C1101.0,219.2 1098.3,219.3 1097.2,220.0Z" fill="#c2c2c2"/><path d="M1097.8,218.6C1097.6,217.5 1096.0,215.6 1094.8,215.3C1094.6,216.8 1096.3,218.7 1097.8,218.6Z" fill="#c2c2c2"/><path d="M1097.8,218.6C1098.8,219.8 1101.3,219.7 1102.3,218.5C1101.3,217.9 1098.8,218.0 1097.8,218.6Z" fill="#c2c2c2"/><path d="M1099.0,215.9C1098.9,214.9 1097.4,213.1 1096.4,212.8C1096.2,214.2 1097.7,215.9 1099.0,215.9Z" fill="#c2c2c2"/><path d="M1099.0,215.9C1099.9,217.0 1102.2,217.0 1103.1,215.9C1102.2,215.3 1099.9,215.3 1099.0,215.9Z" fill="#c2c2c2"/><path d="M1099.6,214.6C1099.6,213.6 1098.3,212.1 1097.3,211.9C1097.1,213.1 1098.4,214.7 1099.6,214.6Z" fill="#c2c2c2"/><path d="M1099.6,214.6C1100.4,215.6 1102.4,215.6 1103.2,214.6C1102.4,214.0 1100.4,214.0 1099.6,214.6Z" fill="#c2c2c2"/><path d="M1100.8,212.1C1100.9,211.2 1099.8,209.8 1098.8,209.7C1098.5,210.8 1099.6,212.2 1100.8,212.1Z" fill="#c2c2c2"/><path d="M1100.8,212.1C1101.5,213.1 1103.2,213.1 1103.9,212.2C1103.3,211.5 1101.5,211.5 1100.8,212.1Z" fill="#c2c2c2"/><path d="M1101.4,210.9C1101.5,210.1 1100.6,208.9 1099.7,208.9C1099.4,209.9 1100.3,211.1 1101.4,210.9Z" fill="#c2c2c2"/><path d="M1101.4,210.9C1102.0,211.9 1103.4,211.9 1104.0,211.0C1103.5,210.3 1102.0,210.3 1101.4,210.9Z" fill="#c2c2c2"/><path d="M1102.5,208.7C1102.7,207.9 1102.0,207.0 1101.1,207.0C1100.7,208.0 1101.5,208.9 1102.5,208.7Z" fill="#c2c2c2"/><path d="M1102.5,208.7C1102.9,209.6 1104.1,209.7 1104.6,208.8C1104.2,208.1 1103.0,208.0 1102.5,208.7Z" fill="#c2c2c2"/><path d="M1103.0,207.7C1103.3,207.0 1102.8,206.3 1102.0,206.4C1101.5,207.3 1102.1,208.0 1103.0,207.7Z" fill="#c2c2c2"/><path d="M1103.0,207.7C1103.3,208.6 1104.2,208.6 1104.6,207.7C1104.2,207.0 1103.3,207.0 1103.0,207.7Z" fill="#c2c2c2"/><path d="M1103.9,205.9C1104.3,205.2 1104.0,204.8 1103.2,205.1C1102.7,205.8 1103.1,206.2 1103.9,205.9Z" fill="#c2c2c2"/><path d="M1103.9,205.9C1104.1,206.7 1104.6,206.8 1104.9,205.9C1104.7,205.2 1104.1,205.1 1103.9,205.9Z" fill="#c2c2c2"/><path d="M1068.0,289.7 L1067.4,287.5 L1066.6,284.3 L1065.7,280.5 L1064.6,276.5 L1063.5,272.6 L1062.4,269.0 L1061.2,265.6 L1059.9,262.0 L1058.5,258.4 L1057.1,255.1 L1056.0,252.4 L1055.2,250.4" fill="none" stroke="#a8a8a8" stroke-width="1.0" stroke-linecap="round" stroke-linejoin="round" opacity="1"/><path d="M1063.7,273.1C1062.7,272.2 1060.0,271.8 1058.8,272.3C1059.7,273.7 1062.4,274.1 1063.7,273.1Z" fill="#c2c2c2"/><path d="M1063.7,273.1C1065.3,273.3 1067.4,271.5 1067.4,269.8C1066.1,270.0 1064.0,271.8 1063.7,273.1Z" fill="#c2c2c2"/><path d="M1062.4,269.0C1060.9,267.7 1056.7,267.2 1054.9,268.1C1056.3,270.2 1060.5,270.8 1062.4,269.0Z" fill="#c2c2c2"/><path d="M1062.4,269.0C1065.0,269.3 1068.1,266.4 1068.0,263.8C1066.0,264.1 1062.9,267.1 1062.4,269.0Z" fill="#c2c2c2"/><path d="M1061.1,265.1C1059.8,264.1 1056.2,263.8 1054.7,264.6C1055.9,266.4 1059.5,266.7 1061.1,265.1Z" fill="#c2c2c2"/><path d="M1061.1,265.1C1063.2,265.3 1065.8,262.7 1065.6,260.6C1063.9,260.9 1061.4,263.5 1061.1,265.1Z" fill="#c2c2c2"/><path d="M1060.1,262.4C1058.9,261.5 1055.9,261.3 1054.7,262.1C1055.8,263.5 1058.8,263.7 1060.1,262.4Z" fill="#c2c2c2"/><path d="M1060.1,262.4C1061.9,262.5 1064.0,260.3 1063.8,258.5C1062.4,258.8 1060.3,261.0 1060.1,262.4Z" fill="#c2c2c2"/><path d="M1059.0,259.7C1058.1,259.0 1055.6,258.9 1054.5,259.5C1055.5,260.7 1058.0,260.8 1059.0,259.7Z" fill="#c2c2c2"/><path d="M1059.0,259.7C1060.5,259.8 1062.2,258.0 1062.0,256.5C1060.9,256.7 1059.2,258.6 1059.0,259.7Z" fill="#c2c2c2"/><path d="M1058.0,257.1C1057.2,256.5 1055.2,256.4 1054.3,257.0C1055.1,258.0 1057.1,258.1 1058.0,257.1Z" fill="#c2c2c2"/><path d="M1058.0,257.1C1059.2,257.2 1060.6,255.8 1060.4,254.5C1059.4,254.7 1058.0,256.1 1058.0,257.1Z" fill="#c2c2c2"/><path d="M1057.0,254.8C1056.4,254.1 1054.8,254.0 1054.1,254.6C1054.7,255.6 1056.3,255.7 1057.0,254.8Z" fill="#c2c2c2"/><path d="M1057.0,254.8C1058.1,255.0 1059.2,253.8 1058.9,252.7C1058.0,252.7 1056.9,253.9 1057.0,254.8Z" fill="#c2c2c2"/><path d="M1056.5,253.7C1056.1,253.0 1055.0,252.9 1054.5,253.6C1054.9,254.5 1056.0,254.6 1056.5,253.7Z" fill="#c2c2c2"/><path d="M1056.5,253.7C1057.5,254.0 1058.3,253.1 1057.9,252.2C1057.1,252.0 1056.3,252.9 1056.5,253.7Z" fill="#c2c2c2"/><path d="M1055.8,251.8C1055.5,251.1 1054.9,251.0 1054.6,251.8C1054.8,252.6 1055.5,252.7 1055.8,251.8Z" fill="#c2c2c2"/><path d="M1055.8,251.8C1056.6,252.2 1057.0,251.7 1056.6,251.0C1055.8,250.6 1055.4,251.1 1055.8,251.8Z" fill="#c2c2c2"/><path d="M1069.7,289.7 L1070.2,287.5 L1070.9,284.4 L1071.7,280.7 L1072.5,276.7 L1073.4,272.7 L1074.2,269.0 L1075.1,265.3 L1076.0,261.4 L1076.9,257.4 L1077.8,253.7 L1078.5,250.6 L1079.0,248.3" fill="none" stroke="#a8a8a8" stroke-width="1.0" stroke-linecap="round" stroke-linejoin="round" opacity="1"/><path d="M1073.6,271.8C1073.2,270.5 1071.0,268.8 1069.7,268.8C1069.8,270.4 1072.0,272.1 1073.6,271.8Z" fill="#c2c2c2"/><path d="M1073.6,271.8C1075.0,272.7 1077.6,272.2 1078.4,270.7C1077.2,270.2 1074.5,270.8 1073.6,271.8Z" fill="#c2c2c2"/><path d="M1074.5,267.7C1073.9,265.8 1070.5,263.1 1068.5,263.0C1068.6,265.6 1072.0,268.2 1074.5,267.7Z" fill="#c2c2c2"/><path d="M1074.5,267.7C1076.6,269.2 1080.8,268.3 1082.0,266.1C1080.1,265.3 1075.9,266.2 1074.5,267.7Z" fill="#c2c2c2"/><path d="M1075.2,264.8C1074.7,263.2 1071.8,261.0 1070.1,260.9C1070.2,263.0 1073.0,265.3 1075.2,264.8Z" fill="#c2c2c2"/><path d="M1075.2,264.8C1076.9,266.2 1080.5,265.4 1081.5,263.5C1079.9,262.8 1076.4,263.6 1075.2,264.8Z" fill="#c2c2c2"/><path d="M1076.2,260.4C1075.8,259.0 1073.4,257.1 1071.9,257.0C1072.0,258.8 1074.4,260.7 1076.2,260.4Z" fill="#c2c2c2"/><path d="M1076.2,260.4C1077.7,261.5 1080.7,260.8 1081.6,259.2C1080.2,258.7 1077.2,259.3 1076.2,260.4Z" fill="#c2c2c2"/><path d="M1076.6,258.9C1076.2,257.7 1074.2,256.1 1073.0,256.1C1073.1,257.6 1075.1,259.2 1076.6,258.9Z" fill="#c2c2c2"/><path d="M1076.6,258.9C1077.8,259.8 1080.3,259.2 1081.0,257.9C1079.9,257.5 1077.4,258.0 1076.6,258.9Z" fill="#c2c2c2"/><path d="M1077.2,255.9C1077.0,255.0 1075.3,253.7 1074.3,253.7C1074.3,255.0 1076.0,256.2 1077.2,255.9Z" fill="#c2c2c2"/><path d="M1077.2,255.9C1078.2,256.8 1080.3,256.3 1080.9,255.2C1079.9,254.8 1077.9,255.2 1077.2,255.9Z" fill="#c2c2c2"/><path d="M1077.9,253.3C1077.7,252.4 1076.4,251.3 1075.5,251.4C1075.5,252.6 1076.8,253.6 1077.9,253.3Z" fill="#c2c2c2"/><path d="M1077.9,253.3C1078.7,254.1 1080.3,253.7 1080.8,252.7C1080.0,252.2 1078.4,252.5 1077.9,253.3Z" fill="#c2c2c2"/><path d="M1078.1,252.0C1078.2,251.2 1077.2,250.5 1076.4,250.7C1076.2,251.7 1077.2,252.5 1078.1,252.0Z" fill="#c2c2c2"/><path d="M1078.1,252.0C1078.8,252.8 1080.0,252.6 1080.3,251.6C1079.7,251.0 1078.5,251.3 1078.1,252.0Z" fill="#c2c2c2"/><path d="M1078.6,249.9C1078.9,249.2 1078.3,248.7 1077.6,249.1C1077.3,250.0 1077.9,250.4 1078.6,249.9Z" fill="#c2c2c2"/><path d="M1078.6,249.9C1079.1,250.7 1079.8,250.6 1080.0,249.6C1079.5,249.0 1078.8,249.1 1078.6,249.9Z" fill="#c2c2c2"/><path d="M1068.7,291.8 L1068.4,286.2 L1067.9,278.2 L1067.4,268.9 L1067.0,259.1 L1066.7,249.9 L1066.6,242.1 L1066.8,235.8 L1067.1,230.1 L1067.6,225.0 L1068.2,220.3 L1068.9,215.7 L1069.7,211.1 L1070.7,206.3 L1072.1,201.4 L1073.5,196.7 L1074.9,192.4 L1076.1,188.8 L1076.9,186.2" fill="none" stroke="#a8a8a8" stroke-width="1.0" stroke-linecap="round" stroke-linejoin="round" opacity="1"/><path d="M1067.2,265.2C1065.9,263.2 1061.1,261.2 1058.6,261.7C1059.6,264.7 1064.5,266.7 1067.2,265.2Z" fill="#c2c2c2"/><path d="M1067.2,265.2C1070.2,266.4 1074.8,264.0 1075.5,260.9C1073.0,260.6 1068.4,263.1 1067.2,265.2Z" fill="#c2c2c2"/><path d="M1067.1,261.6C1065.4,259.0 1059.4,256.6 1056.4,257.2C1057.7,260.8 1063.6,263.3 1067.1,261.6Z" fill="#c2c2c2"/><path d="M1067.1,261.6C1070.7,263.0 1076.4,260.0 1077.3,256.2C1074.2,255.9 1068.5,258.9 1067.1,261.6Z" fill="#c2c2c2"/><path d="M1066.9,257.9C1065.0,255.0 1058.1,252.1 1054.6,252.8C1056.0,257.0 1062.9,259.9 1066.9,257.9Z" fill="#c2c2c2"/><path d="M1066.9,257.9C1071.1,259.6 1077.8,256.2 1078.8,251.8C1075.3,251.4 1068.6,254.8 1066.9,257.9Z" fill="#c2c2c2"/><path d="M1066.8,254.4C1064.7,251.1 1057.1,247.9 1053.2,248.6C1054.7,253.3 1062.3,256.6 1066.8,254.4Z" fill="#c2c2c2"/><path d="M1066.8,254.4C1071.4,256.3 1078.8,252.5 1079.9,247.7C1076.1,247.2 1068.7,251.0 1066.8,254.4Z" fill="#c2c2c2"/><path d="M1066.7,251.0C1064.7,247.8 1057.4,244.7 1053.8,245.4C1055.2,249.9 1062.4,253.0 1066.7,251.0Z" fill="#c2c2c2"/><path d="M1066.7,251.0C1071.1,252.8 1078.1,249.3 1079.3,244.7C1075.6,244.2 1068.5,247.7 1066.7,251.0Z" fill="#c2c2c2"/><path d="M1066.6,244.8C1064.7,241.8 1057.9,238.6 1054.4,239.2C1055.6,243.5 1062.5,246.7 1066.6,244.8Z" fill="#c2c2c2"/><path d="M1066.6,244.8C1070.7,246.6 1077.5,243.4 1078.7,239.1C1075.2,238.5 1068.4,241.7 1066.6,244.8Z" fill="#c2c2c2"/><path d="M1066.6,242.1C1064.9,239.2 1058.4,236.1 1055.0,236.6C1056.1,240.7 1062.6,243.8 1066.6,242.1Z" fill="#c2c2c2"/><path d="M1066.6,242.1C1070.5,243.9 1077.0,241.0 1078.3,236.8C1074.9,236.2 1068.4,239.2 1066.6,242.1Z" fill="#c2c2c2"/><path d="M1066.6,239.6C1065.0,236.8 1058.9,233.8 1055.7,234.2C1056.7,238.2 1062.8,241.2 1066.6,239.6Z" fill="#c2c2c2"/><path d="M1066.6,239.6C1070.3,241.4 1076.6,238.7 1077.8,234.7C1074.6,234.2 1068.4,236.9 1066.6,239.6Z" fill="#c2c2c2"/><path d="M1066.7,237.3C1065.2,234.6 1059.4,231.6 1056.3,232.0C1057.3,235.8 1063.1,238.8 1066.7,237.3Z" fill="#c2c2c2"/><path d="M1066.7,237.3C1070.2,239.0 1076.2,236.5 1077.4,232.7C1074.4,232.2 1068.4,234.7 1066.7,237.3Z" fill="#c2c2c2"/><path d="M1066.9,232.9C1065.5,230.3 1060.1,227.3 1057.2,227.6C1058.0,231.3 1063.4,234.2 1066.9,232.9Z" fill="#c2c2c2"/><path d="M1066.9,232.9C1070.2,234.6 1076.0,232.3 1077.2,228.8C1074.3,228.2 1068.6,230.5 1066.9,232.9Z" fill="#c2c2c2"/><path d="M1067.0,230.8C1065.8,228.3 1060.6,225.5 1057.8,225.7C1058.6,229.2 1063.7,232.0 1067.0,230.8Z" fill="#c2c2c2"/><path d="M1067.0,230.8C1070.2,232.5 1075.7,230.4 1076.9,227.1C1074.1,226.4 1068.6,228.5 1067.0,230.8Z" fill="#c2c2c2"/><path d="M1067.4,226.9C1066.2,224.5 1061.4,221.7 1058.8,221.8C1059.4,225.1 1064.2,228.0 1067.4,226.9Z" fill="#c2c2c2"/><path d="M1067.4,226.9C1070.3,228.6 1075.6,226.7 1076.8,223.6C1074.2,222.9 1068.9,224.8 1067.4,226.9Z" fill="#c2c2c2"/><path d="M1067.6,225.0C1066.5,222.8 1062.0,220.0 1059.5,220.1C1060.0,223.3 1064.5,226.0 1067.6,225.0Z" fill="#c2c2c2"/><path d="M1067.6,225.0C1070.3,226.6 1075.3,224.9 1076.5,222.0C1074.1,221.3 1069.1,223.0 1067.6,225.0Z" fill="#c2c2c2"/><path d="M1068.0,221.4C1067.0,219.2 1062.8,216.5 1060.4,216.6C1060.9,219.6 1065.1,222.3 1068.0,221.4Z" fill="#c2c2c2"/><path d="M1068.0,221.4C1070.6,223.0 1075.4,221.5 1076.6,218.7C1074.3,218.1 1069.5,219.6 1068.0,221.4Z" fill="#c2c2c2"/><path d="M1068.2,219.7C1067.4,217.6 1063.4,215.0 1061.1,215.0C1061.5,217.9 1065.5,220.5 1068.2,219.7Z" fill="#c2c2c2"/><path d="M1068.2,219.7C1070.7,221.2 1075.2,219.8 1076.4,217.2C1074.2,216.6 1069.7,217.9 1068.2,219.7Z" fill="#c2c2c2"/><path d="M1068.5,217.9C1067.7,216.0 1064.0,213.5 1061.8,213.5C1062.2,216.2 1065.9,218.7 1068.5,217.9Z" fill="#c2c2c2"/><path d="M1068.5,217.9C1070.8,219.4 1075.1,218.2 1076.2,215.7C1074.2,215.1 1069.9,216.3 1068.5,217.9Z" fill="#c2c2c2"/><path d="M1069.1,214.5C1068.3,212.6 1064.9,210.2 1062.9,210.2C1063.1,212.7 1066.6,215.1 1069.1,214.5Z" fill="#c2c2c2"/><path d="M1069.1,214.5C1071.2,215.9 1075.3,214.8 1076.4,212.5C1074.5,211.9 1070.4,213.0 1069.1,214.5Z" fill="#c2c2c2"/><path d="M1069.4,212.8C1068.7,211.0 1065.4,208.7 1063.5,208.7C1063.8,211.1 1067.0,213.4 1069.4,212.8Z" fill="#c2c2c2"/><path d="M1069.4,212.8C1071.4,214.1 1075.2,213.1 1076.3,211.0C1074.5,210.4 1070.6,211.4 1069.4,212.8Z" fill="#c2c2c2"/><path d="M1069.7,211.1C1069.1,209.4 1066.0,207.2 1064.3,207.1C1064.5,209.4 1067.5,211.6 1069.7,211.1Z" fill="#c2c2c2"/><path d="M1069.7,211.1C1071.5,212.4 1075.2,211.4 1076.2,209.4C1074.5,208.8 1070.9,209.7 1069.7,211.1Z" fill="#c2c2c2"/><path d="M1070.0,209.3C1069.5,207.7 1066.7,205.6 1065.0,205.5C1065.2,207.6 1068.0,209.7 1070.0,209.3Z" fill="#c2c2c2"/><path d="M1070.0,209.3C1071.7,210.5 1075.2,209.7 1076.2,207.9C1074.6,207.3 1071.2,208.1 1070.0,209.3Z" fill="#c2c2c2"/><path d="M1070.9,205.7C1070.4,204.2 1067.9,202.1 1066.4,201.9C1066.4,203.9 1069.0,206.0 1070.9,205.7Z" fill="#c2c2c2"/><path d="M1070.9,205.7C1072.4,206.9 1075.7,206.3 1076.7,204.6C1075.2,204.0 1072.0,204.6 1070.9,205.7Z" fill="#c2c2c2"/><path d="M1071.4,203.8C1071.0,202.4 1068.7,200.5 1067.2,200.3C1067.2,202.1 1069.6,204.1 1071.4,203.8Z" fill="#c2c2c2"/><path d="M1071.4,203.8C1072.8,205.0 1075.8,204.5 1076.7,202.9C1075.4,202.3 1072.4,202.8 1071.4,203.8Z" fill="#c2c2c2"/><path d="M1071.9,202.0C1071.5,200.7 1069.4,198.9 1068.1,198.7C1068.1,200.4 1070.2,202.2 1071.9,202.0Z" fill="#c2c2c2"/><path d="M1071.9,202.0C1073.2,203.1 1075.9,202.6 1076.8,201.2C1075.6,200.7 1072.9,201.1 1071.9,202.0Z" fill="#c2c2c2"/><path d="M1072.4,200.2C1072.1,199.0 1070.2,197.3 1069.0,197.2C1069.0,198.7 1070.9,200.4 1072.4,200.2Z" fill="#c2c2c2"/><path d="M1072.4,200.2C1073.6,201.2 1076.1,200.8 1076.9,199.5C1075.8,199.0 1073.3,199.4 1072.4,200.2Z" fill="#c2c2c2"/><path d="M1073.0,198.4C1072.7,197.4 1071.0,195.8 1069.9,195.7C1069.9,197.0 1071.6,198.6 1073.0,198.4Z" fill="#c2c2c2"/><path d="M1073.0,198.4C1074.0,199.3 1076.3,199.0 1077.0,197.9C1076.0,197.4 1073.8,197.7 1073.0,198.4Z" fill="#c2c2c2"/><path d="M1073.5,196.7C1073.3,195.7 1071.8,194.3 1070.8,194.2C1070.8,195.5 1072.2,196.9 1073.5,196.7Z" fill="#c2c2c2"/><path d="M1073.5,196.7C1074.4,197.6 1076.4,197.3 1077.1,196.2C1076.2,195.7 1074.2,196.0 1073.5,196.7Z" fill="#c2c2c2"/><path d="M1074.0,195.0C1074.0,194.1 1072.7,192.9 1071.7,192.9C1071.6,194.1 1072.9,195.3 1074.0,195.0Z" fill="#c2c2c2"/><path d="M1074.0,195.0C1074.8,195.9 1076.6,195.7 1077.2,194.6C1076.4,194.1 1074.7,194.3 1074.0,195.0Z" fill="#c2c2c2"/><path d="M1074.6,193.4C1074.6,192.6 1073.5,191.5 1072.6,191.6C1072.4,192.7 1073.5,193.7 1074.6,193.4Z" fill="#c2c2c2"/><path d="M1074.6,193.4C1075.3,194.3 1076.7,194.1 1077.2,193.1C1076.5,192.5 1075.1,192.7 1074.6,193.4Z" fill="#c2c2c2"/><path d="M1075.1,191.9C1075.2,191.1 1074.3,190.3 1073.5,190.5C1073.2,191.5 1074.1,192.3 1075.1,191.9Z" fill="#c2c2c2"/><path d="M1075.1,191.9C1075.6,192.8 1076.8,192.7 1077.2,191.7C1076.6,191.1 1075.5,191.2 1075.1,191.9Z" fill="#c2c2c2"/><path d="M1076.0,189.2C1076.2,188.5 1075.6,187.9 1074.8,188.2C1074.5,189.1 1075.1,189.7 1076.0,189.2Z" fill="#c2c2c2"/><path d="M1076.0,189.2C1076.4,190.1 1077.3,190.0 1077.5,189.1C1077.1,188.4 1076.2,188.5 1076.0,189.2Z" fill="#c2c2c2"/><path d="M1076.3,188.1C1076.7,187.4 1076.3,187.0 1075.7,187.5C1075.2,188.2 1075.6,188.6 1076.3,188.1Z" fill="#c2c2c2"/><path d="M1076.3,188.1C1076.7,188.9 1077.2,188.8 1077.3,188.0C1077.0,187.3 1076.5,187.3 1076.3,188.1Z" fill="#c2c2c2"/><path d="M1206.3,273.1 L1206.4,269.5 L1206.5,264.4 L1206.6,258.5 L1206.7,252.1 L1206.9,245.8 L1207.0,240.0 L1207.0,234.6 L1207.1,229.1 L1207.2,223.6 L1207.3,218.3 L1207.3,213.4 L1207.4,209.0 L1207.4,205.0 L1207.4,201.2 L1207.4,197.8 L1207.4,194.8 L1207.4,192.3 L1207.4,190.4" fill="none" stroke="#a9a9a9" stroke-width="1.2" stroke-linecap="round" stroke-linejoin="round" opacity="1"/><path d="M1205.9,246.2 L1205.4,244.8 L1204.7,242.9 L1203.8,240.6 L1202.9,238.2 L1202.0,235.8 L1201.2,233.8 L1200.4,232.0 L1199.6,230.1 L1198.8,228.4 L1198.1,226.8 L1197.5,225.5 L1197.0,224.5" fill="none" stroke="#a9a9a9" stroke-width="0.9" stroke-linecap="round" stroke-linejoin="round" opacity="1"/><path d="M1207.0,217.3C1207.5,214.7 1205.0,210.1 1202.6,209.0C1202.1,211.6 1204.5,216.2 1207.0,217.3Z" fill="#c6c6c6" stroke="#a2a2a2" stroke-width="0.4"/><path d="M1207.2,209.0C1209.6,208.3 1212.1,204.2 1211.7,201.8C1209.3,202.5 1206.8,206.5 1207.2,209.0Z" fill="#c6c6c6" stroke="#a2a2a2" stroke-width="0.4"/><path d="M1207.0,227.6C1209.4,226.9 1212.1,222.9 1211.7,220.4C1209.3,221.1 1206.6,225.1 1207.0,227.6Z" fill="#c6c6c6" stroke="#a2a2a2" stroke-width="0.4"/><path d="M1206.3,240.0C1208.9,239.7 1211.2,236.2 1210.5,233.8C1208.0,234.1 1205.6,237.6 1206.3,240.0Z" fill="#c6c6c6" stroke="#a2a2a2" stroke-width="0.4"/><path d="M1206.3,247.3C1208.7,247.2 1210.8,244.3 1210.1,242.1C1207.7,242.1 1205.6,245.0 1206.3,247.3Z" fill="#c6c6c6" stroke="#a2a2a2" stroke-width="0.4"/><path d="M1203.2,237.9C1201.5,236.9 1198.9,238.0 1198.5,240.0C1200.2,241.1 1202.9,239.9 1203.2,237.9Z" fill="#c6c6c6" stroke="#a2a2a2" stroke-width="0.4"/><path d="M1207.4,200.7C1207.6,199.0 1205.6,196.9 1203.9,197.0C1203.6,198.8 1205.6,200.9 1207.4,200.7Z" fill="#c6c6c6" stroke="#a2a2a2" stroke-width="0.4"/><path d="M1204.3,244.1C1204.7,242.1 1202.6,239.8 1200.6,240.0C1200.1,242.0 1202.2,244.3 1204.3,244.1Z" fill="#c6c6c6" stroke="#a2a2a2" stroke-width="0.4"/><circle cx="1213.0" cy="189.7" r="1.1" fill="#e6e6e6" stroke="#9a9a9a" stroke-width="0.5"/><circle cx="1207.9" cy="190.9" r="1.1" fill="#e6e6e6" stroke="#9a9a9a" stroke-width="0.5"/><circle cx="1209.7" cy="188.1" r="1.1" fill="#e6e6e6" stroke="#9a9a9a" stroke-width="0.5"/><circle cx="1206.5" cy="189.6" r="1.1" fill="#e6e6e6" stroke="#9a9a9a" stroke-width="0.5"/><circle cx="1204.4" cy="189.2" r="1.1" fill="#e6e6e6" stroke="#9a9a9a" stroke-width="0.5"/><circle cx="1206.5" cy="190.5" r="1.1" fill="#e6e6e6" stroke="#9a9a9a" stroke-width="0.5"/><circle cx="1205.2" cy="191.5" r="1.1" fill="#e6e6e6" stroke="#9a9a9a" stroke-width="0.5"/><circle cx="1206.3" cy="186.6" r="1.1" fill="#e6e6e6" stroke="#9a9a9a" stroke-width="0.5"/><circle cx="1210.6" cy="190.1" r="1.1" fill="#e6e6e6" stroke="#9a9a9a" stroke-width="0.5"/><circle cx="1205.8" cy="191.2" r="1.1" fill="#e6e6e6" stroke="#9a9a9a" stroke-width="0.5"/><circle cx="1207.5" cy="190.8" r="1.1" fill="#e6e6e6" stroke="#9a9a9a" stroke-width="0.5"/><circle cx="1205.5" cy="191.1" r="1.1" fill="#e6e6e6" stroke="#9a9a9a" stroke-width="0.5"/><circle cx="1203.3" cy="193.5" r="1.1" fill="#e6e6e6" stroke="#9a9a9a" stroke-width="0.5"/><circle cx="1203.9" cy="190.4" r="1.1" fill="#e6e6e6" stroke="#9a9a9a" stroke-width="0.5"/><circle cx="1207.4" cy="190.9" r="1.1" fill="#e6e6e6" stroke="#9a9a9a" stroke-width="0.5"/><circle cx="1207.0" cy="191.3" r="1.1" fill="#e6e6e6" stroke="#9a9a9a" stroke-width="0.5"/><circle cx="1194.2" cy="223.8" r="1.1" fill="#e6e6e6" stroke="#9a9a9a" stroke-width="0.5"/><circle cx="1196.8" cy="223.6" r="1.1" fill="#e6e6e6" stroke="#9a9a9a" stroke-width="0.5"/><circle cx="1198.8" cy="222.9" r="1.1" fill="#e6e6e6" stroke="#9a9a9a" stroke-width="0.5"/><circle cx="1196.8" cy="222.1" r="1.1" fill="#e6e6e6" stroke="#9a9a9a" stroke-width="0.5"/><circle cx="1197.2" cy="222.3" r="1.1" fill="#e6e6e6" stroke="#9a9a9a" stroke-width="0.5"/><circle cx="1195.3" cy="225.5" r="1.1" fill="#e6e6e6" stroke="#9a9a9a" stroke-width="0.5"/><circle cx="1202.5" cy="194.5" r="1.1" fill="#e6e6e6" stroke="#9a9a9a" stroke-width="0.5"/><circle cx="1202.2" cy="193.7" r="1.1" fill="#e6e6e6" stroke="#9a9a9a" stroke-width="0.5"/><circle cx="1201.4" cy="194.7" r="1.1" fill="#e6e6e6" stroke="#9a9a9a" stroke-width="0.5"/><circle cx="1211.4" cy="195.0" r="1.1" fill="#e6e6e6" stroke="#9a9a9a" stroke-width="0.5"/><circle cx="1211.6" cy="194.9" r="1.1" fill="#e6e6e6" stroke="#9a9a9a" stroke-width="0.5"/><circle cx="1212.1" cy="195.8" r="1.1" fill="#e6e6e6" stroke="#9a9a9a" stroke-width="0.5"/><path d="M1206.3,273.5C1197.6,265.4 1183.4,260.4 1180.5,264.4C1180.2,269.3 1194.5,274.3 1206.3,273.5Z" fill="#c8c8c8" stroke="#9c9c9c" stroke-width="0.5"/><path d="M1206.3,273.5C1196.9,271.6 1185.5,274.8 1185.7,279.3C1187.9,283.3 1199.3,280.1 1206.3,273.5Z" fill="#c8c8c8" stroke="#9c9c9c" stroke-width="0.5"/><path d="M1206.3,273.5C1204.3,262.3 1196.9,249.6 1192.9,250.4C1190.2,253.4 1197.6,266.2 1206.3,273.5Z" fill="#c8c8c8" stroke="#9c9c9c" stroke-width="0.5"/><path d="M1206.3,273.5C1213.6,266.8 1218.7,255.4 1215.6,252.8C1211.7,252.3 1206.5,263.7 1206.3,273.5Z" fill="#c8c8c8" stroke="#9c9c9c" stroke-width="0.5"/><path d="M1206.3,273.5C1217.0,272.4 1228.9,265.9 1228.0,261.7C1225.0,258.7 1213.1,265.2 1206.3,273.5Z" fill="#c8c8c8" stroke="#9c9c9c" stroke-width="0.5"/><path d="M1206.3,273.5C1213.5,279.2 1224.3,281.0 1226.0,276.8C1225.7,272.3 1214.9,270.5 1206.3,273.5Z" fill="#c8c8c8" stroke="#9c9c9c" stroke-width="0.5"/><path d="M1206.3,273.5C1204.5,280.6 1207.4,288.3 1211.5,287.6C1215.1,285.4 1212.3,277.7 1206.3,273.5Z" fill="#c8c8c8" stroke="#9c9c9c" stroke-width="0.5"/><path d="M1206.3,273.5C1201.2,275.6 1197.6,280.8 1199.7,283.0C1202.5,284.3 1206.2,279.0 1206.3,273.5Z" fill="#c8c8c8" stroke="#9c9c9c" stroke-width="0.5"/><path d="M1206.3,273.5C1203.1,269.7 1197.4,267.2 1196.0,269.0C1195.6,271.2 1201.3,273.7 1206.3,273.5Z" fill="#c8c8c8" stroke="#9c9c9c" stroke-width="0.5"/><path d="M1340.3,280.2 L1339.5,280.7 L1338.4,281.4 L1337.2,282.2 L1335.8,283.0 L1334.5,283.7 L1333.3,284.3 L1332.0,284.6 L1330.7,284.8 L1329.3,284.8 L1328.1,284.9 L1327.0,284.9 L1326.2,284.9" fill="none" stroke="#9d998f" stroke-width="0.8" stroke-linecap="round" stroke-linejoin="round" opacity="1"/><path d="M1340.3,280.2 L1339.7,280.8 L1338.9,281.8 L1337.9,282.9 L1336.9,284.0 L1335.8,285.1 L1334.9,285.9 L1333.9,286.5 L1332.9,287.0 L1331.8,287.4 L1330.9,287.7 L1330.1,287.9 L1329.5,288.1" fill="none" stroke="#9d998f" stroke-width="0.8" stroke-linecap="round" stroke-linejoin="round" opacity="1"/><path d="M1340.3,280.2 L1340.0,280.9 L1339.6,281.9 L1339.1,283.1 L1338.6,284.4 L1338.0,285.5 L1337.6,286.4 L1337.1,287.1 L1336.6,287.7 L1336.0,288.2 L1335.6,288.6 L1335.2,289.0 L1334.9,289.2" fill="none" stroke="#9d998f" stroke-width="0.8" stroke-linecap="round" stroke-linejoin="round" opacity="1"/><path d="M1340.3,280.2 L1340.3,281.0 L1340.4,282.1 L1340.5,283.4 L1340.6,284.7 L1340.7,286.0 L1340.8,287.0 L1340.9,287.8 L1341.0,288.5 L1341.1,289.1 L1341.2,289.6 L1341.3,290.0 L1341.3,290.3" fill="none" stroke="#9d998f" stroke-width="0.8" stroke-linecap="round" stroke-linejoin="round" opacity="1"/><path d="M1340.3,280.2 L1340.7,280.9 L1341.2,281.9 L1341.9,283.1 L1342.6,284.4 L1343.4,285.5 L1344.0,286.4 L1344.7,287.1 L1345.4,287.7 L1346.2,288.2 L1346.8,288.6 L1347.4,289.0 L1347.8,289.2" fill="none" stroke="#9d998f" stroke-width="0.8" stroke-linecap="round" stroke-linejoin="round" opacity="1"/><path d="M1340.3,280.2 L1341.0,280.7 L1341.9,281.5 L1343.1,282.4 L1344.3,283.3 L1345.6,284.2 L1346.7,284.8 L1347.9,285.2 L1349.1,285.5 L1350.4,285.7 L1351.5,285.8 L1352.5,285.9 L1353.2,286.0" fill="none" stroke="#9d998f" stroke-width="0.8" stroke-linecap="round" stroke-linejoin="round" opacity="1"/><path d="M1340.3,280.2 L1341.1,280.5 L1342.2,281.1 L1343.6,281.7 L1345.0,282.3 L1346.5,282.9 L1347.8,283.2 L1349.1,283.3 L1350.6,283.3 L1352.0,283.2 L1353.4,283.0 L1354.5,282.8 L1355.3,282.8" fill="none" stroke="#9d998f" stroke-width="0.8" stroke-linecap="round" stroke-linejoin="round" opacity="1"/><path d="M1340.3,280.2 L1339.3,280.5 L1338.0,280.9 L1336.5,281.5 L1334.8,282.0 L1333.2,282.4 L1331.6,282.7 L1330.1,282.7 L1328.4,282.5 L1326.8,282.3 L1325.3,282.1 L1324.0,281.8 L1323.0,281.7" fill="none" stroke="#9d998f" stroke-width="0.8" stroke-linecap="round" stroke-linejoin="round" opacity="1"/><path d="M1335.9,281.0 L1337.2,256.9 L1338.8,223.5 L1342.2,223.5 L1344.1,256.9 L1345.4,281.0Z" fill="#b3afa4" stroke="#85817a" stroke-width="0.7"/><line x1="1337.2" y1="239.7" x2="1344.6" y2="236.6" stroke="#8c887f" stroke-width="0.6" stroke-linecap="round"/><line x1="1337.2" y1="245.7" x2="1344.6" y2="242.7" stroke="#8c887f" stroke-width="0.6" stroke-linecap="round"/><line x1="1337.2" y1="251.7" x2="1344.6" y2="248.7" stroke="#8c887f" stroke-width="0.6" stroke-linecap="round"/><line x1="1337.2" y1="257.8" x2="1344.6" y2="254.7" stroke="#8c887f" stroke-width="0.6" stroke-linecap="round"/><line x1="1337.2" y1="263.8" x2="1344.6" y2="260.8" stroke="#8c887f" stroke-width="0.6" stroke-linecap="round"/><line x1="1337.2" y1="269.8" x2="1344.6" y2="266.8" stroke="#8c887f" stroke-width="0.6" stroke-linecap="round"/><line x1="1337.2" y1="275.9" x2="1344.6" y2="272.8" stroke="#8c887f" stroke-width="0.6" stroke-linecap="round"/><line x1="1340.5" y1="228.9" x2="1335.9" y2="232.8" stroke="#a29e93" stroke-width="2.2" stroke-linecap="round"/><line x1="1340.5" y1="228.9" x2="1335.9" y2="228.9" stroke="#a29e93" stroke-width="2.2" stroke-linecap="round"/><line x1="1340.5" y1="228.9" x2="1345.6" y2="227.8" stroke="#a29e93" stroke-width="2.2" stroke-linecap="round"/><line x1="1340.5" y1="228.9" x2="1337.0" y2="225.6" stroke="#a29e93" stroke-width="2.2" stroke-linecap="round"/><line x1="1340.5" y1="228.9" x2="1345.0" y2="223.5" stroke="#a29e93" stroke-width="2.2" stroke-linecap="round"/><line x1="1340.5" y1="228.9" x2="1338.1" y2="224.6" stroke="#a29e93" stroke-width="2.2" stroke-linecap="round"/><line x1="1340.5" y1="228.9" x2="1344.1" y2="223.5" stroke="#a29e93" stroke-width="2.2" stroke-linecap="round"/><line x1="1340.5" y1="228.9" x2="1341.3" y2="222.4" stroke="#a29e93" stroke-width="2.2" stroke-linecap="round"/><path d="M1335.9,232.8C1323.9,230.6 1308.2,238.0 1307.9,246.1C1312.4,246.9 1328.1,239.4 1335.9,232.8Z" fill="#c2beb3" stroke="#8a867b" stroke-width="0.7"/><path d="M1335.9,232.8 L1334.4,233.5 L1332.3,234.5 L1329.8,235.7 L1327.1,237.0 L1324.4,238.2 L1321.9,239.4 L1319.4,240.6 L1316.8,241.9 L1314.1,243.2 L1311.6,244.4 L1309.5,245.4 L1307.9,246.1" fill="none" stroke="#9c988d" stroke-width="0.6" stroke-linecap="round" stroke-linejoin="round" opacity="1"/><path d="M1335.9,228.9C1328.0,219.3 1310.9,214.7 1305.3,220.7C1308.0,225.3 1325.2,229.9 1335.9,228.9Z" fill="#c2beb3" stroke="#8a867b" stroke-width="0.7"/><path d="M1335.9,228.9 L1334.3,228.4 L1332.0,227.8 L1329.3,227.1 L1326.3,226.3 L1323.4,225.5 L1320.6,224.8 L1317.9,224.1 L1315.0,223.3 L1312.0,222.5 L1309.3,221.8 L1307.0,221.1 L1305.3,220.7" fill="none" stroke="#9c988d" stroke-width="0.6" stroke-linecap="round" stroke-linejoin="round" opacity="1"/><path d="M1345.6,227.8C1356.5,231.2 1375.2,230.6 1379.1,226.7C1374.8,219.6 1356.1,220.2 1345.6,227.8Z" fill="#c2beb3" stroke="#8a867b" stroke-width="0.7"/><path d="M1345.6,227.8 L1347.5,227.7 L1350.0,227.7 L1353.0,227.6 L1356.2,227.5 L1359.4,227.4 L1362.3,227.3 L1365.3,227.2 L1368.5,227.1 L1371.7,227.0 L1374.7,226.9 L1377.2,226.8 L1379.1,226.7" fill="none" stroke="#9c988d" stroke-width="0.6" stroke-linecap="round" stroke-linejoin="round" opacity="1"/><path d="M1337.0,225.6C1331.0,212.2 1312.9,200.7 1304.7,205.2C1306.7,210.6 1324.8,222.1 1337.0,225.6Z" fill="#c2beb3" stroke="#8a867b" stroke-width="0.7"/><path d="M1337.0,225.6 L1335.3,224.5 L1332.8,223.0 L1330.0,221.2 L1326.8,219.2 L1323.7,217.2 L1320.9,215.4 L1318.0,213.6 L1314.9,211.6 L1311.8,209.7 L1308.9,207.8 L1306.5,206.3 L1304.7,205.2" fill="none" stroke="#9c988d" stroke-width="0.6" stroke-linecap="round" stroke-linejoin="round" opacity="1"/><path d="M1345.0,223.5C1357.9,220.2 1376.9,208.7 1379.1,203.0C1370.6,198.3 1351.6,209.7 1345.0,223.5Z" fill="#c2beb3" stroke="#8a867b" stroke-width="0.7"/><path d="M1345.0,223.5 L1346.9,222.4 L1349.4,220.8 L1352.4,219.0 L1355.7,217.0 L1359.0,215.1 L1362.0,213.3 L1365.1,211.4 L1368.3,209.5 L1371.6,207.5 L1374.6,205.7 L1377.2,204.1 L1379.1,203.0" fill="none" stroke="#9c988d" stroke-width="0.6" stroke-linecap="round" stroke-linejoin="round" opacity="1"/><path d="M1338.1,224.6C1336.8,204.9 1320.2,180.1 1308.4,180.4C1308.4,188.0 1325.1,212.8 1338.1,224.6Z" fill="#c2beb3" stroke="#8a867b" stroke-width="0.7"/><path d="M1338.1,224.6 L1336.5,222.2 L1334.2,218.8 L1331.6,214.9 L1328.7,210.7 L1325.9,206.4 L1323.2,202.5 L1320.6,198.5 L1317.7,194.3 L1314.9,190.1 L1312.2,186.1 L1310.0,182.8 L1308.4,180.4" fill="none" stroke="#9c988d" stroke-width="0.6" stroke-linecap="round" stroke-linejoin="round" opacity="1"/><path d="M1344.1,223.5C1357.5,212.4 1375.2,188.9 1375.8,181.5C1364.3,180.7 1346.5,204.2 1344.1,223.5Z" fill="#c2beb3" stroke="#8a867b" stroke-width="0.7"/><path d="M1344.1,223.5 L1345.9,221.2 L1348.2,218.0 L1351.1,214.3 L1354.1,210.3 L1357.2,206.2 L1360.0,202.5 L1362.8,198.7 L1365.8,194.7 L1368.9,190.7 L1371.7,186.9 L1374.1,183.8 L1375.8,181.5" fill="none" stroke="#9c988d" stroke-width="0.6" stroke-linecap="round" stroke-linejoin="round" opacity="1"/><path d="M1341.3,222.4C1349.2,209.2 1351.3,185.1 1345.0,179.3C1337.9,183.9 1335.8,208.1 1341.3,222.4Z" fill="#c2beb3" stroke="#8a867b" stroke-width="0.7"/><path d="M1341.3,222.4 L1341.5,220.1 L1341.8,216.8 L1342.1,213.0 L1342.5,208.8 L1342.8,204.7 L1343.2,200.9 L1343.5,197.0 L1343.8,192.9 L1344.2,188.7 L1344.5,184.9 L1344.8,181.7 L1345.0,179.3" fill="none" stroke="#9c988d" stroke-width="0.6" stroke-linecap="round" stroke-linejoin="round" opacity="1"/><path d="M1346.3,228.9 L1346.9,229.1 L1347.8,229.5 L1348.9,229.9 L1350.0,230.4 L1351.1,230.9 L1352.1,231.5 L1353.1,232.1 L1354.1,232.8 L1355.2,233.6 L1356.1,234.3 L1356.9,234.9 L1357.5,235.3" fill="none" stroke="#8a867b" stroke-width="1.4" stroke-linecap="round" stroke-linejoin="round" opacity="1"/><ellipse cx="1357.9" cy="240.7" rx="4.6" ry="6.8" fill="#a5a196" stroke="#77736a" stroke-width="0.7"/><ellipse cx="1360.1" cy="255.2" rx="3.2" ry="5" fill="#aaa69b" stroke="#77736a" stroke-width="0.7"/><line x1="1358.6" y1="247.2" x2="1359.7" y2="250.4" stroke="#77736a" stroke-width="0.8" stroke-linecap="round"/><path d="M1475.5,296 L1476.5,236 L1478.5,236 L1479.5,296Z" fill="#d8d8d8" stroke="#8a8a8a" stroke-width="0.5"/><path d="M1474.3,271.0 L1473.8,268.9 L1473.1,265.9 L1472.2,262.3 L1471.0,258.5 L1469.6,254.6 L1468.0,251.0 L1466.4,247.9 L1464.9,245.5 L1463.4,243.8 L1462.0,242.6 L1460.5,241.7 L1459.2,241.2 L1458.0,240.9 L1457.0,240.5 L1456.2,240.2 L1455.6,239.9 L1455.4,240.1 L1456.1,240.5 L1456.9,240.8 L1457.8,241.2 L1458.8,241.9 L1459.8,242.8 L1460.8,243.8 L1461.8,245.2 L1462.7,246.9 L1463.7,249.2 L1465.0,252.4 L1466.4,255.9 L1468.1,259.6 L1469.8,263.2 L1471.4,266.5 L1473.0,269.2 L1474.1,271.2Z" fill="#e6e6e6" stroke="#858585" stroke-width="0.55"/><path d="M1474.2,271.1 L1473.0,268.2 L1471.4,264.0 L1469.5,259.0 L1467.5,254.0 L1465.5,249.6 L1463.8,246.2 L1462.2,244.0 L1460.6,242.5 L1459.0,241.5 L1457.6,240.9 L1456.4,240.5 L1455.5,240.0" fill="none" stroke="#a8a8a8" stroke-width="0.4" stroke-linecap="round" stroke-linejoin="round" opacity="1"/><path d="M1475.3,279.2 L1474.9,277.2 L1474.4,274.2 L1473.6,270.8 L1472.7,267.0 L1471.5,263.3 L1470.1,259.8 L1468.5,256.9 L1467.0,254.7 L1465.3,253.3 L1463.5,252.5 L1461.7,252.3 L1460.1,252.4 L1458.6,252.8 L1457.4,253.2 L1456.3,253.4 L1455.5,253.4 L1455.5,253.6 L1456.3,253.7 L1457.4,253.5 L1458.7,253.5 L1460.1,253.6 L1461.5,253.8 L1462.8,254.3 L1463.9,255.1 L1464.8,256.3 L1465.8,258.3 L1467.0,261.1 L1468.3,264.5 L1469.7,268.0 L1471.2,271.6 L1472.7,274.8 L1474.1,277.5 L1475.1,279.4Z" fill="#e6e6e6" stroke="#858585" stroke-width="0.55"/><path d="M1475.2,279.3 L1474.2,276.5 L1472.8,272.3 L1471.2,267.5 L1469.4,262.7 L1467.6,258.5 L1465.9,255.5 L1464.1,253.9 L1462.1,253.1 L1460.1,253.0 L1458.2,253.2 L1456.6,253.5 L1455.5,253.5" fill="none" stroke="#a8a8a8" stroke-width="0.4" stroke-linecap="round" stroke-linejoin="round" opacity="1"/><path d="M1475.3,284.4 L1474.7,282.4 L1473.9,279.4 L1472.9,275.9 L1471.6,272.2 L1470.1,268.5 L1468.4,265.2 L1466.6,262.5 L1464.7,260.6 L1462.6,259.7 L1460.5,259.8 L1458.6,260.6 L1457.0,261.7 L1455.6,263.1 L1454.3,264.4 L1453.2,265.3 L1452.3,265.8 L1452.5,266.0 L1453.4,265.5 L1454.5,264.6 L1456.1,263.8 L1457.8,263.0 L1459.4,262.4 L1460.9,262.1 L1462.0,262.2 L1462.9,262.8 L1464.0,264.3 L1465.4,266.9 L1467.1,270.0 L1468.8,273.5 L1470.6,276.9 L1472.4,280.1 L1473.9,282.7 L1475.1,284.6Z" fill="#e6e6e6" stroke="#858585" stroke-width="0.55"/><path d="M1475.2,284.5 L1474.0,281.7 L1472.2,277.6 L1470.2,272.8 L1468.0,268.1 L1465.8,264.2 L1463.8,261.7 L1461.8,260.9 L1459.6,261.3 L1457.4,262.4 L1455.4,263.8 L1453.6,265.1 L1452.4,265.9" fill="none" stroke="#a8a8a8" stroke-width="0.4" stroke-linecap="round" stroke-linejoin="round" opacity="1"/><path d="M1475.3,288.6 L1474.4,286.9 L1473.1,284.4 L1471.5,281.4 L1469.7,278.3 L1467.6,275.2 L1465.5,272.6 L1463.3,270.7 L1461.1,269.5 L1458.7,269.9 L1457.0,271.4 L1455.7,273.5 L1454.8,275.8 L1454.0,278.2 L1453.5,280.4 L1452.9,282.3 L1452.3,283.4 L1452.5,283.6 L1453.1,282.4 L1454.0,280.7 L1455.2,278.7 L1456.5,276.6 L1457.8,274.7 L1459.0,273.3 L1460.0,272.7 L1460.3,272.7 L1461.3,273.3 L1463.0,275.0 L1465.0,277.3 L1467.3,280.0 L1469.6,282.7 L1471.8,285.3 L1473.7,287.4 L1475.1,288.8Z" fill="#e6e6e6" stroke="#858585" stroke-width="0.55"/><path d="M1475.2,288.7 L1473.6,286.4 L1471.2,283.0 L1468.5,279.1 L1465.6,275.4 L1462.9,272.5 L1460.7,271.1 L1458.9,271.6 L1457.2,273.5 L1455.6,276.2 L1454.3,279.2 L1453.2,281.8 L1452.4,283.5" fill="none" stroke="#a8a8a8" stroke-width="0.4" stroke-linecap="round" stroke-linejoin="round" opacity="1"/><path d="M1474.3,289.9 L1473.9,289.0 L1473.4,287.6 L1472.8,286.0 L1471.9,284.3 L1470.9,282.8 L1469.8,281.4 L1468.6,280.4 L1467.1,279.8 L1465.3,280.4 L1464.5,281.6 L1464.1,282.9 L1463.9,284.4 L1463.8,285.8 L1463.9,287.2 L1463.9,288.3 L1463.7,289.0 L1463.9,289.0 L1464.2,288.3 L1464.6,287.3 L1465.3,286.2 L1465.9,285.0 L1466.5,283.9 L1467.0,283.1 L1467.3,282.8 L1466.7,283.0 L1466.7,283.1 L1467.4,283.8 L1468.4,284.9 L1469.6,286.1 L1470.9,287.4 L1472.1,288.5 L1473.3,289.5 L1474.1,290.1Z" fill="#e6e6e6" stroke="#858585" stroke-width="0.55"/><path d="M1474.2,290.0 L1473.4,288.9 L1472.2,287.2 L1470.7,285.2 L1469.3,283.4 L1468.0,282.0 L1466.9,281.4 L1466.1,281.8 L1465.4,283.0 L1464.9,284.7 L1464.4,286.4 L1464.1,288.0 L1463.8,289.0" fill="none" stroke="#a8a8a8" stroke-width="0.4" stroke-linecap="round" stroke-linejoin="round" opacity="1"/><path d="M1479.4,276.3 L1480.4,274.7 L1481.7,272.5 L1483.1,269.9 L1484.7,267.0 L1486.1,264.0 L1487.6,261.1 L1488.8,258.5 L1490.0,256.4 L1491.1,254.7 L1492.4,253.1 L1493.7,251.7 L1495.1,250.4 L1496.4,249.2 L1497.6,248.1 L1498.7,247.4 L1499.6,246.8 L1499.4,246.6 L1498.6,247.2 L1497.4,247.9 L1495.9,248.4 L1494.3,249.2 L1492.5,250.2 L1490.7,251.4 L1489.0,252.8 L1487.4,254.6 L1485.9,256.9 L1484.5,259.6 L1483.2,262.6 L1482.0,265.8 L1481.0,269.0 L1480.2,271.9 L1479.6,274.4 L1479.2,276.1Z" fill="#e6e6e6" stroke="#858585" stroke-width="0.55"/><path d="M1479.3,276.2 L1480.3,273.8 L1481.7,270.4 L1483.3,266.4 L1485.1,262.3 L1486.9,258.5 L1488.7,255.5 L1490.5,253.2 L1492.6,251.4 L1494.7,249.8 L1496.6,248.5 L1498.3,247.5 L1499.5,246.7" fill="none" stroke="#a8a8a8" stroke-width="0.4" stroke-linecap="round" stroke-linejoin="round" opacity="1"/><path d="M1479.4,281.5 L1480.7,279.6 L1482.4,277.0 L1484.3,273.8 L1486.3,270.3 L1488.2,266.8 L1490.0,263.4 L1491.5,260.5 L1492.8,258.5 L1493.9,257.2 L1495.1,256.4 L1496.4,255.8 L1497.7,255.6 L1499.1,255.5 L1500.3,255.5 L1501.3,255.7 L1502.1,255.6 L1502.1,255.4 L1501.3,255.4 L1500.3,255.2 L1499.1,254.9 L1497.7,254.6 L1496.2,254.4 L1494.4,254.6 L1492.6,255.4 L1490.8,256.7 L1489.0,258.9 L1487.1,261.8 L1485.2,265.2 L1483.5,268.9 L1482.0,272.7 L1480.8,276.2 L1479.9,279.2 L1479.2,281.3Z" fill="#e6e6e6" stroke="#858585" stroke-width="0.55"/><path d="M1479.3,281.4 L1480.7,278.6 L1482.6,274.4 L1484.9,269.6 L1487.3,264.8 L1489.7,260.6 L1491.8,257.6 L1493.8,256.0 L1495.8,255.2 L1497.7,255.1 L1499.5,255.2 L1501.0,255.5 L1502.1,255.5" fill="none" stroke="#a8a8a8" stroke-width="0.4" stroke-linecap="round" stroke-linejoin="round" opacity="1"/><path d="M1479.4,286.1 L1480.8,284.6 L1482.8,282.5 L1485.1,280.0 L1487.5,277.2 L1489.8,274.4 L1492.0,272.0 L1493.8,270.3 L1494.9,269.5 L1495.6,269.5 L1496.6,270.1 L1498.0,271.3 L1499.5,273.0 L1501.0,274.9 L1502.3,276.7 L1503.4,278.3 L1504.1,279.4 L1504.3,279.2 L1503.6,278.2 L1502.8,276.4 L1502.1,274.3 L1501.1,272.0 L1499.9,269.8 L1498.4,268.0 L1496.5,266.7 L1494.1,266.5 L1491.8,267.7 L1489.5,269.7 L1487.3,272.3 L1485.1,275.4 L1483.2,278.6 L1481.5,281.6 L1480.2,284.2 L1479.2,285.9Z" fill="#e6e6e6" stroke="#858585" stroke-width="0.55"/><path d="M1479.3,286.0 L1481.0,283.7 L1483.4,280.2 L1486.3,276.3 L1489.3,272.5 L1492.1,269.5 L1494.5,268.0 L1496.5,268.3 L1498.5,270.0 L1500.3,272.5 L1501.9,275.3 L1503.2,277.7 L1504.2,279.3" fill="none" stroke="#a8a8a8" stroke-width="0.4" stroke-linecap="round" stroke-linejoin="round" opacity="1"/><path d="M1480.5,290.1 L1482.0,288.9 L1484.1,287.2 L1486.5,285.1 L1489.0,282.8 L1491.5,280.5 L1493.7,278.5 L1495.4,277.1 L1496.2,276.7 L1496.1,276.6 L1496.6,277.3 L1497.3,278.8 L1498.0,280.8 L1498.6,283.0 L1499.2,285.1 L1499.6,286.8 L1499.9,288.0 L1500.1,288.0 L1499.9,286.8 L1499.9,285.0 L1500.0,282.8 L1499.9,280.4 L1499.7,278.1 L1499.2,276.1 L1498.0,274.3 L1495.8,273.5 L1493.6,274.3 L1491.4,275.9 L1489.1,278.1 L1486.9,280.7 L1484.7,283.5 L1482.9,286.1 L1481.4,288.4 L1480.3,289.9Z" fill="#e6e6e6" stroke="#858585" stroke-width="0.55"/><path d="M1480.4,290.0 L1482.2,288.1 L1484.9,285.1 L1488.0,281.7 L1491.1,278.6 L1493.9,276.1 L1496.0,275.1 L1497.4,275.8 L1498.3,277.8 L1499.0,280.6 L1499.4,283.6 L1499.7,286.3 L1500.0,288.0" fill="none" stroke="#a8a8a8" stroke-width="0.4" stroke-linecap="round" stroke-linejoin="round" opacity="1"/><path d="M1480.1,291.1 L1480.8,290.5 L1481.8,289.6 L1482.9,288.5 L1484.0,287.4 L1485.0,286.2 L1485.9,285.2 L1486.4,284.7 L1486.2,284.6 L1485.5,284.4 L1485.7,284.6 L1486.2,285.3 L1486.8,286.3 L1487.5,287.4 L1488.2,288.5 L1488.6,289.4 L1488.9,290.0 L1489.1,290.0 L1488.9,289.3 L1488.9,288.3 L1489.0,287.0 L1488.9,285.7 L1488.7,284.3 L1488.3,283.1 L1487.6,282.0 L1485.8,281.4 L1484.3,282.0 L1483.3,283.0 L1482.4,284.3 L1481.6,285.8 L1481.0,287.3 L1480.5,288.8 L1480.2,290.1 L1479.9,290.9Z" fill="#e6e6e6" stroke="#858585" stroke-width="0.55"/><path d="M1480.0,291.0 L1480.7,290.0 L1481.7,288.4 L1482.8,286.6 L1484.0,284.9 L1485.1,283.6 L1486.0,283.0 L1486.7,283.4 L1487.3,284.5 L1487.9,286.0 L1488.3,287.6 L1488.7,289.1 L1489.0,290.0" fill="none" stroke="#a8a8a8" stroke-width="0.4" stroke-linecap="round" stroke-linejoin="round" opacity="1"/><path d="M1476.1,268.0 L1475.9,266.4 L1475.6,264.4 L1475.1,261.9 L1474.5,259.3 L1473.8,256.6 L1473.0,254.0 L1472.2,251.6 L1471.5,249.6 L1470.9,247.8 L1470.4,246.1 L1469.9,244.4 L1469.4,242.8 L1468.9,241.3 L1468.4,240.0 L1468.3,238.9 L1468.1,238.0 L1467.9,238.0 L1468.0,238.9 L1468.1,240.0 L1468.0,241.4 L1467.9,243.0 L1467.9,244.7 L1468.0,246.5 L1468.2,248.4 L1468.5,250.4 L1469.0,252.6 L1469.7,255.0 L1470.7,257.6 L1471.8,260.2 L1473.0,262.7 L1474.1,264.9 L1475.1,266.7 L1475.9,268.0Z" fill="#e6e6e6" stroke="#858585" stroke-width="0.55"/><path d="M1476.0,268.0 L1475.3,266.0 L1474.3,263.1 L1473.1,259.8 L1471.9,256.2 L1470.8,252.9 L1470.0,250.0 L1469.4,247.5 L1469.0,245.1 L1468.6,242.9 L1468.4,240.9 L1468.2,239.2 L1468.0,238.0" fill="none" stroke="#a8a8a8" stroke-width="0.4" stroke-linecap="round" stroke-linejoin="round" opacity="1"/><path d="M1479.1,268.0 L1479.8,266.7 L1480.6,264.8 L1481.6,262.6 L1482.6,260.1 L1483.5,257.5 L1484.3,255.0 L1485.0,252.6 L1485.5,250.5 L1486.0,248.6 L1486.4,246.7 L1486.7,244.9 L1487.0,243.1 L1487.3,241.5 L1487.5,240.1 L1487.8,238.9 L1488.1,238.0 L1487.9,238.0 L1487.6,238.8 L1487.1,240.0 L1486.4,241.2 L1485.6,242.6 L1484.8,244.2 L1484.0,245.9 L1483.2,247.7 L1482.5,249.5 L1481.8,251.6 L1481.1,254.0 L1480.4,256.7 L1479.9,259.4 L1479.5,262.0 L1479.2,264.4 L1479.0,266.5 L1478.9,268.0Z" fill="#e6e6e6" stroke="#858585" stroke-width="0.55"/><path d="M1479.0,268.0 L1479.6,266.0 L1480.3,263.1 L1481.2,259.8 L1482.2,256.2 L1483.2,252.9 L1484.0,250.0 L1484.8,247.5 L1485.6,245.1 L1486.3,242.9 L1487.0,240.9 L1487.6,239.2 L1488.0,238.0" fill="none" stroke="#a8a8a8" stroke-width="0.4" stroke-linecap="round" stroke-linejoin="round" opacity="1"/><clipPath id="pf"><ellipse cx="1478.2" cy="224.4" rx="10.2" ry="13.6"/></clipPath><ellipse cx="1478.2" cy="224.4" rx="10.2" ry="13.6" fill="#bdbdbd" stroke="#7e7e7e" stroke-width="0.8"/><g clip-path="url(#pf)"><line x1="1452.2" y1="208.4" x2="1468.2" y2="240.4" stroke="#8a8a8a" stroke-width="0.6" stroke-linecap="round"/><line x1="1468.2" y1="208.4" x2="1452.2" y2="240.4" stroke="#8a8a8a" stroke-width="0.6" stroke-linecap="round"/><line x1="1455.8" y1="208.4" x2="1471.8" y2="240.4" stroke="#8a8a8a" stroke-width="0.6" stroke-linecap="round"/><line x1="1471.8" y1="208.4" x2="1455.8" y2="240.4" stroke="#8a8a8a" stroke-width="0.6" stroke-linecap="round"/><line x1="1459.4" y1="208.4" x2="1475.4" y2="240.4" stroke="#8a8a8a" stroke-width="0.6" stroke-linecap="round"/><line x1="1475.4" y1="208.4" x2="1459.4" y2="240.4" stroke="#8a8a8a" stroke-width="0.6" stroke-linecap="round"/><line x1="1463.0" y1="208.4" x2="1479.0" y2="240.4" stroke="#8a8a8a" stroke-width="0.6" stroke-linecap="round"/><line x1="1479.0" y1="208.4" x2="1463.0" y2="240.4" stroke="#8a8a8a" stroke-width="0.6" stroke-linecap="round"/><line x1="1466.6" y1="208.4" x2="1482.6" y2="240.4" stroke="#8a8a8a" stroke-width="0.6" stroke-linecap="round"/><line x1="1482.6" y1="208.4" x2="1466.6" y2="240.4" stroke="#8a8a8a" stroke-width="0.6" stroke-linecap="round"/><line x1="1470.2" y1="208.4" x2="1486.2" y2="240.4" stroke="#8a8a8a" stroke-width="0.6" stroke-linecap="round"/><line x1="1486.2" y1="208.4" x2="1470.2" y2="240.4" stroke="#8a8a8a" stroke-width="0.6" stroke-linecap="round"/><line x1="1473.8" y1="208.4" x2="1489.8" y2="240.4" stroke="#8a8a8a" stroke-width="0.6" stroke-linecap="round"/><line x1="1489.8" y1="208.4" x2="1473.8" y2="240.4" stroke="#8a8a8a" stroke-width="0.6" stroke-linecap="round"/><line x1="1477.4" y1="208.4" x2="1493.4" y2="240.4" stroke="#8a8a8a" stroke-width="0.6" stroke-linecap="round"/><line x1="1493.4" y1="208.4" x2="1477.4" y2="240.4" stroke="#8a8a8a" stroke-width="0.6" stroke-linecap="round"/><line x1="1481.0" y1="208.4" x2="1497.0" y2="240.4" stroke="#8a8a8a" stroke-width="0.6" stroke-linecap="round"/><line x1="1497.0" y1="208.4" x2="1481.0" y2="240.4" stroke="#8a8a8a" stroke-width="0.6" stroke-linecap="round"/><line x1="1484.6" y1="208.4" x2="1500.6" y2="240.4" stroke="#8a8a8a" stroke-width="0.6" stroke-linecap="round"/><line x1="1500.6" y1="208.4" x2="1484.6" y2="240.4" stroke="#8a8a8a" stroke-width="0.6" stroke-linecap="round"/><line x1="1488.2" y1="208.4" x2="1504.2" y2="240.4" stroke="#8a8a8a" stroke-width="0.6" stroke-linecap="round"/><line x1="1504.2" y1="208.4" x2="1488.2" y2="240.4" stroke="#8a8a8a" stroke-width="0.6" stroke-linecap="round"/></g><path d="M1477.2,213.1C1478.2,211.0 1471.4,202.0 1464.4,196.1C1468.1,204.5 1474.9,213.5 1477.2,213.1Z" fill="#cbcbcb" stroke="#7a7a7a" stroke-width="0.5"/><path d="M1477.2,213.1C1478.6,211.1 1473.3,199.1 1467.3,190.3C1469.6,200.7 1474.8,212.8 1477.2,213.1Z" fill="#cbcbcb" stroke="#7a7a7a" stroke-width="0.5"/><path d="M1477.2,213.1C1479.0,211.5 1476.6,198.3 1472.7,188.3C1472.5,199.1 1474.9,212.2 1477.2,213.1Z" fill="#cbcbcb" stroke="#7a7a7a" stroke-width="0.5"/><path d="M1477.2,213.1C1479.4,212.0 1480.5,198.4 1479.3,187.4C1476.3,198.0 1475.3,211.6 1477.2,213.1Z" fill="#cbcbcb" stroke="#7a7a7a" stroke-width="0.5"/><path d="M1477.2,213.1C1479.6,212.6 1483.5,200.3 1484.7,189.9C1479.6,199.0 1475.6,211.3 1477.2,213.1Z" fill="#cbcbcb" stroke="#7a7a7a" stroke-width="0.5"/><path d="M1477.2,213.1C1479.5,213.4 1486.3,203.7 1490.0,194.9C1483.0,201.3 1476.2,211.0 1477.2,213.1Z" fill="#cbcbcb" stroke="#7a7a7a" stroke-width="0.5"/><path d="M1477.2,213.1C1479.2,214.2 1486.6,208.5 1491.3,202.3C1484.1,205.2 1476.7,210.9 1477.2,213.1Z" fill="#cbcbcb" stroke="#7a7a7a" stroke-width="0.5"/><path d="M1477.2,213.1C1477.8,210.9 1470.6,205.7 1463.8,203.2C1468.2,209.0 1475.3,214.2 1477.2,213.1Z" fill="#cbcbcb" stroke="#7a7a7a" stroke-width="0.5"/><path d="M1477.2,213.1C1478.9,211.5 1475.6,200.7 1471.0,192.8C1471.6,201.9 1474.9,212.7 1477.2,213.1Z" fill="#cbcbcb" stroke="#7a7a7a" stroke-width="0.5"/><path d="M1477.2,213.1C1479.5,212.5 1482.2,201.6 1482.4,192.4C1478.2,200.6 1475.5,211.5 1477.2,213.1Z" fill="#cbcbcb" stroke="#7a7a7a" stroke-width="0.5"/><path d="M1477.2,213.1C1479.3,211.9 1479.0,199.6 1476.8,189.9C1474.9,199.7 1475.1,212.0 1477.2,213.1Z" fill="#cbcbcb" stroke="#7a7a7a" stroke-width="0.5"/><path d="M1477.2,213.1C1478.7,214.7 1484.1,211.9 1487.5,207.9C1482.3,208.2 1476.8,211.0 1477.2,213.1Z" fill="#cbcbcb" stroke="#7a7a7a" stroke-width="0.5"/><path d="M1477.2,213.1C1477.4,210.9 1471.7,208.7 1466.5,208.9C1470.2,212.6 1475.9,214.8 1477.2,213.1Z" fill="#cbcbcb" stroke="#7a7a7a" stroke-width="0.5"/><path d="M1477.2,213.1C1477.7,210.8 1468.9,203.7 1460.7,199.6C1466.3,206.9 1475.1,214.0 1477.2,213.1Z" fill="#cbcbcb" stroke="#7a7a7a" stroke-width="0.5"/><path d="M1477.2,213.1C1479.4,213.9 1488.4,206.3 1494.2,198.6C1485.7,203.1 1476.7,210.8 1477.2,213.1Z" fill="#cbcbcb" stroke="#7a7a7a" stroke-width="0.5"/><path d="M1477.2,213.1C1478.6,211.3 1474.2,204.2 1468.9,199.6C1470.7,206.4 1475.0,213.5 1477.2,213.1Z" fill="#cbcbcb" stroke="#7a7a7a" stroke-width="0.5"/><path d="M1477.2,213.1C1479.3,213.6 1483.7,207.0 1485.5,200.7C1480.3,204.7 1475.9,211.3 1477.2,213.1Z" fill="#cbcbcb" stroke="#7a7a7a" stroke-width="0.5"/><path d="M1609.7,293.8C1611.1,287.9 1600.8,230.5 1590.3,185.4C1599.3,230.7 1609.6,288.2 1609.7,293.8Z" fill="#a9a699"/><path d="M1610.0,293.8C1611.3,288.7 1607.5,235.7 1602.9,193.8C1606.0,235.8 1609.8,288.8 1610.0,293.8Z" fill="#a9a699"/><path d="M1610.4,293.8C1610.5,289.2 1612.3,240.1 1613.8,201.2C1610.8,240.0 1608.9,289.1 1610.4,293.8Z" fill="#a9a699"/><path d="M1609.3,293.8C1612.2,288.3 1595.5,251.4 1577.6,224.3C1594.0,252.1 1610.8,288.9 1609.3,293.8Z" fill="#a9a699"/><path d="M1609.2,293.8C1612.4,288.0 1594.6,260.1 1575.5,241.2C1593.3,261.0 1611.1,288.9 1609.2,293.8Z" fill="#a9a699"/><path d="M1609.4,293.8C1612.6,288.4 1598.0,270.0 1581.8,259.1C1596.8,271.0 1611.4,289.4 1609.4,293.8Z" fill="#a9a699"/><path d="M1609.4,293.8C1610.5,288.7 1595.3,279.7 1580.8,276.9C1594.5,281.1 1609.7,290.0 1609.4,293.8Z" fill="#a9a699"/><path d="M1611.4,293.8C1610.0,288.2 1628.9,243.0 1647.1,208.5C1627.5,242.4 1608.6,287.6 1611.4,293.8Z" fill="#a9a699"/><path d="M1611.4,293.8C1609.7,288.5 1629.7,256.4 1649.2,233.2C1628.4,255.5 1608.4,287.7 1611.4,293.8Z" fill="#a9a699"/><path d="M1611.4,293.8C1610.4,288.9 1630.5,270.5 1649.2,259.1C1629.4,269.4 1609.4,287.8 1611.4,293.8Z" fill="#a9a699"/><path d="M1611.0,293.8C1610.1,290.1 1623.1,280.1 1635.5,274.8C1622.2,278.9 1609.2,288.9 1611.0,293.8Z" fill="#a9a699"/><path d="M1610.6,293.8C1610.6,289.2 1616.3,241.8 1621.4,204.3C1614.8,241.6 1609.0,289.1 1610.6,293.8Z" fill="#a9a699"/><path d="M1609.9,293.8C1611.6,289.5 1604.6,248.2 1596.6,215.9C1603.0,248.5 1610.1,289.7 1609.9,293.8Z" fill="#a9a699"/><path d="M1611.1,293.8C1610.1,290.0 1624.2,262.1 1637.6,241.2C1622.8,261.4 1608.7,289.3 1611.1,293.8Z" fill="#a9a699"/><path d="M1609.6,293.8C1611.6,289.6 1600.3,256.1 1588.2,230.6C1598.8,256.6 1610.2,290.1 1609.6,293.8Z" fill="#a9a699"/><path d="M1610.8,293.8C1610.5,289.8 1619.7,250.8 1628.2,220.1C1618.2,250.4 1609.0,289.5 1610.8,293.8Z" fill="#a9a699"/><path d="M1609.9,293.8C1611.2,289.1 1605.8,241.1 1599.7,203.3C1604.3,241.3 1609.7,289.2 1609.9,293.8Z" fill="#a9a699"/><path d="M1610.5,293.8C1610.9,288.7 1615.8,235.2 1619.7,192.7C1614.3,235.0 1609.4,288.6 1610.5,293.8Z" fill="#a9a699"/><path d="M1609.9,293.8C1610.7,291.3 1603.7,285.8 1596.6,283.3C1602.7,287.0 1609.8,292.6 1609.9,293.8Z" fill="#a9a699"/><path d="M1610.7,293.8C1611.1,292.6 1619.2,288.1 1626.1,285.4C1618.4,286.8 1610.3,291.2 1610.7,293.8Z" fill="#a9a699"/><path d="M1609.7,293.8C1611.5,290.7 1602.3,278.4 1592.4,270.6C1601.1,279.3 1610.3,291.6 1609.7,293.8Z" fill="#a9a699"/><path d="M1610.9,293.8C1610.4,291.4 1620.7,276.9 1630.3,266.4C1619.4,276.0 1609.1,290.5 1610.9,293.8Z" fill="#a9a699"/><path d="M1607.1,241.2 L1606.7,237.5 L1606.1,232.3 L1605.4,226.2 L1604.6,219.9 L1603.6,214.2 L1602.5,209.6 L1601.1,206.1 L1599.6,203.1 L1597.9,200.6 L1596.1,198.6 L1594.3,197.1 L1592.4,195.9 L1590.3,195.3 L1588.0,195.3 L1585.7,195.7 L1583.4,196.4 L1581.4,197.2 L1579.7,198.0 L1578.5,198.9 L1577.6,200.0 L1576.8,201.3 L1576.3,202.5 L1575.9,203.6 L1575.5,204.3" fill="none" stroke="#a29f92" stroke-width="0.8" stroke-linecap="round" stroke-linejoin="round" opacity="1"/><line x1="1599.9" y1="203.7" x2="1600.5" y2="201.3" stroke="#a8a598" stroke-width="1.0" stroke-linecap="round"/><line x1="1598.9" y1="202.1" x2="1596.6" y2="201.7" stroke="#a8a598" stroke-width="1.0" stroke-linecap="round"/><line x1="1597.9" y1="200.6" x2="1598.2" y2="198.2" stroke="#a8a598" stroke-width="1.0" stroke-linecap="round"/><line x1="1596.9" y1="199.4" x2="1594.5" y2="199.4" stroke="#a8a598" stroke-width="1.0" stroke-linecap="round"/><line x1="1595.8" y1="198.3" x2="1595.6" y2="195.9" stroke="#a8a598" stroke-width="1.0" stroke-linecap="round"/><line x1="1594.6" y1="197.3" x2="1592.3" y2="197.8" stroke="#a8a598" stroke-width="1.0" stroke-linecap="round"/><line x1="1593.5" y1="196.5" x2="1592.9" y2="194.2" stroke="#a8a598" stroke-width="1.0" stroke-linecap="round"/><line x1="1592.4" y1="195.9" x2="1590.2" y2="196.9" stroke="#a8a598" stroke-width="1.0" stroke-linecap="round"/><line x1="1591.2" y1="195.4" x2="1589.8" y2="193.5" stroke="#a8a598" stroke-width="1.0" stroke-linecap="round"/><line x1="1589.9" y1="195.2" x2="1588.2" y2="197.0" stroke="#a8a598" stroke-width="1.0" stroke-linecap="round"/><line x1="1588.5" y1="195.2" x2="1586.6" y2="193.7" stroke="#a8a598" stroke-width="1.0" stroke-linecap="round"/><line x1="1587.1" y1="195.4" x2="1585.8" y2="197.4" stroke="#a8a598" stroke-width="1.0" stroke-linecap="round"/><line x1="1585.7" y1="195.7" x2="1583.6" y2="194.5" stroke="#a8a598" stroke-width="1.0" stroke-linecap="round"/><line x1="1584.3" y1="196.1" x2="1583.3" y2="198.3" stroke="#a8a598" stroke-width="1.0" stroke-linecap="round"/><line x1="1583.0" y1="196.6" x2="1580.8" y2="195.6" stroke="#a8a598" stroke-width="1.0" stroke-linecap="round"/><line x1="1581.8" y1="197.1" x2="1580.9" y2="199.3" stroke="#a8a598" stroke-width="1.0" stroke-linecap="round"/><line x1="1580.7" y1="197.5" x2="1578.4" y2="196.7" stroke="#a8a598" stroke-width="1.0" stroke-linecap="round"/><line x1="1579.7" y1="198.0" x2="1579.2" y2="200.3" stroke="#a8a598" stroke-width="1.0" stroke-linecap="round"/><line x1="1579.0" y1="198.5" x2="1576.6" y2="198.3" stroke="#a8a598" stroke-width="1.0" stroke-linecap="round"/><line x1="1578.3" y1="199.1" x2="1578.6" y2="201.5" stroke="#a8a598" stroke-width="1.0" stroke-linecap="round"/><line x1="1577.7" y1="199.8" x2="1575.4" y2="200.3" stroke="#a8a598" stroke-width="1.0" stroke-linecap="round"/><line x1="1577.2" y1="200.5" x2="1578.0" y2="202.8" stroke="#a8a598" stroke-width="1.0" stroke-linecap="round"/><line x1="1576.8" y1="201.3" x2="1574.6" y2="202.1" stroke="#a8a598" stroke-width="1.0" stroke-linecap="round"/><line x1="1576.5" y1="202.0" x2="1577.5" y2="204.2" stroke="#a8a598" stroke-width="1.0" stroke-linecap="round"/><line x1="1576.2" y1="202.8" x2="1574.0" y2="203.7" stroke="#a8a598" stroke-width="1.0" stroke-linecap="round"/><line x1="1576.0" y1="203.4" x2="1576.9" y2="205.6" stroke="#a8a598" stroke-width="1.0" stroke-linecap="round"/><line x1="1575.7" y1="203.9" x2="1573.4" y2="204.6" stroke="#a8a598" stroke-width="1.0" stroke-linecap="round"/><path d="M1607.1,241.2 L1606.3,237.3 L1605.3,231.8 L1604.1,225.4 L1602.7,218.8 L1601.2,212.9 L1599.7,208.5 L1598.1,205.5 L1596.3,203.3 L1594.5,201.7 L1592.6,200.7 L1590.8,200.2 L1589.2,200.1 L1587.7,200.7 L1586.3,202.0 L1585.0,203.8 L1583.8,205.8 L1582.7,207.9 L1581.8,209.6 L1581.2,211.1 L1580.8,212.8 L1580.5,214.4 L1580.4,215.9 L1580.3,217.1 L1580.2,218.0" fill="none" stroke="#a29f92" stroke-width="0.8" stroke-linecap="round" stroke-linejoin="round" opacity="1"/><line x1="1596.7" y1="203.7" x2="1596.7" y2="201.3" stroke="#a8a598" stroke-width="1.0" stroke-linecap="round"/><line x1="1595.6" y1="202.6" x2="1593.2" y2="202.9" stroke="#a8a598" stroke-width="1.0" stroke-linecap="round"/><line x1="1594.5" y1="201.7" x2="1593.9" y2="199.4" stroke="#a8a598" stroke-width="1.0" stroke-linecap="round"/><line x1="1593.3" y1="201.0" x2="1591.1" y2="202.0" stroke="#a8a598" stroke-width="1.0" stroke-linecap="round"/><line x1="1592.2" y1="200.6" x2="1591.1" y2="198.4" stroke="#a8a598" stroke-width="1.0" stroke-linecap="round"/><line x1="1591.2" y1="200.3" x2="1589.3" y2="201.7" stroke="#a8a598" stroke-width="1.0" stroke-linecap="round"/><line x1="1590.1" y1="200.1" x2="1588.5" y2="198.4" stroke="#a8a598" stroke-width="1.0" stroke-linecap="round"/><line x1="1589.2" y1="200.1" x2="1588.0" y2="202.2" stroke="#a8a598" stroke-width="1.0" stroke-linecap="round"/><line x1="1588.3" y1="200.3" x2="1586.0" y2="199.7" stroke="#a8a598" stroke-width="1.0" stroke-linecap="round"/><line x1="1587.4" y1="200.9" x2="1587.4" y2="203.3" stroke="#a8a598" stroke-width="1.0" stroke-linecap="round"/><line x1="1586.6" y1="201.7" x2="1584.2" y2="201.8" stroke="#a8a598" stroke-width="1.0" stroke-linecap="round"/><line x1="1585.8" y1="202.7" x2="1586.2" y2="205.0" stroke="#a8a598" stroke-width="1.0" stroke-linecap="round"/><line x1="1585.0" y1="203.8" x2="1582.6" y2="204.3" stroke="#a8a598" stroke-width="1.0" stroke-linecap="round"/><line x1="1584.2" y1="205.0" x2="1584.9" y2="207.3" stroke="#a8a598" stroke-width="1.0" stroke-linecap="round"/><line x1="1583.5" y1="206.3" x2="1581.2" y2="206.9" stroke="#a8a598" stroke-width="1.0" stroke-linecap="round"/><line x1="1582.9" y1="207.5" x2="1583.7" y2="209.7" stroke="#a8a598" stroke-width="1.0" stroke-linecap="round"/><line x1="1582.3" y1="208.6" x2="1580.0" y2="209.3" stroke="#a8a598" stroke-width="1.0" stroke-linecap="round"/><line x1="1581.8" y1="209.6" x2="1582.7" y2="211.8" stroke="#a8a598" stroke-width="1.0" stroke-linecap="round"/><line x1="1581.4" y1="210.5" x2="1579.3" y2="211.5" stroke="#a8a598" stroke-width="1.0" stroke-linecap="round"/><line x1="1581.1" y1="211.5" x2="1582.4" y2="213.5" stroke="#a8a598" stroke-width="1.0" stroke-linecap="round"/><line x1="1580.9" y1="212.4" x2="1578.9" y2="213.8" stroke="#a8a598" stroke-width="1.0" stroke-linecap="round"/><line x1="1580.7" y1="213.4" x2="1582.1" y2="215.3" stroke="#a8a598" stroke-width="1.0" stroke-linecap="round"/><line x1="1580.5" y1="214.4" x2="1578.6" y2="215.9" stroke="#a8a598" stroke-width="1.0" stroke-linecap="round"/><line x1="1580.4" y1="215.3" x2="1582.0" y2="217.1" stroke="#a8a598" stroke-width="1.0" stroke-linecap="round"/><line x1="1580.4" y1="216.1" x2="1578.5" y2="217.6" stroke="#a8a598" stroke-width="1.0" stroke-linecap="round"/><line x1="1580.3" y1="216.9" x2="1581.8" y2="218.7" stroke="#a8a598" stroke-width="1.0" stroke-linecap="round"/><line x1="1580.2" y1="217.5" x2="1578.3" y2="218.9" stroke="#a8a598" stroke-width="1.0" stroke-linecap="round"/><path d="M1607.1,241.2 L1606.4,237.8 L1605.4,233.0 L1604.3,227.3 L1603.0,221.6 L1601.7,216.5 L1600.4,212.7 L1598.9,210.2 L1597.4,208.3 L1595.8,207.1 L1594.1,206.4 L1592.6,206.2 L1591.3,206.4 L1590.2,207.4 L1589.1,209.1 L1588.1,211.3 L1587.3,213.7 L1586.6,216.1 L1586.1,218.0 L1585.7,219.6 L1585.5,221.2 L1585.5,222.7 L1585.6,224.1 L1585.6,225.2 L1585.6,226.0" fill="none" stroke="#a29f92" stroke-width="0.8" stroke-linecap="round" stroke-linejoin="round" opacity="1"/><line x1="1597.7" y1="208.7" x2="1597.6" y2="206.3" stroke="#a8a598" stroke-width="1.0" stroke-linecap="round"/><line x1="1596.7" y1="207.8" x2="1594.4" y2="208.2" stroke="#a8a598" stroke-width="1.0" stroke-linecap="round"/><line x1="1595.8" y1="207.1" x2="1595.0" y2="204.8" stroke="#a8a598" stroke-width="1.0" stroke-linecap="round"/><line x1="1594.8" y1="206.6" x2="1592.7" y2="207.7" stroke="#a8a598" stroke-width="1.0" stroke-linecap="round"/><line x1="1593.8" y1="206.3" x2="1592.4" y2="204.4" stroke="#a8a598" stroke-width="1.0" stroke-linecap="round"/><line x1="1592.9" y1="206.2" x2="1591.3" y2="208.0" stroke="#a8a598" stroke-width="1.0" stroke-linecap="round"/><line x1="1592.1" y1="206.2" x2="1590.0" y2="205.0" stroke="#a8a598" stroke-width="1.0" stroke-linecap="round"/><line x1="1591.3" y1="206.4" x2="1590.8" y2="208.8" stroke="#a8a598" stroke-width="1.0" stroke-linecap="round"/><line x1="1590.6" y1="206.9" x2="1588.2" y2="207.0" stroke="#a8a598" stroke-width="1.0" stroke-linecap="round"/><line x1="1589.9" y1="207.6" x2="1590.5" y2="210.0" stroke="#a8a598" stroke-width="1.0" stroke-linecap="round"/><line x1="1589.3" y1="208.7" x2="1587.0" y2="209.4" stroke="#a8a598" stroke-width="1.0" stroke-linecap="round"/><line x1="1588.7" y1="209.9" x2="1589.7" y2="212.1" stroke="#a8a598" stroke-width="1.0" stroke-linecap="round"/><line x1="1588.1" y1="211.3" x2="1586.0" y2="212.3" stroke="#a8a598" stroke-width="1.0" stroke-linecap="round"/><line x1="1587.6" y1="212.8" x2="1588.8" y2="214.9" stroke="#a8a598" stroke-width="1.0" stroke-linecap="round"/><line x1="1587.2" y1="214.2" x2="1585.0" y2="215.3" stroke="#a8a598" stroke-width="1.0" stroke-linecap="round"/><line x1="1586.7" y1="215.6" x2="1587.9" y2="217.7" stroke="#a8a598" stroke-width="1.0" stroke-linecap="round"/><line x1="1586.4" y1="216.9" x2="1584.3" y2="218.0" stroke="#a8a598" stroke-width="1.0" stroke-linecap="round"/><line x1="1586.1" y1="218.0" x2="1587.3" y2="220.0" stroke="#a8a598" stroke-width="1.0" stroke-linecap="round"/><line x1="1585.8" y1="219.0" x2="1583.8" y2="220.4" stroke="#a8a598" stroke-width="1.0" stroke-linecap="round"/><line x1="1585.7" y1="220.0" x2="1587.2" y2="221.8" stroke="#a8a598" stroke-width="1.0" stroke-linecap="round"/><line x1="1585.6" y1="220.9" x2="1583.8" y2="222.5" stroke="#a8a598" stroke-width="1.0" stroke-linecap="round"/><line x1="1585.5" y1="221.8" x2="1587.2" y2="223.5" stroke="#a8a598" stroke-width="1.0" stroke-linecap="round"/><line x1="1585.5" y1="222.7" x2="1583.8" y2="224.4" stroke="#a8a598" stroke-width="1.0" stroke-linecap="round"/><line x1="1585.5" y1="223.5" x2="1587.3" y2="225.1" stroke="#a8a598" stroke-width="1.0" stroke-linecap="round"/><line x1="1585.6" y1="224.3" x2="1583.9" y2="226.1" stroke="#a8a598" stroke-width="1.0" stroke-linecap="round"/><line x1="1585.6" y1="225.0" x2="1587.4" y2="226.6" stroke="#a8a598" stroke-width="1.0" stroke-linecap="round"/><line x1="1585.6" y1="225.5" x2="1583.9" y2="227.2" stroke="#a8a598" stroke-width="1.0" stroke-linecap="round"/><path d="M1613.4,241.2 L1613.9,237.6 L1614.6,232.5 L1615.5,226.6 L1616.4,220.3 L1617.5,214.5 L1618.7,209.6 L1620.0,205.5 L1621.5,201.9 L1623.1,198.5 L1624.8,195.5 L1626.5,192.9 L1628.2,190.6 L1629.9,188.7 L1631.6,187.0 L1633.4,185.8 L1635.2,184.9 L1637.0,184.4 L1638.7,184.3 L1640.4,185.0 L1642.3,186.3 L1644.1,188.1 L1645.7,190.0 L1647.1,191.7 L1648.2,192.7" fill="none" stroke="#a29f92" stroke-width="0.8" stroke-linecap="round" stroke-linejoin="round" opacity="1"/><line x1="1621.2" y1="202.6" x2="1623.4" y2="201.7" stroke="#a8a598" stroke-width="1.0" stroke-linecap="round"/><line x1="1622.1" y1="200.5" x2="1621.3" y2="198.2" stroke="#a8a598" stroke-width="1.0" stroke-linecap="round"/><line x1="1623.1" y1="198.5" x2="1625.4" y2="197.9" stroke="#a8a598" stroke-width="1.0" stroke-linecap="round"/><line x1="1624.1" y1="196.7" x2="1623.5" y2="194.4" stroke="#a8a598" stroke-width="1.0" stroke-linecap="round"/><line x1="1625.1" y1="195.0" x2="1627.5" y2="194.5" stroke="#a8a598" stroke-width="1.0" stroke-linecap="round"/><line x1="1626.1" y1="193.4" x2="1625.7" y2="191.1" stroke="#a8a598" stroke-width="1.0" stroke-linecap="round"/><line x1="1627.1" y1="192.0" x2="1629.5" y2="191.7" stroke="#a8a598" stroke-width="1.0" stroke-linecap="round"/><line x1="1628.2" y1="190.6" x2="1627.9" y2="188.2" stroke="#a8a598" stroke-width="1.0" stroke-linecap="round"/><line x1="1629.2" y1="189.4" x2="1631.6" y2="189.4" stroke="#a8a598" stroke-width="1.0" stroke-linecap="round"/><line x1="1630.2" y1="188.3" x2="1630.3" y2="185.9" stroke="#a8a598" stroke-width="1.0" stroke-linecap="round"/><line x1="1631.3" y1="187.3" x2="1633.7" y2="187.6" stroke="#a8a598" stroke-width="1.0" stroke-linecap="round"/><line x1="1632.3" y1="186.5" x2="1632.8" y2="184.1" stroke="#a8a598" stroke-width="1.0" stroke-linecap="round"/><line x1="1633.4" y1="185.8" x2="1635.7" y2="186.5" stroke="#a8a598" stroke-width="1.0" stroke-linecap="round"/><line x1="1634.5" y1="185.2" x2="1635.4" y2="182.9" stroke="#a8a598" stroke-width="1.0" stroke-linecap="round"/><line x1="1635.6" y1="184.7" x2="1637.6" y2="185.9" stroke="#a8a598" stroke-width="1.0" stroke-linecap="round"/><line x1="1636.6" y1="184.4" x2="1638.1" y2="182.5" stroke="#a8a598" stroke-width="1.0" stroke-linecap="round"/><line x1="1637.7" y1="184.3" x2="1639.3" y2="186.1" stroke="#a8a598" stroke-width="1.0" stroke-linecap="round"/><line x1="1638.7" y1="184.3" x2="1640.8" y2="183.1" stroke="#a8a598" stroke-width="1.0" stroke-linecap="round"/><line x1="1639.7" y1="184.6" x2="1640.4" y2="186.9" stroke="#a8a598" stroke-width="1.0" stroke-linecap="round"/><line x1="1640.8" y1="185.2" x2="1643.2" y2="184.8" stroke="#a8a598" stroke-width="1.0" stroke-linecap="round"/><line x1="1641.9" y1="186.0" x2="1642.0" y2="188.4" stroke="#a8a598" stroke-width="1.0" stroke-linecap="round"/><line x1="1643.0" y1="187.0" x2="1645.4" y2="187.0" stroke="#a8a598" stroke-width="1.0" stroke-linecap="round"/><line x1="1644.1" y1="188.1" x2="1643.9" y2="190.5" stroke="#a8a598" stroke-width="1.0" stroke-linecap="round"/><line x1="1645.1" y1="189.3" x2="1647.5" y2="189.4" stroke="#a8a598" stroke-width="1.0" stroke-linecap="round"/><line x1="1646.0" y1="190.4" x2="1645.8" y2="192.8" stroke="#a8a598" stroke-width="1.0" stroke-linecap="round"/><line x1="1646.9" y1="191.4" x2="1649.3" y2="191.5" stroke="#a8a598" stroke-width="1.0" stroke-linecap="round"/><line x1="1647.6" y1="192.2" x2="1647.5" y2="194.6" stroke="#a8a598" stroke-width="1.0" stroke-linecap="round"/><path d="M1613.4,241.2 L1614.1,237.3 L1615.0,231.7 L1616.1,225.2 L1617.3,218.5 L1618.7,212.3 L1620.2,207.5 L1621.8,203.8 L1623.7,200.7 L1625.8,198.2 L1627.9,196.2 L1629.9,194.7 L1631.9,193.8 L1634.0,193.5 L1636.1,194.0 L1638.2,195.0 L1640.2,196.3 L1641.9,197.7 L1643.3,199.1 L1644.3,200.5 L1645.0,202.2 L1645.5,204.1 L1645.8,205.9 L1646.0,207.4 L1646.3,208.5" fill="none" stroke="#a29f92" stroke-width="0.8" stroke-linecap="round" stroke-linejoin="round" opacity="1"/><line x1="1623.3" y1="201.3" x2="1625.7" y2="201.0" stroke="#a8a598" stroke-width="1.0" stroke-linecap="round"/><line x1="1624.5" y1="199.7" x2="1624.3" y2="197.3" stroke="#a8a598" stroke-width="1.0" stroke-linecap="round"/><line x1="1625.8" y1="198.2" x2="1628.2" y2="198.2" stroke="#a8a598" stroke-width="1.0" stroke-linecap="round"/><line x1="1627.0" y1="196.9" x2="1627.2" y2="194.5" stroke="#a8a598" stroke-width="1.0" stroke-linecap="round"/><line x1="1628.3" y1="195.9" x2="1630.6" y2="196.3" stroke="#a8a598" stroke-width="1.0" stroke-linecap="round"/><line x1="1629.5" y1="195.0" x2="1630.1" y2="192.7" stroke="#a8a598" stroke-width="1.0" stroke-linecap="round"/><line x1="1630.8" y1="194.3" x2="1633.0" y2="195.2" stroke="#a8a598" stroke-width="1.0" stroke-linecap="round"/><line x1="1631.9" y1="193.8" x2="1633.2" y2="191.8" stroke="#a8a598" stroke-width="1.0" stroke-linecap="round"/><line x1="1633.1" y1="193.5" x2="1634.8" y2="195.3" stroke="#a8a598" stroke-width="1.0" stroke-linecap="round"/><line x1="1634.4" y1="193.6" x2="1636.4" y2="192.2" stroke="#a8a598" stroke-width="1.0" stroke-linecap="round"/><line x1="1635.7" y1="193.8" x2="1636.6" y2="196.0" stroke="#a8a598" stroke-width="1.0" stroke-linecap="round"/><line x1="1636.9" y1="194.3" x2="1639.2" y2="193.6" stroke="#a8a598" stroke-width="1.0" stroke-linecap="round"/><line x1="1638.2" y1="195.0" x2="1638.7" y2="197.3" stroke="#a8a598" stroke-width="1.0" stroke-linecap="round"/><line x1="1639.4" y1="195.7" x2="1641.8" y2="195.3" stroke="#a8a598" stroke-width="1.0" stroke-linecap="round"/><line x1="1640.5" y1="196.6" x2="1640.7" y2="199.0" stroke="#a8a598" stroke-width="1.0" stroke-linecap="round"/><line x1="1641.6" y1="197.4" x2="1644.0" y2="197.3" stroke="#a8a598" stroke-width="1.0" stroke-linecap="round"/><line x1="1642.5" y1="198.3" x2="1642.5" y2="200.7" stroke="#a8a598" stroke-width="1.0" stroke-linecap="round"/><line x1="1643.3" y1="199.1" x2="1645.7" y2="199.3" stroke="#a8a598" stroke-width="1.0" stroke-linecap="round"/><line x1="1644.0" y1="199.9" x2="1643.3" y2="202.2" stroke="#a8a598" stroke-width="1.0" stroke-linecap="round"/><line x1="1644.5" y1="200.8" x2="1646.7" y2="201.7" stroke="#a8a598" stroke-width="1.0" stroke-linecap="round"/><line x1="1644.9" y1="201.9" x2="1643.7" y2="204.0" stroke="#a8a598" stroke-width="1.0" stroke-linecap="round"/><line x1="1645.2" y1="203.0" x2="1647.3" y2="204.2" stroke="#a8a598" stroke-width="1.0" stroke-linecap="round"/><line x1="1645.5" y1="204.1" x2="1644.1" y2="206.1" stroke="#a8a598" stroke-width="1.0" stroke-linecap="round"/><line x1="1645.7" y1="205.2" x2="1647.7" y2="206.6" stroke="#a8a598" stroke-width="1.0" stroke-linecap="round"/><line x1="1645.9" y1="206.2" x2="1644.4" y2="208.2" stroke="#a8a598" stroke-width="1.0" stroke-linecap="round"/><line x1="1646.0" y1="207.2" x2="1648.0" y2="208.5" stroke="#a8a598" stroke-width="1.0" stroke-linecap="round"/><line x1="1646.1" y1="207.9" x2="1644.8" y2="210.0" stroke="#a8a598" stroke-width="1.0" stroke-linecap="round"/><path d="M1613.4,241.2 L1614.3,237.7 L1615.4,232.8 L1616.8,227.0 L1618.3,221.1 L1619.8,215.8 L1621.4,211.7 L1623.1,208.7 L1624.9,206.3 L1626.8,204.5 L1628.6,203.2 L1630.4,202.5 L1631.9,202.2 L1633.4,202.7 L1634.8,204.1 L1636.0,205.9 L1637.1,208.0 L1638.0,210.0 L1638.7,211.7 L1639.0,213.0 L1638.9,214.4 L1638.7,215.6 L1638.3,216.8 L1638.0,217.7 L1637.8,218.4" fill="none" stroke="#a29f92" stroke-width="0.8" stroke-linecap="round" stroke-linejoin="round" opacity="1"/><line x1="1624.5" y1="206.8" x2="1626.9" y2="206.7" stroke="#a8a598" stroke-width="1.0" stroke-linecap="round"/><line x1="1625.6" y1="205.5" x2="1625.7" y2="203.1" stroke="#a8a598" stroke-width="1.0" stroke-linecap="round"/><line x1="1626.8" y1="204.5" x2="1629.1" y2="204.9" stroke="#a8a598" stroke-width="1.0" stroke-linecap="round"/><line x1="1627.9" y1="203.7" x2="1628.5" y2="201.3" stroke="#a8a598" stroke-width="1.0" stroke-linecap="round"/><line x1="1629.0" y1="203.0" x2="1631.2" y2="203.9" stroke="#a8a598" stroke-width="1.0" stroke-linecap="round"/><line x1="1630.0" y1="202.6" x2="1631.2" y2="200.5" stroke="#a8a598" stroke-width="1.0" stroke-linecap="round"/><line x1="1631.0" y1="202.3" x2="1632.9" y2="203.8" stroke="#a8a598" stroke-width="1.0" stroke-linecap="round"/><line x1="1631.9" y1="202.2" x2="1634.0" y2="200.9" stroke="#a8a598" stroke-width="1.0" stroke-linecap="round"/><line x1="1632.8" y1="202.4" x2="1633.3" y2="204.8" stroke="#a8a598" stroke-width="1.0" stroke-linecap="round"/><line x1="1633.7" y1="202.9" x2="1636.1" y2="202.9" stroke="#a8a598" stroke-width="1.0" stroke-linecap="round"/><line x1="1634.5" y1="203.7" x2="1634.2" y2="206.1" stroke="#a8a598" stroke-width="1.0" stroke-linecap="round"/><line x1="1635.3" y1="204.8" x2="1637.6" y2="205.2" stroke="#a8a598" stroke-width="1.0" stroke-linecap="round"/><line x1="1636.0" y1="205.9" x2="1635.3" y2="208.2" stroke="#a8a598" stroke-width="1.0" stroke-linecap="round"/><line x1="1636.7" y1="207.2" x2="1639.0" y2="207.9" stroke="#a8a598" stroke-width="1.0" stroke-linecap="round"/><line x1="1637.3" y1="208.4" x2="1636.4" y2="210.7" stroke="#a8a598" stroke-width="1.0" stroke-linecap="round"/><line x1="1637.9" y1="209.7" x2="1640.1" y2="210.6" stroke="#a8a598" stroke-width="1.0" stroke-linecap="round"/><line x1="1638.3" y1="210.8" x2="1637.3" y2="212.9" stroke="#a8a598" stroke-width="1.0" stroke-linecap="round"/><line x1="1638.7" y1="211.7" x2="1640.8" y2="212.9" stroke="#a8a598" stroke-width="1.0" stroke-linecap="round"/><line x1="1638.9" y1="212.5" x2="1637.4" y2="214.3" stroke="#a8a598" stroke-width="1.0" stroke-linecap="round"/><line x1="1639.0" y1="213.3" x2="1640.7" y2="215.0" stroke="#a8a598" stroke-width="1.0" stroke-linecap="round"/><line x1="1639.0" y1="214.1" x2="1637.0" y2="215.5" stroke="#a8a598" stroke-width="1.0" stroke-linecap="round"/><line x1="1638.9" y1="214.9" x2="1640.2" y2="216.9" stroke="#a8a598" stroke-width="1.0" stroke-linecap="round"/><line x1="1638.7" y1="215.6" x2="1636.6" y2="216.8" stroke="#a8a598" stroke-width="1.0" stroke-linecap="round"/><line x1="1638.5" y1="216.3" x2="1639.6" y2="218.5" stroke="#a8a598" stroke-width="1.0" stroke-linecap="round"/><line x1="1638.3" y1="217.0" x2="1636.1" y2="218.0" stroke="#a8a598" stroke-width="1.0" stroke-linecap="round"/><line x1="1638.1" y1="217.5" x2="1639.2" y2="219.7" stroke="#a8a598" stroke-width="1.0" stroke-linecap="round"/><line x1="1637.9" y1="218.0" x2="1635.9" y2="219.3" stroke="#a8a598" stroke-width="1.0" stroke-linecap="round"/><ellipse cx="1750.2" cy="198.7" rx="9.3" ry="12.9" fill="#e0e0e0"/><ellipse cx="1728.7" cy="219.1" rx="4.2" ry="8.1" fill="#e0e0e0"/><ellipse cx="1768.5" cy="224.5" rx="4.5" ry="6.1" fill="#e0e0e0"/><path d="M1749.2,290.2C1745.4,289.7 1727.7,266.8 1715.8,247.1C1726.1,268.1 1743.8,290.9 1749.2,290.2Z" fill="#bfbfbf"/><path d="M1748.1,290.2C1745.2,290.0 1728.6,273.5 1716.8,259.0C1727.2,274.9 1743.8,291.4 1748.1,290.2Z" fill="#bfbfbf"/><path d="M1751.1,290.2C1748.9,290.6 1731.8,281.5 1719.0,273.0C1730.9,283.2 1747.9,292.4 1751.1,290.2Z" fill="#bfbfbf"/><path d="M1747.6,290.2C1746.3,290.4 1734.0,286.4 1724.4,282.7C1733.3,288.3 1745.7,292.3 1747.6,290.2Z" fill="#bfbfbf"/><path d="M1750.4,290.2C1746.1,288.8 1730.5,258.6 1721.1,233.1C1728.8,259.5 1744.3,289.8 1750.4,290.2Z" fill="#bfbfbf"/><path d="M1749.4,290.2C1744.8,288.1 1732.7,253.3 1726.5,224.5C1730.8,254.0 1742.9,288.8 1749.4,290.2Z" fill="#bfbfbf"/><path d="M1747.6,290.2C1744.3,288.5 1735.4,261.6 1730.8,239.6C1733.5,262.3 1742.4,289.1 1747.6,290.2Z" fill="#bfbfbf"/><path d="M1750.3,290.2C1745.7,287.4 1737.7,249.2 1735.1,218.1C1735.7,249.6 1743.7,287.8 1750.3,290.2Z" fill="#bfbfbf"/><path d="M1747.4,290.2C1745.7,288.9 1740.3,271.2 1737.3,256.8C1738.4,271.8 1743.7,289.5 1747.4,290.2Z" fill="#bfbfbf"/><path d="M1749.8,290.2C1746.4,287.8 1740.9,256.4 1739.5,231.0C1738.9,256.7 1744.4,288.1 1749.8,290.2Z" fill="#bfbfbf"/><path d="M1747.6,290.2C1743.2,286.5 1740.5,244.9 1742.7,211.6C1738.5,245.0 1741.1,286.7 1747.6,290.2Z" fill="#bfbfbf"/><path d="M1747.8,290.2C1746.1,289.7 1736.0,277.7 1728.7,267.6C1734.4,279.0 1744.5,291.0 1747.8,290.2Z" fill="#bfbfbf"/><path d="M1749.8,290.2C1748.7,289.9 1739.8,283.6 1733.0,278.4C1738.7,285.3 1747.6,291.5 1749.8,290.2Z" fill="#bfbfbf"/><path d="M1752.2,290.2C1749.4,290.4 1731.3,277.3 1717.9,265.4C1730.1,278.9 1748.2,292.1 1752.2,290.2Z" fill="#bfbfbf"/><path d="M1748.0,290.2C1754.0,290.7 1773.4,263.9 1784.7,239.6C1771.8,262.7 1752.3,289.5 1748.0,290.2Z" fill="#bfbfbf"/><path d="M1748.6,290.2C1753.5,291.3 1772.1,271.4 1783.6,252.5C1770.6,270.0 1752.1,290.0 1748.6,290.2Z" fill="#bfbfbf"/><path d="M1751.0,290.2C1754.8,291.8 1770.9,278.6 1781.4,265.4C1769.7,277.1 1753.5,290.2 1751.0,290.2Z" fill="#bfbfbf"/><path d="M1752.9,290.2C1755.5,291.9 1767.8,284.5 1776.1,276.2C1766.8,282.8 1754.5,290.2 1752.9,290.2Z" fill="#bfbfbf"/><path d="M1750.7,290.2C1757.0,288.9 1769.3,255.2 1773.9,226.7C1767.4,254.6 1755.1,288.2 1750.7,290.2Z" fill="#bfbfbf"/><path d="M1749.6,290.2C1756.4,288.2 1767.0,250.0 1769.6,218.1C1765.0,249.4 1754.4,287.7 1749.6,290.2Z" fill="#bfbfbf"/><path d="M1753.1,290.2C1757.8,289.0 1764.2,264.4 1765.3,243.9C1762.3,263.9 1755.8,288.4 1753.1,290.2Z" fill="#bfbfbf"/><path d="M1747.5,290.2C1753.2,288.2 1760.4,255.7 1761.0,228.8C1758.4,255.3 1751.3,287.8 1747.5,290.2Z" fill="#bfbfbf"/><path d="M1752.4,290.2C1758.9,286.8 1762.4,245.1 1758.8,211.6C1760.3,245.0 1756.9,286.6 1752.4,290.2Z" fill="#bfbfbf"/><path d="M1749.0,290.2C1752.2,289.5 1756.3,274.1 1756.7,261.1C1754.4,273.6 1750.3,289.0 1749.0,290.2Z" fill="#bfbfbf"/><path d="M1748.1,290.2C1752.8,288.2 1756.2,261.4 1754.5,239.6C1754.2,261.2 1750.8,288.0 1748.1,290.2Z" fill="#bfbfbf"/><path d="M1747.9,290.2C1751.4,291.1 1762.9,277.9 1769.6,265.4C1761.4,276.6 1749.9,289.7 1747.9,290.2Z" fill="#bfbfbf"/><path d="M1749.1,290.2C1751.3,291.7 1761.1,285.4 1767.4,278.4C1760.0,283.7 1750.2,290.0 1749.1,290.2Z" fill="#bfbfbf"/><path d="M1752.1,290.2C1757.2,290.2 1771.1,266.8 1778.2,246.1C1769.3,265.8 1755.5,289.2 1752.1,290.2Z" fill="#bfbfbf"/><path d="M1748.3,290.2C1751.7,292.4 1769.8,282.7 1782.5,271.9C1768.9,281.0 1750.7,290.7 1748.3,290.2Z" fill="#bfbfbf"/><path d="M1750.7,290.2C1751.6,286.0 1750.8,242.1 1749.1,207.3C1748.8,242.1 1749.6,286.1 1750.7,290.2Z" fill="#bfbfbf"/><path d="M1751.1,290.2C1752.2,287.1 1753.4,253.4 1753.4,226.7C1751.4,253.3 1750.2,287.0 1751.1,290.2Z" fill="#bfbfbf"/><path d="M1749.5,290.2C1750.2,286.6 1747.8,249.5 1744.8,220.2C1745.8,249.7 1748.2,286.8 1749.5,290.2Z" fill="#bfbfbf"/><path d="M1750.5,290.2C1751.4,285.4 1750.1,234.6 1748.1,194.4C1748.1,234.7 1749.4,285.4 1750.5,290.2Z" fill="#bfbfbf"/><path d="M1747.6,290.2C1743.8,287.9 1736.0,255.3 1733.0,228.8C1734.1,255.8 1741.8,288.3 1747.6,290.2Z" fill="#bfbfbf"/><path d="M1747.6,290.2C1743.2,286.9 1738.9,247.5 1739.5,215.9C1736.9,247.8 1741.2,287.1 1747.6,290.2Z" fill="#bfbfbf"/><path d="M1748.4,290.2C1755.2,287.8 1764.1,248.5 1765.3,215.9C1762.2,248.0 1753.2,287.4 1748.4,290.2Z" fill="#bfbfbf"/><path d="M1751.3,290.2C1757.1,289.0 1767.9,258.8 1771.8,233.1C1766.0,258.1 1755.2,288.4 1751.3,290.2Z" fill="#bfbfbf"/><path d="M1749.8,290.2C1756.8,286.6 1761.1,241.5 1757.8,205.1C1759.1,241.3 1754.8,286.4 1749.8,290.2Z" fill="#bfbfbf"/><path d="M1749.1,290.2C1744.1,286.4 1740.1,241.3 1741.6,205.1C1738.1,241.5 1742.1,286.5 1749.1,290.2Z" fill="#bfbfbf"/><path d="M1750.7,290.2C1747.0,288.9 1733.6,262.1 1725.5,239.6C1731.8,263.0 1745.2,289.8 1750.7,290.2Z" fill="#bfbfbf"/><path d="M1749.9,290.2C1756.3,289.4 1770.7,256.8 1777.1,228.8C1768.9,256.0 1754.5,288.5 1749.9,290.2Z" fill="#bfbfbf"/><line x1="1746.1" y1="215.3" x2="1747.3" y2="213.0" stroke="#b8b8b8" stroke-width="1.4" stroke-linecap="round"/><line x1="1750.6" y1="213.6" x2="1750.8" y2="211.0" stroke="#b8b8b8" stroke-width="1.4" stroke-linecap="round"/><line x1="1758.9" y1="188.7" x2="1757.6" y2="186.5" stroke="#b8b8b8" stroke-width="1.4" stroke-linecap="round"/><line x1="1755.4" y1="199.0" x2="1754.8" y2="196.4" stroke="#b8b8b8" stroke-width="1.4" stroke-linecap="round"/><line x1="1750.5" y1="192.6" x2="1750.4" y2="190.0" stroke="#b8b8b8" stroke-width="1.4" stroke-linecap="round"/><line x1="1762.2" y1="203.4" x2="1763.7" y2="201.3" stroke="#b8b8b8" stroke-width="1.4" stroke-linecap="round"/><line x1="1737.6" y1="192.2" x2="1736.4" y2="189.8" stroke="#b8b8b8" stroke-width="1.4" stroke-linecap="round"/><line x1="1746.7" y1="186.5" x2="1747.2" y2="183.9" stroke="#b8b8b8" stroke-width="1.4" stroke-linecap="round"/><line x1="1736.9" y1="204.3" x2="1739.2" y2="203.1" stroke="#b8b8b8" stroke-width="1.4" stroke-linecap="round"/><line x1="1738.1" y1="202.2" x2="1735.8" y2="200.9" stroke="#b8b8b8" stroke-width="1.4" stroke-linecap="round"/><line x1="1747.1" y1="185.7" x2="1749.5" y2="184.8" stroke="#b8b8b8" stroke-width="1.4" stroke-linecap="round"/><line x1="1753.7" y1="191.0" x2="1753.0" y2="188.5" stroke="#b8b8b8" stroke-width="1.4" stroke-linecap="round"/><line x1="1749.1" y1="197.4" x2="1748.9" y2="194.8" stroke="#b8b8b8" stroke-width="1.4" stroke-linecap="round"/><line x1="1752.8" y1="205.2" x2="1750.5" y2="204.0" stroke="#b8b8b8" stroke-width="1.4" stroke-linecap="round"/><line x1="1750.8" y1="193.2" x2="1749.3" y2="191.1" stroke="#b8b8b8" stroke-width="1.4" stroke-linecap="round"/><line x1="1739.3" y1="210.6" x2="1737.1" y2="209.2" stroke="#b8b8b8" stroke-width="1.4" stroke-linecap="round"/><line x1="1739.6" y1="204.0" x2="1741.7" y2="202.5" stroke="#b8b8b8" stroke-width="1.4" stroke-linecap="round"/><line x1="1755.1" y1="184.3" x2="1753.8" y2="182.1" stroke="#b8b8b8" stroke-width="1.4" stroke-linecap="round"/><line x1="1742.4" y1="205.3" x2="1744.5" y2="203.8" stroke="#b8b8b8" stroke-width="1.4" stroke-linecap="round"/><line x1="1755.9" y1="197.9" x2="1754.0" y2="196.1" stroke="#b8b8b8" stroke-width="1.4" stroke-linecap="round"/><line x1="1751.0" y1="208.5" x2="1750.9" y2="205.9" stroke="#b8b8b8" stroke-width="1.4" stroke-linecap="round"/><line x1="1743.7" y1="194.8" x2="1741.2" y2="193.9" stroke="#b8b8b8" stroke-width="1.4" stroke-linecap="round"/><line x1="1742.2" y1="205.2" x2="1742.6" y2="202.6" stroke="#b8b8b8" stroke-width="1.4" stroke-linecap="round"/><line x1="1762.2" y1="195.3" x2="1762.3" y2="192.7" stroke="#b8b8b8" stroke-width="1.4" stroke-linecap="round"/><line x1="1741.3" y1="189.6" x2="1739.0" y2="188.4" stroke="#b8b8b8" stroke-width="1.4" stroke-linecap="round"/><line x1="1760.9" y1="190.2" x2="1762.9" y2="188.6" stroke="#b8b8b8" stroke-width="1.4" stroke-linecap="round"/><line x1="1752.9" y1="188.8" x2="1752.2" y2="186.3" stroke="#b8b8b8" stroke-width="1.4" stroke-linecap="round"/><line x1="1759.8" y1="208.6" x2="1757.5" y2="207.3" stroke="#b8b8b8" stroke-width="1.4" stroke-linecap="round"/><line x1="1756.5" y1="203.2" x2="1754.6" y2="201.4" stroke="#b8b8b8" stroke-width="1.4" stroke-linecap="round"/><line x1="1748.4" y1="203.3" x2="1745.9" y2="202.4" stroke="#b8b8b8" stroke-width="1.4" stroke-linecap="round"/><line x1="1753.0" y1="204.5" x2="1752.2" y2="202.0" stroke="#b8b8b8" stroke-width="1.4" stroke-linecap="round"/><line x1="1764.1" y1="202.5" x2="1764.8" y2="200.0" stroke="#b8b8b8" stroke-width="1.4" stroke-linecap="round"/><line x1="1754.7" y1="207.2" x2="1753.8" y2="204.7" stroke="#b8b8b8" stroke-width="1.4" stroke-linecap="round"/><line x1="1746.7" y1="204.6" x2="1748.7" y2="202.9" stroke="#b8b8b8" stroke-width="1.4" stroke-linecap="round"/><line x1="1760.5" y1="199.2" x2="1760.4" y2="196.6" stroke="#b8b8b8" stroke-width="1.4" stroke-linecap="round"/><line x1="1754.4" y1="202.8" x2="1753.4" y2="200.4" stroke="#b8b8b8" stroke-width="1.4" stroke-linecap="round"/><line x1="1748.9" y1="216.4" x2="1747.0" y2="214.6" stroke="#b8b8b8" stroke-width="1.4" stroke-linecap="round"/><line x1="1764.8" y1="202.3" x2="1764.9" y2="199.8" stroke="#b8b8b8" stroke-width="1.4" stroke-linecap="round"/><line x1="1756.9" y1="210.5" x2="1754.6" y2="209.5" stroke="#b8b8b8" stroke-width="1.4" stroke-linecap="round"/><line x1="1735.5" y1="196.6" x2="1737.6" y2="194.9" stroke="#b8b8b8" stroke-width="1.4" stroke-linecap="round"/><line x1="1747.7" y1="190.9" x2="1746.8" y2="188.5" stroke="#b8b8b8" stroke-width="1.4" stroke-linecap="round"/><line x1="1756.8" y1="213.7" x2="1757.0" y2="211.1" stroke="#b8b8b8" stroke-width="1.4" stroke-linecap="round"/><line x1="1751.7" y1="189.4" x2="1750.1" y2="187.4" stroke="#b8b8b8" stroke-width="1.4" stroke-linecap="round"/><line x1="1754.7" y1="182.9" x2="1756.6" y2="181.2" stroke="#b8b8b8" stroke-width="1.4" stroke-linecap="round"/><line x1="1754.1" y1="184.2" x2="1755.5" y2="182.1" stroke="#b8b8b8" stroke-width="1.4" stroke-linecap="round"/><line x1="1751.8" y1="212.8" x2="1750.9" y2="210.4" stroke="#b8b8b8" stroke-width="1.4" stroke-linecap="round"/><line x1="1752.7" y1="200.3" x2="1751.4" y2="198.1" stroke="#b8b8b8" stroke-width="1.4" stroke-linecap="round"/><line x1="1749.5" y1="215.0" x2="1751.8" y2="213.8" stroke="#b8b8b8" stroke-width="1.4" stroke-linecap="round"/><line x1="1736.4" y1="205.5" x2="1738.8" y2="204.6" stroke="#b8b8b8" stroke-width="1.4" stroke-linecap="round"/><line x1="1759.0" y1="196.7" x2="1757.3" y2="194.7" stroke="#b8b8b8" stroke-width="1.4" stroke-linecap="round"/><line x1="1751.2" y1="207.8" x2="1749.5" y2="205.8" stroke="#b8b8b8" stroke-width="1.4" stroke-linecap="round"/><line x1="1740.9" y1="187.6" x2="1742.8" y2="185.8" stroke="#b8b8b8" stroke-width="1.4" stroke-linecap="round"/><line x1="1738.1" y1="201.7" x2="1739.9" y2="199.7" stroke="#b8b8b8" stroke-width="1.4" stroke-linecap="round"/><line x1="1760.8" y1="207.3" x2="1763.0" y2="205.9" stroke="#b8b8b8" stroke-width="1.4" stroke-linecap="round"/><line x1="1752.4" y1="184.2" x2="1752.3" y2="181.6" stroke="#b8b8b8" stroke-width="1.4" stroke-linecap="round"/><line x1="1756.0" y1="214.4" x2="1755.0" y2="212.0" stroke="#b8b8b8" stroke-width="1.4" stroke-linecap="round"/><line x1="1753.9" y1="182.6" x2="1753.2" y2="180.1" stroke="#b8b8b8" stroke-width="1.4" stroke-linecap="round"/><line x1="1738.3" y1="210.1" x2="1739.6" y2="207.9" stroke="#b8b8b8" stroke-width="1.4" stroke-linecap="round"/><line x1="1752.8" y1="205.5" x2="1750.9" y2="203.8" stroke="#b8b8b8" stroke-width="1.4" stroke-linecap="round"/><line x1="1761.4" y1="190.5" x2="1759.4" y2="188.8" stroke="#b8b8b8" stroke-width="1.4" stroke-linecap="round"/><line x1="1755.8" y1="183.7" x2="1756.8" y2="181.3" stroke="#b8b8b8" stroke-width="1.4" stroke-linecap="round"/><line x1="1743.6" y1="210.7" x2="1741.6" y2="209.1" stroke="#b8b8b8" stroke-width="1.4" stroke-linecap="round"/><line x1="1765.0" y1="201.4" x2="1765.9" y2="198.9" stroke="#b8b8b8" stroke-width="1.4" stroke-linecap="round"/><line x1="1735.9" y1="196.8" x2="1735.4" y2="194.3" stroke="#b8b8b8" stroke-width="1.4" stroke-linecap="round"/><line x1="1759.0" y1="187.8" x2="1757.3" y2="185.8" stroke="#b8b8b8" stroke-width="1.4" stroke-linecap="round"/><line x1="1750.1" y1="209.7" x2="1748.6" y2="207.6" stroke="#b8b8b8" stroke-width="1.4" stroke-linecap="round"/><line x1="1743.6" y1="194.9" x2="1743.1" y2="192.4" stroke="#b8b8b8" stroke-width="1.4" stroke-linecap="round"/><line x1="1760.0" y1="212.6" x2="1759.1" y2="210.1" stroke="#b8b8b8" stroke-width="1.4" stroke-linecap="round"/><line x1="1739.1" y1="203.4" x2="1741.3" y2="202.0" stroke="#b8b8b8" stroke-width="1.4" stroke-linecap="round"/><line x1="1737.5" y1="208.2" x2="1737.5" y2="205.6" stroke="#b8b8b8" stroke-width="1.4" stroke-linecap="round"/><line x1="1739.5" y1="197.1" x2="1737.1" y2="196.1" stroke="#b8b8b8" stroke-width="1.4" stroke-linecap="round"/><line x1="1744.2" y1="202.6" x2="1741.8" y2="201.7" stroke="#b8b8b8" stroke-width="1.4" stroke-linecap="round"/><line x1="1752.1" y1="192.5" x2="1752.0" y2="189.9" stroke="#b8b8b8" stroke-width="1.4" stroke-linecap="round"/><line x1="1748.7" y1="186.3" x2="1747.6" y2="183.9" stroke="#b8b8b8" stroke-width="1.4" stroke-linecap="round"/><line x1="1739.1" y1="198.2" x2="1740.7" y2="196.2" stroke="#b8b8b8" stroke-width="1.4" stroke-linecap="round"/><line x1="1759.1" y1="208.2" x2="1757.6" y2="206.1" stroke="#b8b8b8" stroke-width="1.4" stroke-linecap="round"/><line x1="1748.0" y1="215.6" x2="1748.0" y2="213.0" stroke="#b8b8b8" stroke-width="1.4" stroke-linecap="round"/><line x1="1738.1" y1="193.7" x2="1740.3" y2="192.3" stroke="#b8b8b8" stroke-width="1.4" stroke-linecap="round"/><line x1="1739.2" y1="204.8" x2="1739.2" y2="202.2" stroke="#b8b8b8" stroke-width="1.4" stroke-linecap="round"/><line x1="1737.7" y1="198.6" x2="1737.4" y2="196.0" stroke="#b8b8b8" stroke-width="1.4" stroke-linecap="round"/><line x1="1740.0" y1="197.1" x2="1742.3" y2="195.9" stroke="#b8b8b8" stroke-width="1.4" stroke-linecap="round"/><line x1="1746.7" y1="183.5" x2="1748.9" y2="182.3" stroke="#b8b8b8" stroke-width="1.4" stroke-linecap="round"/><line x1="1749.5" y1="213.4" x2="1751.8" y2="212.2" stroke="#b8b8b8" stroke-width="1.4" stroke-linecap="round"/><line x1="1753.2" y1="194.0" x2="1751.1" y2="192.5" stroke="#b8b8b8" stroke-width="1.4" stroke-linecap="round"/><line x1="1746.4" y1="201.5" x2="1744.9" y2="199.4" stroke="#b8b8b8" stroke-width="1.4" stroke-linecap="round"/><line x1="1761.3" y1="206.4" x2="1762.9" y2="204.4" stroke="#b8b8b8" stroke-width="1.4" stroke-linecap="round"/><line x1="1754.9" y1="195.4" x2="1756.3" y2="193.2" stroke="#b8b8b8" stroke-width="1.4" stroke-linecap="round"/><line x1="1747.2" y1="193.9" x2="1749.3" y2="192.4" stroke="#b8b8b8" stroke-width="1.4" stroke-linecap="round"/><line x1="1757.1" y1="198.0" x2="1759.5" y2="196.9" stroke="#b8b8b8" stroke-width="1.4" stroke-linecap="round"/><line x1="1741.8" y1="207.4" x2="1744.2" y2="206.4" stroke="#b8b8b8" stroke-width="1.4" stroke-linecap="round"/><line x1="1750.2" y1="218.1" x2="1750.2" y2="181.5" stroke="#b0b0b0" stroke-width="0.9" stroke-linecap="round"/><line x1="1730.0" y1="215.0" x2="1729.5" y2="212.4" stroke="#b8b8b8" stroke-width="1.4" stroke-linecap="round"/><line x1="1724.9" y1="218.5" x2="1723.2" y2="216.6" stroke="#b8b8b8" stroke-width="1.4" stroke-linecap="round"/><line x1="1726.4" y1="228.3" x2="1724.0" y2="227.3" stroke="#b8b8b8" stroke-width="1.4" stroke-linecap="round"/><line x1="1724.6" y1="216.5" x2="1722.2" y2="215.5" stroke="#b8b8b8" stroke-width="1.4" stroke-linecap="round"/><line x1="1726.2" y1="227.3" x2="1726.3" y2="224.7" stroke="#b8b8b8" stroke-width="1.4" stroke-linecap="round"/><line x1="1734.6" y1="223.8" x2="1736.3" y2="221.8" stroke="#b8b8b8" stroke-width="1.4" stroke-linecap="round"/><line x1="1730.7" y1="218.5" x2="1729.3" y2="216.3" stroke="#b8b8b8" stroke-width="1.4" stroke-linecap="round"/><line x1="1734.2" y1="221.7" x2="1732.8" y2="219.5" stroke="#b8b8b8" stroke-width="1.4" stroke-linecap="round"/><line x1="1731.6" y1="224.7" x2="1733.8" y2="223.3" stroke="#b8b8b8" stroke-width="1.4" stroke-linecap="round"/><line x1="1730.1" y1="213.7" x2="1728.1" y2="212.0" stroke="#b8b8b8" stroke-width="1.4" stroke-linecap="round"/><line x1="1732.9" y1="214.8" x2="1734.2" y2="212.5" stroke="#b8b8b8" stroke-width="1.4" stroke-linecap="round"/><line x1="1730.0" y1="220.7" x2="1731.2" y2="218.3" stroke="#b8b8b8" stroke-width="1.4" stroke-linecap="round"/><line x1="1727.1" y1="220.6" x2="1729.4" y2="219.3" stroke="#b8b8b8" stroke-width="1.4" stroke-linecap="round"/><line x1="1725.2" y1="211.2" x2="1723.0" y2="209.8" stroke="#b8b8b8" stroke-width="1.4" stroke-linecap="round"/><line x1="1729.7" y1="216.7" x2="1731.7" y2="215.1" stroke="#b8b8b8" stroke-width="1.4" stroke-linecap="round"/><line x1="1725.1" y1="221.1" x2="1725.4" y2="218.5" stroke="#b8b8b8" stroke-width="1.4" stroke-linecap="round"/><line x1="1731.7" y1="216.4" x2="1729.6" y2="214.8" stroke="#b8b8b8" stroke-width="1.4" stroke-linecap="round"/><line x1="1725.6" y1="218.2" x2="1723.5" y2="216.7" stroke="#b8b8b8" stroke-width="1.4" stroke-linecap="round"/><line x1="1729.5" y1="221.4" x2="1727.7" y2="219.5" stroke="#b8b8b8" stroke-width="1.4" stroke-linecap="round"/><line x1="1727.3" y1="225.2" x2="1728.9" y2="223.1" stroke="#b8b8b8" stroke-width="1.4" stroke-linecap="round"/><line x1="1727.6" y1="227.3" x2="1725.7" y2="225.4" stroke="#b8b8b8" stroke-width="1.4" stroke-linecap="round"/><line x1="1728.2" y1="220.5" x2="1726.7" y2="218.3" stroke="#b8b8b8" stroke-width="1.4" stroke-linecap="round"/><line x1="1734.2" y1="220.1" x2="1734.5" y2="217.5" stroke="#b8b8b8" stroke-width="1.4" stroke-linecap="round"/><line x1="1730.3" y1="226.7" x2="1732.6" y2="225.5" stroke="#b8b8b8" stroke-width="1.4" stroke-linecap="round"/><line x1="1733.3" y1="225.8" x2="1732.8" y2="223.2" stroke="#b8b8b8" stroke-width="1.4" stroke-linecap="round"/><line x1="1722.8" y1="219.5" x2="1722.1" y2="217.0" stroke="#b8b8b8" stroke-width="1.4" stroke-linecap="round"/><line x1="1723.3" y1="218.7" x2="1725.7" y2="217.7" stroke="#b8b8b8" stroke-width="1.4" stroke-linecap="round"/><line x1="1725.4" y1="228.2" x2="1726.7" y2="225.9" stroke="#b8b8b8" stroke-width="1.4" stroke-linecap="round"/><line x1="1726.0" y1="213.5" x2="1725.0" y2="211.0" stroke="#b8b8b8" stroke-width="1.4" stroke-linecap="round"/><line x1="1730.9" y1="220.6" x2="1728.6" y2="219.3" stroke="#b8b8b8" stroke-width="1.4" stroke-linecap="round"/><line x1="1728.7" y1="231.0" x2="1728.7" y2="207.3" stroke="#b0b0b0" stroke-width="0.9" stroke-linecap="round"/><line x1="1768.3" y1="220.2" x2="1766.4" y2="218.4" stroke="#b8b8b8" stroke-width="1.4" stroke-linecap="round"/><line x1="1774.0" y1="228.5" x2="1776.0" y2="226.9" stroke="#b8b8b8" stroke-width="1.4" stroke-linecap="round"/><line x1="1766.8" y1="220.5" x2="1765.2" y2="218.4" stroke="#b8b8b8" stroke-width="1.4" stroke-linecap="round"/><line x1="1767.3" y1="230.2" x2="1765.3" y2="228.4" stroke="#b8b8b8" stroke-width="1.4" stroke-linecap="round"/><line x1="1765.2" y1="226.0" x2="1767.5" y2="224.9" stroke="#b8b8b8" stroke-width="1.4" stroke-linecap="round"/><line x1="1773.5" y1="223.4" x2="1772.0" y2="221.3" stroke="#b8b8b8" stroke-width="1.4" stroke-linecap="round"/><line x1="1772.3" y1="223.5" x2="1771.4" y2="221.1" stroke="#b8b8b8" stroke-width="1.4" stroke-linecap="round"/><line x1="1772.8" y1="224.6" x2="1772.6" y2="222.0" stroke="#b8b8b8" stroke-width="1.4" stroke-linecap="round"/><line x1="1765.4" y1="224.5" x2="1765.5" y2="221.9" stroke="#b8b8b8" stroke-width="1.4" stroke-linecap="round"/><line x1="1772.1" y1="224.7" x2="1769.9" y2="223.3" stroke="#b8b8b8" stroke-width="1.4" stroke-linecap="round"/><line x1="1767.4" y1="225.6" x2="1765.0" y2="224.5" stroke="#b8b8b8" stroke-width="1.4" stroke-linecap="round"/><line x1="1767.4" y1="228.4" x2="1768.0" y2="225.9" stroke="#b8b8b8" stroke-width="1.4" stroke-linecap="round"/><line x1="1762.7" y1="223.2" x2="1763.6" y2="220.8" stroke="#b8b8b8" stroke-width="1.4" stroke-linecap="round"/><line x1="1767.4" y1="216.6" x2="1766.7" y2="214.1" stroke="#b8b8b8" stroke-width="1.4" stroke-linecap="round"/><line x1="1765.4" y1="232.1" x2="1763.4" y2="230.4" stroke="#b8b8b8" stroke-width="1.4" stroke-linecap="round"/><line x1="1767.8" y1="217.7" x2="1765.4" y2="216.6" stroke="#b8b8b8" stroke-width="1.4" stroke-linecap="round"/><line x1="1771.3" y1="217.5" x2="1772.1" y2="215.1" stroke="#b8b8b8" stroke-width="1.4" stroke-linecap="round"/><line x1="1768.0" y1="216.8" x2="1766.0" y2="215.1" stroke="#b8b8b8" stroke-width="1.4" stroke-linecap="round"/><line x1="1763.7" y1="223.6" x2="1765.6" y2="221.8" stroke="#b8b8b8" stroke-width="1.4" stroke-linecap="round"/><line x1="1770.3" y1="217.2" x2="1770.8" y2="214.6" stroke="#b8b8b8" stroke-width="1.4" stroke-linecap="round"/><line x1="1772.9" y1="220.1" x2="1774.1" y2="217.8" stroke="#b8b8b8" stroke-width="1.4" stroke-linecap="round"/><line x1="1768.7" y1="226.0" x2="1766.6" y2="224.4" stroke="#b8b8b8" stroke-width="1.4" stroke-linecap="round"/><line x1="1767.1" y1="226.7" x2="1769.0" y2="224.9" stroke="#b8b8b8" stroke-width="1.4" stroke-linecap="round"/><line x1="1763.4" y1="222.1" x2="1764.2" y2="219.6" stroke="#b8b8b8" stroke-width="1.4" stroke-linecap="round"/><line x1="1766.6" y1="219.1" x2="1764.2" y2="218.2" stroke="#b8b8b8" stroke-width="1.4" stroke-linecap="round"/><line x1="1770.0" y1="217.4" x2="1770.0" y2="214.8" stroke="#b8b8b8" stroke-width="1.4" stroke-linecap="round"/><line x1="1768.5" y1="233.1" x2="1768.5" y2="215.9" stroke="#b0b0b0" stroke-width="0.9" stroke-linecap="round"/><line x1="1884.3" y1="292.0" x2="1884.3" y2="196.0" stroke="#9d9d9d" stroke-width="2.0" stroke-linecap="round"/><path d="M1884.3,178.5 C1891.3,184 1891.3,193 1884.3,199 C1877.3,193 1877.3,184 1884.3,178.5Z" fill="#999" stroke="#777" stroke-width="0.6"/><circle cx="1886.6" cy="191.0" r="0.9" fill="#bdbdbd"/><circle cx="1887.5" cy="193.7" r="0.9" fill="#bdbdbd"/><circle cx="1887.7" cy="192.8" r="0.9" fill="#bdbdbd"/><circle cx="1884.2" cy="181.5" r="0.9" fill="#bdbdbd"/><circle cx="1884.9" cy="196.1" r="0.9" fill="#bdbdbd"/><circle cx="1882.3" cy="195.4" r="0.9" fill="#bdbdbd"/><circle cx="1881.8" cy="188.5" r="0.9" fill="#bdbdbd"/><circle cx="1885.0" cy="189.7" r="0.9" fill="#bdbdbd"/><circle cx="1883.2" cy="181.2" r="0.9" fill="#bdbdbd"/><circle cx="1887.9" cy="185.5" r="0.9" fill="#bdbdbd"/><circle cx="1881.7" cy="193.3" r="0.9" fill="#bdbdbd"/><circle cx="1881.7" cy="193.8" r="0.9" fill="#bdbdbd"/><circle cx="1880.8" cy="190.9" r="0.9" fill="#bdbdbd"/><circle cx="1885.7" cy="181.0" r="0.9" fill="#bdbdbd"/><circle cx="1882.1" cy="184.4" r="0.9" fill="#bdbdbd"/><circle cx="1885.6" cy="196.7" r="0.9" fill="#bdbdbd"/><circle cx="1888.4" cy="185.6" r="0.9" fill="#bdbdbd"/><circle cx="1886.0" cy="189.6" r="0.9" fill="#bdbdbd"/><circle cx="1887.7" cy="184.3" r="0.9" fill="#bdbdbd"/><circle cx="1888.3" cy="192.1" r="0.9" fill="#bdbdbd"/><circle cx="1883.2" cy="195.3" r="0.9" fill="#bdbdbd"/><circle cx="1881.1" cy="186.8" r="0.9" fill="#bdbdbd"/><path d="M1884.5,209.5 L1884.2,208.8 L1884.0,207.6 L1883.7,206.3 L1883.4,204.8 L1882.9,203.3 L1882.3,201.8 L1881.6,200.6 L1880.7,199.5 L1879.6,198.8 L1878.5,198.4 L1877.3,198.1 L1876.1,198.1 L1874.8,198.3 L1873.5,198.9 L1872.4,199.7 L1871.4,200.8 L1870.6,202.3 L1870.0,204.1 L1869.5,206.2 L1869.2,208.4 L1869.1,210.5 L1868.9,212.5 L1868.5,214.0 L1868.1,215.1 L1868.5,215.3 L1868.9,214.2 L1869.3,212.6 L1870.3,210.9 L1871.4,209.1 L1872.4,207.2 L1873.4,205.5 L1874.2,204.2 L1874.8,203.4 L1875.3,203.0 L1875.7,202.7 L1876.1,202.5 L1876.5,202.4 L1877.0,202.4 L1877.4,202.4 L1877.9,202.5 L1878.3,202.7 L1878.8,203.0 L1879.5,203.7 L1880.4,204.7 L1881.2,205.8 L1882.1,207.0 L1883.0,208.1 L1883.7,209.0 L1884.1,209.7Z" fill="#cbcbcb" stroke="#939393" stroke-width="0.55"/><path d="M1884.3,209.6 L1883.8,208.6 L1883.1,207.0 L1882.3,205.3 L1881.4,203.5 L1880.4,202.1 L1879.5,201.1 L1878.5,200.6 L1877.4,200.3 L1876.3,200.2 L1875.2,200.5 L1874.1,201.1 L1873.1,202.1 L1872.2,203.7 L1871.2,206.1 L1870.3,208.7 L1869.5,211.4 L1868.8,213.6 L1868.3,215.2" fill="none" stroke="#a5a5a5" stroke-width="0.4" stroke-linecap="round" stroke-linejoin="round" opacity="1"/><path d="M1884.5,209.7 L1884.9,209.0 L1885.6,208.1 L1886.5,207.0 L1887.4,205.8 L1888.2,204.7 L1889.1,203.7 L1889.8,203.0 L1890.3,202.7 L1890.7,202.5 L1891.2,202.4 L1891.6,202.4 L1892.1,202.4 L1892.5,202.5 L1892.9,202.7 L1893.3,203.0 L1893.8,203.4 L1894.4,204.2 L1895.2,205.5 L1896.2,207.2 L1897.2,209.1 L1898.3,210.9 L1899.3,212.6 L1899.7,214.2 L1900.1,215.3 L1900.5,215.1 L1900.1,214.0 L1899.7,212.5 L1899.5,210.5 L1899.4,208.4 L1899.1,206.2 L1898.6,204.1 L1898.0,202.3 L1897.2,200.8 L1896.2,199.7 L1895.1,198.9 L1893.8,198.3 L1892.5,198.1 L1891.3,198.1 L1890.1,198.4 L1889.0,198.8 L1887.9,199.5 L1887.0,200.6 L1886.3,201.8 L1885.7,203.3 L1885.2,204.8 L1884.9,206.3 L1884.6,207.6 L1884.4,208.8 L1884.1,209.5Z" fill="#cbcbcb" stroke="#939393" stroke-width="0.55"/><path d="M1884.3,209.6 L1884.8,208.6 L1885.5,207.0 L1886.3,205.3 L1887.2,203.5 L1888.2,202.1 L1889.1,201.1 L1890.1,200.6 L1891.2,200.3 L1892.3,200.2 L1893.4,200.5 L1894.5,201.1 L1895.5,202.1 L1896.4,203.7 L1897.4,206.1 L1898.3,208.7 L1899.1,211.4 L1899.8,213.6 L1900.3,215.2" fill="none" stroke="#a5a5a5" stroke-width="0.4" stroke-linecap="round" stroke-linejoin="round" opacity="1"/><path d="M1884.5,222.7 L1884.1,222.0 L1883.7,220.8 L1883.3,219.4 L1882.7,217.9 L1882.1,216.4 L1881.3,214.9 L1880.4,213.7 L1879.3,212.7 L1878.1,212.0 L1876.9,211.5 L1875.6,211.3 L1874.2,211.2 L1872.7,211.4 L1871.3,211.9 L1869.9,212.7 L1868.7,213.9 L1867.7,215.5 L1866.9,217.6 L1866.2,219.8 L1865.8,222.2 L1865.4,224.6 L1865.1,226.8 L1864.6,228.5 L1864.1,229.7 L1864.5,229.9 L1864.9,228.7 L1865.5,226.9 L1866.6,225.0 L1867.8,223.0 L1869.0,220.9 L1870.2,219.1 L1871.1,217.6 L1871.9,216.7 L1872.5,216.2 L1873.1,215.9 L1873.8,215.7 L1874.4,215.5 L1875.2,215.5 L1875.9,215.6 L1876.7,215.7 L1877.3,215.9 L1878.0,216.3 L1878.8,217.0 L1879.8,217.9 L1880.9,219.1 L1881.9,220.2 L1882.8,221.3 L1883.7,222.2 L1884.1,222.9Z" fill="#cbcbcb" stroke="#939393" stroke-width="0.55"/><path d="M1884.3,222.8 L1883.7,221.8 L1882.8,220.2 L1881.8,218.5 L1880.7,216.7 L1879.5,215.3 L1878.3,214.3 L1877.1,213.8 L1875.7,213.4 L1874.3,213.4 L1872.9,213.6 L1871.5,214.2 L1870.3,215.3 L1869.1,217.1 L1867.9,219.7 L1866.8,222.6 L1865.8,225.5 L1864.9,228.1 L1864.3,229.8" fill="none" stroke="#a5a5a5" stroke-width="0.4" stroke-linecap="round" stroke-linejoin="round" opacity="1"/><path d="M1884.5,222.9 L1884.9,222.2 L1885.8,221.3 L1886.7,220.2 L1887.7,219.1 L1888.8,217.9 L1889.8,217.0 L1890.6,216.3 L1891.3,215.9 L1891.9,215.7 L1892.7,215.6 L1893.4,215.5 L1894.2,215.5 L1894.8,215.7 L1895.5,215.9 L1896.1,216.2 L1896.7,216.7 L1897.5,217.6 L1898.4,219.1 L1899.6,220.9 L1900.8,223.0 L1902.0,225.0 L1903.1,226.9 L1903.7,228.7 L1904.1,229.9 L1904.5,229.7 L1904.0,228.5 L1903.5,226.8 L1903.2,224.6 L1902.8,222.2 L1902.4,219.8 L1901.7,217.6 L1900.9,215.5 L1899.9,213.9 L1898.7,212.7 L1897.3,211.9 L1895.9,211.4 L1894.4,211.2 L1893.0,211.3 L1891.7,211.5 L1890.5,212.0 L1889.3,212.7 L1888.2,213.7 L1887.3,214.9 L1886.5,216.4 L1885.9,217.9 L1885.3,219.4 L1884.9,220.8 L1884.5,222.0 L1884.1,222.7Z" fill="#cbcbcb" stroke="#939393" stroke-width="0.55"/><path d="M1884.3,222.8 L1884.9,221.8 L1885.8,220.2 L1886.8,218.5 L1887.9,216.7 L1889.1,215.3 L1890.3,214.3 L1891.5,213.8 L1892.9,213.4 L1894.3,213.4 L1895.7,213.6 L1897.1,214.2 L1898.3,215.3 L1899.5,217.1 L1900.7,219.7 L1901.8,222.6 L1902.8,225.5 L1903.7,228.1 L1904.3,229.8" fill="none" stroke="#a5a5a5" stroke-width="0.4" stroke-linecap="round" stroke-linejoin="round" opacity="1"/><path d="M1884.5,238.2 L1884.0,237.5 L1883.5,236.3 L1883.0,234.9 L1882.3,233.4 L1881.5,231.8 L1880.6,230.4 L1879.5,229.1 L1878.3,228.1 L1877.0,227.5 L1875.7,227.0 L1874.2,226.7 L1872.7,226.6 L1871.1,226.8 L1869.5,227.3 L1868.0,228.1 L1866.7,229.4 L1865.5,231.1 L1864.5,233.2 L1863.8,235.7 L1863.1,238.2 L1862.7,240.8 L1862.3,243.1 L1861.6,245.0 L1861.1,246.3 L1861.5,246.4 L1862.0,245.1 L1862.7,243.3 L1863.9,241.2 L1865.2,239.0 L1866.5,236.8 L1867.8,234.8 L1868.9,233.2 L1869.7,232.2 L1870.5,231.7 L1871.2,231.3 L1872.0,231.1 L1872.9,231.0 L1873.8,231.0 L1874.7,231.0 L1875.7,231.2 L1876.5,231.5 L1877.3,231.8 L1878.3,232.5 L1879.4,233.5 L1880.6,234.6 L1881.7,235.7 L1882.7,236.8 L1883.6,237.7 L1884.1,238.4Z" fill="#cbcbcb" stroke="#939393" stroke-width="0.55"/><path d="M1884.3,238.3 L1883.6,237.3 L1882.6,235.7 L1881.4,234.0 L1880.1,232.2 L1878.8,230.8 L1877.4,229.8 L1876.0,229.2 L1874.4,228.9 L1872.8,228.8 L1871.2,229.0 L1869.6,229.7 L1868.2,230.8 L1866.8,232.7 L1865.5,235.5 L1864.2,238.6 L1863.0,241.8 L1862.0,244.5 L1861.3,246.4" fill="none" stroke="#a5a5a5" stroke-width="0.4" stroke-linecap="round" stroke-linejoin="round" opacity="1"/><path d="M1884.5,238.4 L1885.0,237.7 L1885.9,236.8 L1886.9,235.7 L1888.0,234.6 L1889.2,233.5 L1890.3,232.5 L1891.3,231.8 L1892.1,231.5 L1892.9,231.2 L1893.9,231.0 L1894.8,231.0 L1895.7,231.0 L1896.6,231.1 L1897.4,231.3 L1898.1,231.7 L1898.9,232.2 L1899.7,233.2 L1900.8,234.8 L1902.1,236.8 L1903.4,239.0 L1904.7,241.2 L1905.9,243.3 L1906.6,245.1 L1907.1,246.4 L1907.5,246.3 L1907.0,245.0 L1906.3,243.1 L1905.9,240.8 L1905.5,238.2 L1904.8,235.7 L1904.1,233.2 L1903.1,231.1 L1901.9,229.4 L1900.6,228.1 L1899.1,227.3 L1897.5,226.8 L1895.9,226.6 L1894.4,226.7 L1892.9,227.0 L1891.6,227.5 L1890.3,228.1 L1889.1,229.1 L1888.0,230.4 L1887.1,231.8 L1886.3,233.4 L1885.6,234.9 L1885.1,236.3 L1884.6,237.5 L1884.1,238.2Z" fill="#cbcbcb" stroke="#939393" stroke-width="0.55"/><path d="M1884.3,238.3 L1885.0,237.3 L1886.0,235.7 L1887.2,234.0 L1888.5,232.2 L1889.8,230.8 L1891.2,229.8 L1892.6,229.2 L1894.2,228.9 L1895.8,228.8 L1897.4,229.0 L1899.0,229.7 L1900.4,230.8 L1901.8,232.7 L1903.1,235.5 L1904.4,238.6 L1905.6,241.8 L1906.6,244.5 L1907.3,246.4" fill="none" stroke="#a5a5a5" stroke-width="0.4" stroke-linecap="round" stroke-linejoin="round" opacity="1"/><path d="M1884.5,253.7 L1883.9,253.0 L1883.5,251.8 L1882.9,250.4 L1882.1,248.9 L1881.3,247.3 L1880.3,245.9 L1879.2,244.6 L1877.9,243.6 L1876.6,243.0 L1875.3,242.5 L1873.8,242.2 L1872.2,242.1 L1870.6,242.3 L1869.0,242.7 L1867.4,243.6 L1866.0,244.8 L1864.8,246.6 L1863.8,248.8 L1862.9,251.3 L1862.3,253.9 L1861.8,256.5 L1861.3,258.9 L1860.7,260.8 L1860.1,262.1 L1860.5,262.3 L1861.0,260.9 L1861.7,259.1 L1863.0,257.0 L1864.3,254.7 L1865.7,252.5 L1867.0,250.4 L1868.1,248.8 L1869.0,247.8 L1869.8,247.2 L1870.6,246.8 L1871.5,246.6 L1872.4,246.4 L1873.4,246.4 L1874.4,246.5 L1875.4,246.7 L1876.3,247.0 L1877.1,247.3 L1878.1,248.0 L1879.3,249.0 L1880.5,250.1 L1881.6,251.3 L1882.7,252.3 L1883.6,253.2 L1884.1,253.9Z" fill="#cbcbcb" stroke="#939393" stroke-width="0.55"/><path d="M1884.3,253.8 L1883.5,252.8 L1882.5,251.2 L1881.3,249.5 L1879.9,247.7 L1878.5,246.3 L1877.1,245.3 L1875.6,244.7 L1874.0,244.4 L1872.3,244.3 L1870.6,244.5 L1869.0,245.2 L1867.5,246.3 L1866.1,248.3 L1864.7,251.1 L1863.3,254.3 L1862.1,257.5 L1861.1,260.3 L1860.3,262.2" fill="none" stroke="#a5a5a5" stroke-width="0.4" stroke-linecap="round" stroke-linejoin="round" opacity="1"/><path d="M1884.5,253.9 L1885.0,253.2 L1885.9,252.3 L1887.0,251.3 L1888.1,250.1 L1889.3,249.0 L1890.5,248.0 L1891.5,247.3 L1892.3,247.0 L1893.2,246.7 L1894.2,246.5 L1895.2,246.4 L1896.2,246.4 L1897.1,246.6 L1898.0,246.8 L1898.8,247.2 L1899.6,247.8 L1900.5,248.8 L1901.6,250.4 L1902.9,252.5 L1904.3,254.7 L1905.6,257.0 L1906.9,259.1 L1907.6,260.9 L1908.1,262.3 L1908.5,262.1 L1907.9,260.8 L1907.3,258.9 L1906.8,256.5 L1906.3,253.9 L1905.7,251.3 L1904.8,248.8 L1903.8,246.6 L1902.6,244.8 L1901.2,243.6 L1899.6,242.7 L1898.0,242.3 L1896.4,242.1 L1894.8,242.2 L1893.3,242.5 L1892.0,243.0 L1890.7,243.6 L1889.4,244.6 L1888.3,245.9 L1887.3,247.3 L1886.5,248.9 L1885.7,250.4 L1885.1,251.8 L1884.7,253.0 L1884.1,253.7Z" fill="#cbcbcb" stroke="#939393" stroke-width="0.55"/><path d="M1884.3,253.8 L1885.1,252.8 L1886.1,251.2 L1887.3,249.5 L1888.7,247.7 L1890.1,246.3 L1891.5,245.3 L1893.0,244.7 L1894.6,244.4 L1896.3,244.3 L1898.0,244.5 L1899.6,245.2 L1901.1,246.3 L1902.5,248.3 L1903.9,251.1 L1905.3,254.3 L1906.5,257.5 L1907.5,260.3 L1908.3,262.2" fill="none" stroke="#a5a5a5" stroke-width="0.4" stroke-linecap="round" stroke-linejoin="round" opacity="1"/><path d="M1884.5,269.1 L1883.9,268.4 L1883.5,267.2 L1882.9,265.8 L1882.1,264.3 L1881.3,262.7 L1880.3,261.3 L1879.2,260.0 L1877.9,259.0 L1876.6,258.4 L1875.3,257.9 L1873.8,257.6 L1872.2,257.5 L1870.6,257.7 L1869.0,258.1 L1867.4,259.0 L1866.0,260.2 L1864.8,262.0 L1863.8,264.2 L1862.9,266.7 L1862.3,269.3 L1861.8,271.9 L1861.3,274.3 L1860.7,276.2 L1860.1,277.5 L1860.5,277.7 L1861.0,276.3 L1861.7,274.5 L1863.0,272.4 L1864.3,270.1 L1865.7,267.9 L1867.0,265.8 L1868.1,264.2 L1869.0,263.2 L1869.8,262.6 L1870.6,262.2 L1871.5,262.0 L1872.4,261.8 L1873.4,261.8 L1874.4,261.9 L1875.4,262.1 L1876.3,262.4 L1877.1,262.7 L1878.1,263.4 L1879.3,264.4 L1880.5,265.5 L1881.6,266.7 L1882.7,267.7 L1883.6,268.6 L1884.1,269.3Z" fill="#cbcbcb" stroke="#939393" stroke-width="0.55"/><path d="M1884.3,269.2 L1883.5,268.2 L1882.5,266.6 L1881.3,264.9 L1879.9,263.1 L1878.5,261.7 L1877.1,260.7 L1875.6,260.1 L1874.0,259.8 L1872.3,259.7 L1870.6,259.9 L1869.0,260.6 L1867.5,261.7 L1866.1,263.7 L1864.7,266.5 L1863.3,269.7 L1862.1,272.9 L1861.1,275.7 L1860.3,277.6" fill="none" stroke="#a5a5a5" stroke-width="0.4" stroke-linecap="round" stroke-linejoin="round" opacity="1"/><path d="M1884.5,269.3 L1885.0,268.6 L1885.9,267.7 L1887.0,266.7 L1888.1,265.5 L1889.3,264.4 L1890.5,263.4 L1891.5,262.7 L1892.3,262.4 L1893.2,262.1 L1894.2,261.9 L1895.2,261.8 L1896.2,261.8 L1897.1,262.0 L1898.0,262.2 L1898.8,262.6 L1899.6,263.2 L1900.5,264.2 L1901.6,265.8 L1902.9,267.9 L1904.3,270.1 L1905.6,272.4 L1906.9,274.5 L1907.6,276.3 L1908.1,277.7 L1908.5,277.5 L1907.9,276.2 L1907.3,274.3 L1906.8,271.9 L1906.3,269.3 L1905.7,266.7 L1904.8,264.2 L1903.8,262.0 L1902.6,260.2 L1901.2,259.0 L1899.6,258.1 L1898.0,257.7 L1896.4,257.5 L1894.8,257.6 L1893.3,257.9 L1892.0,258.4 L1890.7,259.0 L1889.4,260.0 L1888.3,261.3 L1887.3,262.7 L1886.5,264.3 L1885.7,265.8 L1885.1,267.2 L1884.7,268.4 L1884.1,269.1Z" fill="#cbcbcb" stroke="#939393" stroke-width="0.55"/><path d="M1884.3,269.2 L1885.1,268.2 L1886.1,266.6 L1887.3,264.9 L1888.7,263.1 L1890.1,261.7 L1891.5,260.7 L1893.0,260.1 L1894.6,259.8 L1896.3,259.7 L1898.0,259.9 L1899.6,260.6 L1901.1,261.7 L1902.5,263.7 L1903.9,266.5 L1905.3,269.7 L1906.5,272.9 L1907.5,275.7 L1908.3,277.6" fill="none" stroke="#a5a5a5" stroke-width="0.4" stroke-linecap="round" stroke-linejoin="round" opacity="1"/><line x1="1881.3" y1="292.0" x2="1887.3" y2="292.0" stroke="#999" stroke-width="1.2" stroke-linecap="round"/><path d="M2004.5,285.6 L2003.5,281.9 L2002.0,276.8 L2000.3,270.7 L1998.5,264.3 L1996.8,258.0 L1995.2,252.5 L1993.7,247.6 L1992.3,242.9 L1990.9,238.4 L1989.5,234.0 L1988.2,229.8 L1986.9,225.6 L1985.5,221.3 L1984.1,216.9 L1982.8,212.5 L1981.5,208.6 L1980.4,205.3 L1979.7,202.8" fill="none" stroke="#4f4a45" stroke-width="0.9" stroke-linecap="round" stroke-linejoin="round" opacity="1"/><path d="M2005.9,285.6 L2005.7,280.5 L2005.3,273.3 L2004.9,264.8 L2004.4,255.9 L2004.1,247.3 L2003.9,240.1 L2003.8,233.9 L2003.9,228.1 L2004.0,222.7 L2004.2,217.7 L2004.4,213.1 L2004.5,209.0 L2004.5,205.4 L2004.5,202.1 L2004.5,199.3 L2004.5,197.0 L2004.5,195.0 L2004.5,193.5" fill="none" stroke="#4f4a45" stroke-width="0.9" stroke-linecap="round" stroke-linejoin="round" opacity="1"/><path d="M2008.6,285.6 L2009.1,281.0 L2009.8,274.6 L2010.5,267.0 L2011.3,258.9 L2012.1,251.1 L2012.8,244.2 L2013.3,238.0 L2013.8,231.8 L2014.3,225.8 L2014.7,220.3 L2015.1,215.3 L2015.5,211.1 L2015.8,207.7 L2016.1,205.0 L2016.3,202.8 L2016.6,201.1 L2016.8,199.8 L2016.9,198.7" fill="none" stroke="#4f4a45" stroke-width="0.9" stroke-linecap="round" stroke-linejoin="round" opacity="1"/><path d="M2009.7,285.6 L2011.1,281.2 L2013.2,274.9 L2015.6,267.6 L2018.1,259.9 L2020.3,252.6 L2022.1,246.3 L2023.3,240.9 L2024.2,236.0 L2024.8,231.3 L2025.3,227.0 L2025.8,223.1 L2026.2,219.4 L2026.7,216.0 L2027.0,212.8 L2027.3,209.9 L2027.5,207.5 L2027.7,205.4 L2027.9,203.9" fill="none" stroke="#4f4a45" stroke-width="0.9" stroke-linecap="round" stroke-linejoin="round" opacity="1"/><path d="M2004.5,285.6 L2005.0,283.2 L2005.6,279.9 L2006.3,276.0 L2007.2,272.0 L2008.3,268.1 L2009.7,264.9 L2011.5,262.2 L2013.7,259.7 L2016.2,257.4 L2018.6,255.4 L2020.6,253.7 L2022.1,252.5" fill="none" stroke="#4f4a45" stroke-width="0.9" stroke-linecap="round" stroke-linejoin="round" opacity="1"/><path d="M1986.9,224.6C1984.4,226.6 1974.5,237.8 1969.3,244.6C1978.7,241.5 1988.5,230.2 1986.9,224.6Z" fill="#fbf8f4" stroke="#4f4a45" stroke-width="0.75"/><path d="M1985.9,222.5C1983.5,221.7 1977.1,225.8 1974.5,229.7C1979.2,229.0 1985.5,225.0 1985.9,222.5Z" fill="#fbf8f4" stroke="#4f4a45" stroke-width="0.75"/><path d="M1983.2,213.2C1983.3,211.4 1979.6,207.9 1976.6,207.0C1977.7,210.0 1981.4,213.4 1983.2,213.2Z" fill="#fbf8f4" stroke="#4f4a45" stroke-width="0.75"/><path d="M2002.4,211.1C1999.9,213.6 1998.4,226.3 1999.7,233.9C2004.4,227.0 2005.9,214.3 2002.4,211.1Z" fill="#fbf8f4" stroke="#4f4a45" stroke-width="0.75"/><path d="M2004.5,212.1C2001.0,215.7 2003.7,228.5 2009.2,234.9C2009.6,227.2 2007.0,214.5 2004.5,212.1Z" fill="#fbf8f4" stroke="#4f4a45" stroke-width="0.75"/><path d="M2001.4,229.7C1999.2,232.5 1997.8,246.4 1998.9,254.6C2003.3,247.0 2004.7,233.1 2001.4,229.7Z" fill="#fbf8f4" stroke="#4f4a45" stroke-width="0.75"/><path d="M2004.5,229.7C2001.4,233.1 2003.3,246.4 2008.0,253.5C2008.8,245.6 2006.8,232.3 2004.5,229.7Z" fill="#fbf8f4" stroke="#4f4a45" stroke-width="0.75"/><path d="M2003.0,246.3C2000.1,248.8 1999.2,261.6 2001.4,269.0C2004.7,262.0 2005.6,249.2 2003.0,246.3Z" fill="#fbf8f4" stroke="#4f4a45" stroke-width="0.75"/><path d="M2015.5,211.1C2013.3,213.4 2012.1,225.3 2013.4,232.2C2017.6,225.8 2018.8,214.0 2015.5,211.1Z" fill="#fbf8f4" stroke="#4f4a45" stroke-width="0.75"/><path d="M2016.3,213.2C2013.2,215.9 2014.4,226.9 2018.3,232.8C2019.3,226.4 2018.2,215.4 2016.3,213.2Z" fill="#fbf8f4" stroke="#4f4a45" stroke-width="0.75"/><path d="M2014.2,225.6C2012.3,228.0 2010.9,240.2 2011.7,247.3C2015.8,240.7 2017.2,228.6 2014.2,225.6Z" fill="#fbf8f4" stroke="#4f4a45" stroke-width="0.75"/><path d="M2015.5,229.7C2012.3,232.4 2013.1,244.0 2016.9,250.4C2018.1,243.7 2017.3,232.1 2015.5,229.7Z" fill="#fbf8f4" stroke="#4f4a45" stroke-width="0.75"/><path d="M2026.2,216.3C2023.0,221.1 2029.0,231.2 2037.0,234.3C2033.3,228.7 2027.3,218.6 2026.2,216.3Z" fill="#fbf8f4" stroke="#4f4a45" stroke-width="0.75"/><path d="M2025.2,219.4C2022.7,221.6 2021.6,233.2 2023.1,240.1C2027.1,233.8 2028.2,222.2 2025.2,219.4Z" fill="#fbf8f4" stroke="#4f4a45" stroke-width="0.75"/><path d="M2026.6,221.5C2023.7,224.4 2025.2,235.9 2029.3,242.1C2030.1,235.3 2028.6,223.7 2026.6,221.5Z" fill="#fbf8f4" stroke="#4f4a45" stroke-width="0.75"/><path d="M2022.1,235.9C2019.1,240.2 2024.3,249.7 2031.4,252.9C2028.7,247.3 2023.4,237.8 2022.1,235.9Z" fill="#fbf8f4" stroke="#4f4a45" stroke-width="0.75"/><path d="M2023.1,240.1C2020.5,242.2 2019.9,252.6 2022.1,258.7C2024.9,252.9 2025.5,242.4 2023.1,240.1Z" fill="#fbf8f4" stroke="#4f4a45" stroke-width="0.75"/><path d="M1996.2,240.1C1994.5,243.4 1992.7,259.6 1993.1,269.0C1998.2,260.2 1999.9,244.0 1996.2,240.1Z" fill="#fbf8f4" stroke="#4f4a45" stroke-width="0.75"/><path d="M1997.2,246.3C1994.2,249.5 1995.4,263.4 1999.3,271.1C2000.3,263.0 1999.1,249.1 1997.2,246.3Z" fill="#fbf8f4" stroke="#4f4a45" stroke-width="0.75"/><path d="M2011.7,250.4C2009.0,252.6 2007.6,264.2 2009.2,271.1C2012.5,264.8 2013.9,253.2 2011.7,250.4Z" fill="#fbf8f4" stroke="#4f4a45" stroke-width="0.75"/><path d="M2014.2,252.5C2012.1,255.3 2013.6,266.9 2016.9,273.2C2018.5,266.2 2017.0,254.7 2014.2,252.5Z" fill="#fbf8f4" stroke="#4f4a45" stroke-width="0.75"/><path d="M2026.2,240.1C2022.6,244.8 2023.8,265.6 2028.3,277.3C2028.7,265.3 2027.6,244.5 2026.2,240.1Z" fill="#fbf8f4" stroke="#4f4a45" stroke-width="0.75"/><path d="M2009.7,264.9C2006.7,266.1 2002.0,275.9 2001.4,282.5C2006.0,277.8 2010.7,268.0 2009.7,264.9Z" fill="#fbf8f4" stroke="#4f4a45" stroke-width="0.75"/><path d="M2015.9,262.8C2015.2,266.0 2021.0,275.3 2026.2,279.4C2024.8,272.9 2019.0,263.6 2015.9,262.8Z" fill="#fbf8f4" stroke="#4f4a45" stroke-width="0.75"/><path d="M2007.6,269.0C2006.2,271.4 2008.5,280.1 2011.7,284.6C2012.3,279.1 2010.0,270.4 2007.6,269.0Z" fill="#fbf8f4" stroke="#4f4a45" stroke-width="0.75"/><path d="M1999.3,260.8C1997.8,263.5 1999.5,275.1 2002.4,281.5C2003.3,274.5 2001.6,263.0 1999.3,260.8Z" fill="#fbf8f4" stroke="#4f4a45" stroke-width="0.75"/><path d="M2020.0,258.7C2018.1,261.0 2019.2,270.2 2022.1,275.2C2023.6,269.7 2022.4,260.4 2020.0,258.7Z" fill="#fbf8f4" stroke="#4f4a45" stroke-width="0.75"/><path d="M1979.7,204.5C1978.6,202.7 1974.6,200.4 1972.5,200.3C1973.6,202.1 1977.6,204.4 1979.7,204.5Z" fill="#f4f0ea" stroke="#4f4a45" stroke-width="0.6"/><path d="M1979.7,204.5C1979.3,202.4 1976.5,198.8 1974.6,198.0C1974.9,200.0 1977.7,203.7 1979.7,204.5Z" fill="#f4f0ea" stroke="#4f4a45" stroke-width="0.6"/><path d="M1979.7,204.5C1980.0,202.4 1978.6,198.0 1977.1,196.6C1976.7,198.7 1978.1,203.1 1979.7,204.5Z" fill="#f4f0ea" stroke="#4f4a45" stroke-width="0.6"/><path d="M1979.7,204.5C1980.7,202.7 1980.7,198.0 1979.7,196.2C1978.7,198.0 1978.7,202.7 1979.7,204.5Z" fill="#f4f0ea" stroke="#4f4a45" stroke-width="0.6"/><path d="M1979.7,204.5C1981.2,203.1 1982.6,198.7 1982.2,196.6C1980.7,198.0 1979.3,202.4 1979.7,204.5Z" fill="#f4f0ea" stroke="#4f4a45" stroke-width="0.6"/><path d="M1979.7,204.5C1981.6,203.7 1984.4,200.0 1984.8,198.0C1982.8,198.8 1980.0,202.4 1979.7,204.5Z" fill="#f4f0ea" stroke="#4f4a45" stroke-width="0.6"/><path d="M1979.7,204.5C1981.7,204.4 1985.7,202.1 1986.8,200.3C1984.7,200.4 1980.7,202.7 1979.7,204.5Z" fill="#f4f0ea" stroke="#4f4a45" stroke-width="0.6"/><path d="M1979.7,204.5C1978.5,203.3 1975.1,202.7 1973.5,203.4C1974.7,204.6 1978.1,205.2 1979.7,204.5Z" fill="#f4f0ea" stroke="#4f4a45" stroke-width="0.6"/><path d="M1979.7,204.5C1981.2,205.2 1984.6,204.6 1985.8,203.4C1984.3,202.7 1980.8,203.3 1979.7,204.5Z" fill="#f4f0ea" stroke="#4f4a45" stroke-width="0.6"/><line x1="1979.7" y1="202.4" x2="1979.7" y2="209.9" stroke="#4f4a45" stroke-width="0.9" stroke-linecap="round"/><path d="M2004.5,195.8C2003.3,193.9 1998.8,191.4 1996.6,191.2C1997.8,193.1 2002.3,195.7 2004.5,195.8Z" fill="#f4f0ea" stroke="#4f4a45" stroke-width="0.6"/><path d="M2004.5,195.8C2004.0,193.6 2000.9,189.6 1998.9,188.6C1999.3,190.8 2002.5,194.8 2004.5,195.8Z" fill="#f4f0ea" stroke="#4f4a45" stroke-width="0.6"/><path d="M2004.5,195.8C2004.8,193.6 2003.2,188.7 2001.7,187.1C2001.3,189.3 2002.9,194.2 2004.5,195.8Z" fill="#f4f0ea" stroke="#4f4a45" stroke-width="0.6"/><path d="M2004.5,195.8C2005.5,193.8 2005.5,188.7 2004.5,186.7C2003.5,188.7 2003.5,193.8 2004.5,195.8Z" fill="#f4f0ea" stroke="#4f4a45" stroke-width="0.6"/><path d="M2004.5,195.8C2006.1,194.2 2007.6,189.3 2007.3,187.1C2005.7,188.7 2004.2,193.6 2004.5,195.8Z" fill="#f4f0ea" stroke="#4f4a45" stroke-width="0.6"/><path d="M2004.5,195.8C2006.5,194.8 2009.6,190.8 2010.1,188.6C2008.1,189.6 2004.9,193.6 2004.5,195.8Z" fill="#f4f0ea" stroke="#4f4a45" stroke-width="0.6"/><path d="M2004.5,195.8C2006.7,195.7 2011.1,193.1 2012.4,191.2C2010.1,191.4 2005.7,193.9 2004.5,195.8Z" fill="#f4f0ea" stroke="#4f4a45" stroke-width="0.6"/><path d="M2004.5,195.8C2003.2,194.5 1999.4,193.9 1997.8,194.6C1999.1,195.9 2002.8,196.5 2004.5,195.8Z" fill="#f4f0ea" stroke="#4f4a45" stroke-width="0.6"/><path d="M2004.5,195.8C2006.1,196.5 2009.9,195.9 2011.2,194.6C2009.6,193.9 2005.8,194.5 2004.5,195.8Z" fill="#f4f0ea" stroke="#4f4a45" stroke-width="0.6"/><line x1="2004.5" y1="193.5" x2="2004.5" y2="201.7" stroke="#4f4a45" stroke-width="0.9" stroke-linecap="round"/><path d="M2017.5,200.1C2016.6,198.5 2013.0,196.4 2011.1,196.4C2012.0,198.1 2015.6,200.2 2017.5,200.1Z" fill="#f4f0ea" stroke="#4f4a45" stroke-width="0.6"/><path d="M2017.5,200.1C2017.3,198.2 2014.7,194.9 2012.9,194.3C2013.2,196.2 2015.7,199.5 2017.5,200.1Z" fill="#f4f0ea" stroke="#4f4a45" stroke-width="0.6"/><path d="M2017.5,200.1C2018.0,198.3 2016.7,194.3 2015.2,193.1C2014.8,194.9 2016.1,198.9 2017.5,200.1Z" fill="#f4f0ea" stroke="#4f4a45" stroke-width="0.6"/><path d="M2017.5,200.1C2018.5,198.5 2018.5,194.3 2017.5,192.7C2016.5,194.3 2016.5,198.5 2017.5,200.1Z" fill="#f4f0ea" stroke="#4f4a45" stroke-width="0.6"/><path d="M2017.5,200.1C2019.0,198.9 2020.3,194.9 2019.8,193.1C2018.4,194.3 2017.1,198.3 2017.5,200.1Z" fill="#f4f0ea" stroke="#4f4a45" stroke-width="0.6"/><path d="M2017.5,200.1C2019.3,199.5 2021.9,196.2 2022.1,194.3C2020.3,194.9 2017.7,198.2 2017.5,200.1Z" fill="#f4f0ea" stroke="#4f4a45" stroke-width="0.6"/><path d="M2017.5,200.1C2019.4,200.2 2023.1,198.1 2024.0,196.4C2022.1,196.4 2018.4,198.5 2017.5,200.1Z" fill="#f4f0ea" stroke="#4f4a45" stroke-width="0.6"/><path d="M2017.5,200.1C2016.5,198.9 2013.4,198.4 2012.0,199.2C2013.1,200.4 2016.1,200.9 2017.5,200.1Z" fill="#f4f0ea" stroke="#4f4a45" stroke-width="0.6"/><path d="M2017.5,200.1C2018.9,200.9 2022.0,200.4 2023.0,199.2C2021.6,198.4 2018.6,198.9 2017.5,200.1Z" fill="#f4f0ea" stroke="#4f4a45" stroke-width="0.6"/><line x1="2017.5" y1="198.3" x2="2017.5" y2="205.0" stroke="#4f4a45" stroke-width="0.9" stroke-linecap="round"/><path d="M2027.9,205.1C2026.9,203.4 2023.3,201.3 2021.4,201.4C2022.3,203.1 2025.9,205.2 2027.9,205.1Z" fill="#f4f0ea" stroke="#4f4a45" stroke-width="0.6"/><path d="M2027.9,205.1C2027.6,203.2 2025.1,199.9 2023.3,199.2C2023.5,201.1 2026.1,204.4 2027.9,205.1Z" fill="#f4f0ea" stroke="#4f4a45" stroke-width="0.6"/><path d="M2027.9,205.1C2028.3,203.2 2027.0,199.3 2025.6,198.0C2025.1,199.9 2026.4,203.9 2027.9,205.1Z" fill="#f4f0ea" stroke="#4f4a45" stroke-width="0.6"/><path d="M2027.9,205.1C2028.9,203.5 2028.9,199.3 2027.9,197.7C2026.9,199.3 2026.9,203.5 2027.9,205.1Z" fill="#f4f0ea" stroke="#4f4a45" stroke-width="0.6"/><path d="M2027.9,205.1C2029.3,203.9 2030.6,199.9 2030.2,198.0C2028.7,199.3 2027.4,203.2 2027.9,205.1Z" fill="#f4f0ea" stroke="#4f4a45" stroke-width="0.6"/><path d="M2027.9,205.1C2029.7,204.4 2032.2,201.1 2032.5,199.2C2030.7,199.9 2028.1,203.2 2027.9,205.1Z" fill="#f4f0ea" stroke="#4f4a45" stroke-width="0.6"/><path d="M2027.9,205.1C2029.8,205.2 2033.4,203.1 2034.3,201.4C2032.4,201.3 2028.8,203.4 2027.9,205.1Z" fill="#f4f0ea" stroke="#4f4a45" stroke-width="0.6"/><path d="M2027.9,205.1C2026.8,203.9 2023.7,203.4 2022.4,204.1C2023.4,205.3 2026.5,205.9 2027.9,205.1Z" fill="#f4f0ea" stroke="#4f4a45" stroke-width="0.6"/><path d="M2027.9,205.1C2029.3,205.9 2032.3,205.3 2033.4,204.1C2032.0,203.4 2028.9,203.9 2027.9,205.1Z" fill="#f4f0ea" stroke="#4f4a45" stroke-width="0.6"/><line x1="2027.9" y1="203.2" x2="2027.9" y2="209.9" stroke="#4f4a45" stroke-width="0.9" stroke-linecap="round"/><path d="M2057.7,187.3 L2057.9,187.8 L2058.3,188.5 L2058.7,189.3 L2059.2,190.2 L2059.6,191.3 L2059.9,192.5 L2060.2,193.9 L2060.5,195.5 L2060.7,197.3 L2060.9,199.2 L2061.1,201.0 L2061.4,202.8 L2061.7,204.5 L2061.9,206.2 L2062.2,207.9 L2062.5,209.6 L2062.8,211.4 L2063.0,213.2 L2063.3,215.0 L2063.6,216.9 L2063.9,218.8 L2064.1,220.7 L2064.4,222.6 L2064.6,224.6 L2064.8,226.5 L2065.0,228.3 L2065.2,230.2 L2065.3,232.1 L2065.5,234.0 L2065.6,235.9 L2065.8,237.8 L2065.9,239.7 L2066.0,241.6 L2066.1,243.5 L2066.2,245.4 L2066.4,247.3 L2066.5,249.2 L2066.6,251.1 L2066.7,253.0 L2066.8,254.9 L2066.9,256.8 L2067.0,258.7 L2067.1,260.6 L2067.2,262.5 L2067.3,264.4 L2067.4,266.3 L2067.5,268.2 L2067.6,270.1 L2067.7,272.0 L2067.8,274.1 L2067.9,276.1 L2068.0,278.0 L2068.0,279.9 L2068.0,281.5 L2068.0,282.8 L2068.1,284.0 L2068.1,285.0 L2068.1,286.0 L2067.8,286.8 L2067.2,287.7 L2066.2,288.5 L2065.0,289.4 L2063.5,290.1 L2061.9,290.8 L2060.4,291.2 L2058.9,291.4 L2057.4,291.2 L2055.9,290.8 L2054.3,290.1 L2052.8,289.4 L2051.6,288.5 L2050.6,287.7 L2050.0,286.8 L2049.8,286.0 L2049.7,285.0 L2049.7,284.0 L2049.8,282.8 L2049.8,281.5 L2049.8,279.9 L2049.8,278.0 L2049.9,276.1 L2050.0,274.1 L2050.1,272.0 L2050.2,270.1 L2050.3,268.2 L2050.4,266.3 L2050.5,264.4 L2050.6,262.5 L2050.7,260.6 L2050.8,258.7 L2050.9,256.8 L2051.0,254.9 L2051.1,253.0 L2051.2,251.1 L2051.3,249.2 L2051.5,247.3 L2051.6,245.4 L2051.7,243.5 L2051.8,241.6 L2051.9,239.7 L2052.0,237.8 L2052.2,235.9 L2052.3,234.0 L2052.5,232.1 L2052.7,230.2 L2052.9,228.3 L2053.1,226.5 L2053.2,224.6 L2053.4,222.6 L2053.5,220.7 L2053.6,218.8 L2053.7,216.9 L2053.8,215.0 L2053.9,213.2 L2054.1,211.4 L2054.2,209.6 L2054.4,207.9 L2054.5,206.2 L2054.6,204.5 L2054.8,202.8 L2054.9,201.0 L2054.9,199.2 L2055.0,197.3 L2055.1,195.5 L2055.2,193.9 L2055.4,192.5 L2055.7,191.3 L2056.1,190.2 L2056.6,189.3 L2057.0,188.5 L2057.4,187.8 L2057.7,187.3Z" fill="#f1ebe4" stroke="#4f4a45" stroke-width="0.9"/><ellipse cx="2058.5" cy="197.7" rx="2.3" ry="6.4" fill="#e2dad2" stroke="#4f4a45" stroke-width="0.7"/><ellipse cx="2057.3" cy="208.0" rx="3.3" ry="6.4" fill="#f3eee8" stroke="#4f4a45" stroke-width="0.7"/><ellipse cx="2059.9" cy="218.9" rx="4.3" ry="7.1" fill="#d8d0c8" stroke="#4f4a45" stroke-width="0.7"/><ellipse cx="2057.4" cy="230.2" rx="5.2" ry="7.1" fill="#efe8e1" stroke="#4f4a45" stroke-width="0.7"/><ellipse cx="2060.6" cy="241.6" rx="6.0" ry="7.1" fill="#e2dad2" stroke="#4f4a45" stroke-width="0.7"/><ellipse cx="2057.0" cy="253.0" rx="6.5" ry="7.1" fill="#f3eee8" stroke="#4f4a45" stroke-width="0.7"/><ellipse cx="2060.9" cy="264.4" rx="7.0" ry="7.1" fill="#d8d0c8" stroke="#4f4a45" stroke-width="0.7"/><ellipse cx="2056.8" cy="275.8" rx="7.5" ry="7.1" fill="#efe8e1" stroke="#4f4a45" stroke-width="0.7"/><ellipse cx="2061.0" cy="284.6" rx="7.3" ry="3.8" fill="#e2dad2" stroke="#4f4a45" stroke-width="0.7"/><path d="M2130.7,282.5 L2130.4,277.7 L2130.1,271.0 L2129.7,263.1 L2129.2,254.8 L2128.9,246.9 L2128.6,240.1 L2128.5,234.3 L2128.5,228.8 L2128.5,223.7 L2128.5,219.0 L2128.6,214.8 L2128.6,211.1 L2128.7,207.9 L2128.7,205.3 L2128.8,203.1 L2128.9,201.3 L2129.0,199.9 L2129.0,198.7" fill="none" stroke="#4a4540" stroke-width="0.9" stroke-linecap="round" stroke-linejoin="round" opacity="1"/><path d="M2134.8,282.5 L2135.3,277.7 L2136.0,270.9 L2136.8,263.0 L2137.7,254.6 L2138.4,246.7 L2139.0,240.1 L2139.3,234.5 L2139.5,229.5 L2139.7,224.8 L2139.8,220.6 L2139.9,216.7 L2140.0,213.2 L2140.2,210.0 L2140.4,207.2 L2140.6,204.8 L2140.8,202.7 L2140.9,201.0 L2141.0,199.7" fill="none" stroke="#4a4540" stroke-width="0.9" stroke-linecap="round" stroke-linejoin="round" opacity="1"/><path d="M2136.9,282.5 L2138.4,277.7 L2140.5,270.8 L2143.0,262.8 L2145.5,254.5 L2147.7,246.6 L2149.3,240.1 L2150.3,234.8 L2150.8,230.0 L2151.1,225.7 L2151.2,221.9 L2151.2,218.4 L2151.4,215.2 L2151.6,212.4 L2151.8,210.0 L2152.0,208.0 L2152.2,206.3 L2152.3,204.9 L2152.4,203.9" fill="none" stroke="#4a4540" stroke-width="0.9" stroke-linecap="round" stroke-linejoin="round" opacity="1"/><path d="M2128.6,207.0C2125.0,209.5 2123.2,223.4 2125.5,231.8C2129.8,224.3 2131.5,210.4 2128.6,207.0Z" fill="#fbf8f4" stroke="#4a4540" stroke-width="0.75"/><path d="M2129.7,213.2C2127.2,216.4 2129.5,229.2 2133.8,235.9C2135.5,228.1 2133.1,215.4 2129.7,213.2Z" fill="#fbf8f4" stroke="#4a4540" stroke-width="0.75"/><path d="M2127.6,227.7C2124.4,232.0 2123.8,252.9 2126.6,264.9C2129.9,253.1 2130.5,232.2 2127.6,227.7Z" fill="#fbf8f4" stroke="#4a4540" stroke-width="0.75"/><path d="M2130.7,231.8C2128.4,237.3 2130.8,261.6 2134.8,275.2C2136.3,261.1 2133.9,236.7 2130.7,231.8Z" fill="#fbf8f4" stroke="#4a4540" stroke-width="0.75"/><path d="M2126.6,240.1C2123.8,242.8 2122.7,256.8 2124.5,264.9C2127.6,257.2 2128.8,243.3 2126.6,240.1Z" fill="#fbf8f4" stroke="#4a4540" stroke-width="0.75"/><path d="M2140.0,213.2C2137.0,215.1 2135.9,225.5 2137.9,231.8C2141.3,226.1 2142.5,215.7 2140.0,213.2Z" fill="#fbf8f4" stroke="#4a4540" stroke-width="0.75"/><path d="M2141.0,217.3C2138.5,220.3 2139.7,233.0 2143.1,240.1C2145.2,232.5 2144.0,219.8 2141.0,217.3Z" fill="#fbf8f4" stroke="#4a4540" stroke-width="0.75"/><path d="M2139.0,235.9C2136.5,238.7 2137.6,250.3 2141.0,256.6C2143.1,249.7 2142.0,238.1 2139.0,235.9Z" fill="#fbf8f4" stroke="#4a4540" stroke-width="0.75"/><path d="M2137.9,240.1C2135.3,242.4 2134.5,254.0 2136.5,260.8C2139.4,254.3 2140.2,242.7 2137.9,240.1Z" fill="#fbf8f4" stroke="#4a4540" stroke-width="0.75"/><path d="M2151.4,217.3C2148.8,221.8 2154.6,229.9 2161.7,231.8C2158.6,227.0 2152.9,218.9 2151.4,217.3Z" fill="#fbf8f4" stroke="#4a4540" stroke-width="0.75"/><path d="M2150.3,219.4C2147.1,221.6 2145.9,233.1 2148.3,240.1C2152.0,233.8 2153.1,222.2 2150.3,219.4Z" fill="#fbf8f4" stroke="#4a4540" stroke-width="0.75"/><path d="M2149.3,229.7C2146.4,234.8 2151.7,253.4 2158.6,262.8C2157.0,251.9 2151.8,233.3 2149.3,229.7Z" fill="#fbf8f4" stroke="#4a4540" stroke-width="0.75"/><path d="M2146.2,250.4C2143.8,252.6 2138.6,265.4 2136.9,273.2C2143.7,267.5 2148.9,254.7 2146.2,250.4Z" fill="#fbf8f4" stroke="#4a4540" stroke-width="0.75"/><path d="M2143.1,256.6C2141.9,260.3 2147.7,271.9 2153.5,277.3C2152.6,269.5 2146.8,257.9 2143.1,256.6Z" fill="#fbf8f4" stroke="#4a4540" stroke-width="0.75"/><path d="M2130.7,260.8C2128.5,263.5 2129.6,275.1 2132.8,281.5C2134.6,274.6 2133.4,263.0 2130.7,260.8Z" fill="#fbf8f4" stroke="#4a4540" stroke-width="0.75"/><path d="M2148.3,235.9C2146.2,238.8 2147.9,250.4 2151.4,256.6C2152.8,249.6 2151.1,238.0 2148.3,235.9Z" fill="#fbf8f4" stroke="#4a4540" stroke-width="0.75"/><path d="M2134.8,264.9C2132.1,266.2 2129.2,275.5 2129.7,281.5C2133.4,276.8 2136.3,267.5 2134.8,264.9Z" fill="#fbf8f4" stroke="#4a4540" stroke-width="0.75"/><path d="M2141.0,267.0C2139.6,269.5 2142.5,277.6 2146.2,281.5C2146.6,276.1 2143.7,268.0 2141.0,267.0Z" fill="#fbf8f4" stroke="#4a4540" stroke-width="0.75"/><path d="M2129.0,193.6C2127.9,191.8 2123.7,189.4 2121.5,189.3C2122.7,191.1 2126.9,193.5 2129.0,193.6Z" fill="#f4f0ea" stroke="#4a4540" stroke-width="0.6"/><path d="M2129.0,193.6C2128.6,191.5 2125.7,187.7 2123.7,186.8C2124.1,188.9 2127.1,192.7 2129.0,193.6Z" fill="#f4f0ea" stroke="#4a4540" stroke-width="0.6"/><path d="M2129.0,193.6C2129.4,191.5 2127.9,186.9 2126.4,185.4C2126.0,187.5 2127.5,192.1 2129.0,193.6Z" fill="#f4f0ea" stroke="#4a4540" stroke-width="0.6"/><path d="M2129.0,193.6C2130.0,191.7 2130.0,186.8 2129.0,184.9C2128.0,186.8 2128.0,191.7 2129.0,193.6Z" fill="#f4f0ea" stroke="#4a4540" stroke-width="0.6"/><path d="M2129.0,193.6C2130.6,192.1 2132.1,187.5 2131.7,185.4C2130.2,186.9 2128.7,191.5 2129.0,193.6Z" fill="#f4f0ea" stroke="#4a4540" stroke-width="0.6"/><path d="M2129.0,193.6C2131.0,192.7 2134.0,188.9 2134.4,186.8C2132.4,187.7 2129.4,191.5 2129.0,193.6Z" fill="#f4f0ea" stroke="#4a4540" stroke-width="0.6"/><path d="M2129.0,193.6C2131.2,193.5 2135.4,191.1 2136.6,189.3C2134.4,189.4 2130.2,191.8 2129.0,193.6Z" fill="#f4f0ea" stroke="#4a4540" stroke-width="0.6"/><path d="M2129.0,193.6C2127.8,192.4 2124.2,191.8 2122.6,192.5C2123.9,193.7 2127.4,194.4 2129.0,193.6Z" fill="#f4f0ea" stroke="#4a4540" stroke-width="0.6"/><path d="M2129.0,193.6C2130.6,194.4 2134.2,193.7 2135.5,192.5C2133.9,191.8 2130.3,192.4 2129.0,193.6Z" fill="#f4f0ea" stroke="#4a4540" stroke-width="0.6"/><line x1="2129.0" y1="191.4" x2="2129.0" y2="199.3" stroke="#4a4540" stroke-width="0.9" stroke-linecap="round"/><path d="M2141.0,196.3C2140.2,194.7 2136.8,192.7 2134.9,192.8C2135.8,194.4 2139.2,196.4 2141.0,196.3Z" fill="#f4f0ea" stroke="#4a4540" stroke-width="0.6"/><path d="M2141.0,196.3C2140.9,194.5 2138.4,191.4 2136.7,190.8C2136.9,192.6 2139.3,195.7 2141.0,196.3Z" fill="#f4f0ea" stroke="#4a4540" stroke-width="0.6"/><path d="M2141.0,196.3C2141.5,194.5 2140.3,190.8 2138.9,189.6C2138.4,191.4 2139.6,195.1 2141.0,196.3Z" fill="#f4f0ea" stroke="#4a4540" stroke-width="0.6"/><path d="M2141.0,196.3C2142.0,194.8 2142.0,190.8 2141.0,189.3C2140.0,190.8 2140.0,194.8 2141.0,196.3Z" fill="#f4f0ea" stroke="#4a4540" stroke-width="0.6"/><path d="M2141.0,196.3C2142.5,195.1 2143.7,191.4 2143.2,189.6C2141.8,190.8 2140.6,194.5 2141.0,196.3Z" fill="#f4f0ea" stroke="#4a4540" stroke-width="0.6"/><path d="M2141.0,196.3C2142.8,195.7 2145.2,192.6 2145.4,190.8C2143.6,191.4 2141.2,194.5 2141.0,196.3Z" fill="#f4f0ea" stroke="#4a4540" stroke-width="0.6"/><path d="M2141.0,196.3C2142.9,196.4 2146.3,194.4 2147.1,192.8C2145.3,192.7 2141.9,194.7 2141.0,196.3Z" fill="#f4f0ea" stroke="#4a4540" stroke-width="0.6"/><path d="M2141.0,196.3C2140.1,195.1 2137.2,194.6 2135.8,195.4C2136.8,196.6 2139.7,197.1 2141.0,196.3Z" fill="#f4f0ea" stroke="#4a4540" stroke-width="0.6"/><path d="M2141.0,196.3C2142.4,197.1 2145.3,196.6 2146.2,195.4C2144.9,194.6 2142.0,195.1 2141.0,196.3Z" fill="#f4f0ea" stroke="#4a4540" stroke-width="0.6"/><line x1="2141.0" y1="194.6" x2="2141.0" y2="200.9" stroke="#4a4540" stroke-width="0.9" stroke-linecap="round"/><path d="M2152.4,200.6C2151.5,198.9 2147.9,196.8 2146.0,196.8C2146.9,198.5 2150.5,200.6 2152.4,200.6Z" fill="#f4f0ea" stroke="#4a4540" stroke-width="0.6"/><path d="M2152.4,200.6C2152.2,198.6 2149.6,195.4 2147.8,194.7C2148.1,196.6 2150.6,199.9 2152.4,200.6Z" fill="#f4f0ea" stroke="#4a4540" stroke-width="0.6"/><path d="M2152.4,200.6C2152.9,198.7 2151.6,194.7 2150.1,193.5C2149.7,195.3 2151.0,199.3 2152.4,200.6Z" fill="#f4f0ea" stroke="#4a4540" stroke-width="0.6"/><path d="M2152.4,200.6C2153.4,198.9 2153.4,194.7 2152.4,193.1C2151.4,194.7 2151.4,198.9 2152.4,200.6Z" fill="#f4f0ea" stroke="#4a4540" stroke-width="0.6"/><path d="M2152.4,200.6C2153.9,199.3 2155.2,195.3 2154.7,193.5C2153.3,194.7 2152.0,198.7 2152.4,200.6Z" fill="#f4f0ea" stroke="#4a4540" stroke-width="0.6"/><path d="M2152.4,200.6C2154.2,199.9 2156.8,196.6 2157.0,194.7C2155.2,195.4 2152.6,198.6 2152.4,200.6Z" fill="#f4f0ea" stroke="#4a4540" stroke-width="0.6"/><path d="M2152.4,200.6C2154.3,200.6 2157.9,198.5 2158.9,196.8C2156.9,196.8 2153.3,198.9 2152.4,200.6Z" fill="#f4f0ea" stroke="#4a4540" stroke-width="0.6"/><path d="M2152.4,200.6C2151.4,199.4 2148.3,198.8 2146.9,199.6C2148.0,200.8 2151.0,201.3 2152.4,200.6Z" fill="#f4f0ea" stroke="#4a4540" stroke-width="0.6"/><path d="M2152.4,200.6C2153.8,201.3 2156.9,200.8 2157.9,199.6C2156.5,198.8 2153.5,199.4 2152.4,200.6Z" fill="#f4f0ea" stroke="#4a4540" stroke-width="0.6"/><line x1="2152.4" y1="198.7" x2="2152.4" y2="205.4" stroke="#4a4540" stroke-width="0.9" stroke-linecap="round"/><path d="M2182.8,186.3 L2183.1,186.8 L2183.5,187.4 L2184.0,188.2 L2184.5,189.2 L2184.9,190.2 L2185.3,191.4 L2185.6,192.9 L2185.9,194.5 L2186.2,196.2 L2186.5,198.1 L2186.7,200.0 L2187.0,201.8 L2187.2,203.6 L2187.5,205.5 L2187.7,207.4 L2188.0,209.3 L2188.2,211.3 L2188.4,213.2 L2188.6,215.1 L2188.9,217.0 L2189.1,218.9 L2189.3,220.8 L2189.5,222.7 L2189.7,224.6 L2189.8,226.5 L2190.0,228.3 L2190.2,230.2 L2190.4,232.1 L2190.5,234.0 L2190.7,235.9 L2190.9,237.8 L2191.0,239.7 L2191.2,241.6 L2191.4,243.5 L2191.6,245.4 L2191.7,247.3 L2191.9,249.2 L2192.0,251.1 L2192.2,253.0 L2192.3,254.9 L2192.4,256.8 L2192.6,258.7 L2192.7,260.6 L2192.8,262.5 L2193.0,264.4 L2193.1,266.3 L2193.3,268.2 L2193.4,270.1 L2193.5,272.0 L2193.6,274.1 L2193.8,276.2 L2193.9,278.1 L2193.9,279.9 L2193.9,281.5 L2193.9,282.7 L2194.0,283.7 L2194.0,284.5 L2193.8,285.2 L2193.5,285.9 L2192.9,286.6 L2191.9,287.4 L2190.5,288.3 L2189.0,289.0 L2187.3,289.7 L2185.6,290.2 L2184.1,290.4 L2182.5,290.2 L2180.9,289.7 L2179.2,289.0 L2177.6,288.3 L2176.3,287.4 L2175.3,286.6 L2174.6,285.9 L2174.3,285.2 L2174.2,284.5 L2174.2,283.7 L2174.2,282.7 L2174.2,281.5 L2174.2,279.9 L2174.3,278.1 L2174.4,276.2 L2174.5,274.1 L2174.6,272.0 L2174.8,270.1 L2174.9,268.2 L2175.0,266.3 L2175.2,264.4 L2175.3,262.5 L2175.4,260.6 L2175.6,258.7 L2175.7,256.8 L2175.9,254.9 L2176.0,253.0 L2176.2,251.1 L2176.3,249.2 L2176.4,247.3 L2176.5,245.4 L2176.6,243.5 L2176.7,241.6 L2176.8,239.7 L2176.9,237.8 L2177.0,235.9 L2177.1,234.0 L2177.2,232.1 L2177.3,230.2 L2177.4,228.3 L2177.5,226.5 L2177.7,224.6 L2177.8,222.7 L2177.9,220.8 L2178.0,218.9 L2178.2,217.0 L2178.3,215.1 L2178.5,213.2 L2178.7,211.3 L2178.8,209.3 L2179.0,207.4 L2179.2,205.5 L2179.4,203.6 L2179.5,201.8 L2179.7,200.0 L2179.8,198.1 L2179.8,196.2 L2180.0,194.5 L2180.1,192.9 L2180.3,191.4 L2180.7,190.2 L2181.1,189.2 L2181.6,188.2 L2182.1,187.4 L2182.5,186.8 L2182.8,186.3Z" fill="#b8b0a8" stroke="#4a4540" stroke-width="0.9"/><ellipse cx="2183.8" cy="196.6" rx="2.6" ry="6.4" fill="#c9c1b9" stroke="#4a4540" stroke-width="0.7"/><ellipse cx="2182.3" cy="207.5" rx="3.6" ry="7.1" fill="#8f8780" stroke="#4a4540" stroke-width="0.7"/><ellipse cx="2184.9" cy="218.9" rx="4.6" ry="7.1" fill="#d6cfc8" stroke="#4a4540" stroke-width="0.7"/><ellipse cx="2182.2" cy="230.2" rx="5.4" ry="7.1" fill="#9a928b" stroke="#4a4540" stroke-width="0.7"/><ellipse cx="2185.7" cy="241.6" rx="6.1" ry="7.1" fill="#a49c94" stroke="#4a4540" stroke-width="0.7"/><ellipse cx="2182.1" cy="253.0" rx="6.8" ry="7.1" fill="#c9c1b9" stroke="#4a4540" stroke-width="0.7"/><ellipse cx="2186.2" cy="264.4" rx="7.5" ry="7.1" fill="#8f8780" stroke="#4a4540" stroke-width="0.7"/><ellipse cx="2181.8" cy="275.8" rx="8.0" ry="7.1" fill="#d6cfc8" stroke="#4a4540" stroke-width="0.7"/><ellipse cx="2186.3" cy="284.0" rx="7.8" ry="3.2" fill="#9a928b" stroke="#4a4540" stroke-width="0.7"/><path d="M2270.8,285.8 L2271.9,191.9 L2275.0,191.9 L2274.3,285.8Z" fill="#f6f2ec" stroke="#55504a" stroke-width="0.8"/><path d="M2272.6,198.4 L2271.9,197.7 L2270.9,196.5 L2269.6,195.1 L2268.2,193.7 L2266.6,192.4 L2264.8,191.4 L2262.8,190.9 L2260.6,191.5 L2258.9,193.0 L2257.6,195.1 L2256.5,197.6 L2255.7,200.4 L2255.0,203.2 L2254.6,205.9 L2254.2,208.1 L2253.6,209.5 L2253.9,209.6 L2254.5,208.2 L2255.6,206.2 L2256.9,203.9 L2258.2,201.4 L2259.5,199.0 L2260.7,196.8 L2261.7,195.2 L2262.4,194.5 L2262.8,194.4 L2263.8,194.5 L2265.2,195.0 L2266.8,195.7 L2268.5,196.6 L2270.1,197.5 L2271.5,198.2 L2272.5,198.6Z" fill="#f8f4ee" stroke="#55504a" stroke-width="0.75"/><path d="M2272.6,198.5 L2271.3,197.7 L2269.6,196.3 L2267.5,194.7 L2265.4,193.4 L2263.3,192.7 L2261.5,193.0 L2259.9,194.7 L2258.4,197.5 L2257.0,200.9 L2255.7,204.4 L2254.6,207.5 L2253.8,209.6" fill="none" stroke="#8d867c" stroke-width="0.4" stroke-linecap="round" stroke-linejoin="round" opacity="1"/><path d="M2273.8,196.4 L2274.6,195.9 L2275.7,195.1 L2277.1,194.1 L2278.5,193.1 L2279.8,192.3 L2280.8,191.9 L2281.3,191.9 L2281.3,192.0 L2281.8,192.9 L2282.5,195.0 L2283.4,197.7 L2284.3,200.7 L2285.4,203.8 L2286.5,206.6 L2287.5,209.0 L2287.9,210.7 L2288.2,210.6 L2287.8,208.9 L2287.7,206.4 L2287.6,203.3 L2287.3,200.0 L2286.7,196.8 L2285.9,193.9 L2285.0,191.4 L2283.7,189.6 L2281.7,188.7 L2279.8,189.1 L2278.3,190.1 L2277.0,191.5 L2275.9,192.9 L2274.9,194.3 L2274.2,195.5 L2273.6,196.2Z" fill="#f8f4ee" stroke="#55504a" stroke-width="0.75"/><path d="M2273.7,196.3 L2274.7,195.4 L2276.1,193.9 L2277.7,192.3 L2279.5,190.9 L2281.1,190.3 L2282.5,190.8 L2283.7,192.8 L2284.8,196.3 L2285.8,200.4 L2286.7,204.6 L2287.5,208.2 L2288.0,210.7" fill="none" stroke="#8d867c" stroke-width="0.4" stroke-linecap="round" stroke-linejoin="round" opacity="1"/><path d="M2271.5,205.0 L2271.0,204.5 L2270.4,203.5 L2269.7,202.4 L2268.7,201.2 L2267.6,200.1 L2266.3,199.2 L2264.7,198.8 L2262.8,199.2 L2261.4,200.5 L2260.3,202.2 L2259.3,204.2 L2258.6,206.5 L2258.1,208.8 L2257.7,211.0 L2257.5,212.8 L2257.0,213.9 L2257.2,214.0 L2257.7,212.9 L2258.8,211.4 L2260.0,209.6 L2261.2,207.6 L2262.4,205.7 L2263.4,204.0 L2264.2,202.7 L2264.6,202.2 L2264.7,202.1 L2265.2,202.1 L2266.1,202.5 L2267.3,203.0 L2268.5,203.7 L2269.6,204.4 L2270.7,204.9 L2271.4,205.3Z" fill="#f8f4ee" stroke="#55504a" stroke-width="0.75"/><path d="M2271.4,205.1 L2270.6,204.4 L2269.4,203.3 L2268.0,202.1 L2266.5,201.0 L2265.0,200.5 L2263.7,200.7 L2262.5,202.1 L2261.2,204.3 L2259.9,207.1 L2258.8,209.9 L2257.8,212.3 L2257.1,214.0" fill="none" stroke="#8d867c" stroke-width="0.4" stroke-linecap="round" stroke-linejoin="round" opacity="1"/><path d="M2273.8,209.7 L2274.4,209.3 L2275.3,208.8 L2276.4,208.1 L2277.5,207.5 L2278.5,206.9 L2279.2,206.6 L2279.5,206.6 L2279.3,206.6 L2279.6,207.0 L2280.2,208.1 L2281.0,209.6 L2281.9,211.4 L2282.9,213.2 L2283.9,214.9 L2284.8,216.3 L2285.2,217.3 L2285.5,217.2 L2285.1,216.2 L2285.1,214.5 L2284.9,212.6 L2284.6,210.5 L2284.1,208.4 L2283.4,206.5 L2282.5,204.9 L2281.2,203.7 L2279.4,203.3 L2277.9,203.7 L2276.8,204.6 L2275.8,205.7 L2275.1,206.8 L2274.4,207.9 L2274.0,208.9 L2273.6,209.4Z" fill="#f8f4ee" stroke="#55504a" stroke-width="0.75"/><path d="M2273.7,209.6 L2274.4,208.9 L2275.4,207.8 L2276.7,206.6 L2277.9,205.5 L2279.2,205.0 L2280.3,205.1 L2281.3,206.3 L2282.3,208.4 L2283.2,210.9 L2284.1,213.5 L2284.8,215.8 L2285.4,217.3" fill="none" stroke="#8d867c" stroke-width="0.4" stroke-linecap="round" stroke-linejoin="round" opacity="1"/><path d="M2271.4,224.9 L2270.7,224.7 L2269.7,224.4 L2268.5,224.0 L2267.1,223.6 L2265.6,223.4 L2263.9,223.5 L2262.2,223.9 L2260.5,224.8 L2258.9,226.2 L2257.4,228.0 L2256.0,230.2 L2254.7,232.6 L2253.7,235.0 L2252.9,237.3 L2252.2,239.2 L2251.4,240.4 L2251.7,240.6 L2252.5,239.4 L2253.9,237.9 L2255.5,236.1 L2257.1,234.1 L2258.7,232.1 L2260.2,230.2 L2261.5,228.6 L2262.6,227.5 L2263.5,226.8 L2264.5,226.3 L2265.8,225.9 L2267.1,225.7 L2268.4,225.5 L2269.6,225.4 L2270.7,225.3 L2271.4,225.2Z" fill="#f8f4ee" stroke="#55504a" stroke-width="0.75"/><path d="M2271.4,225.0 L2270.4,225.0 L2268.9,224.8 L2267.1,224.7 L2265.2,224.7 L2263.3,225.2 L2261.5,226.1 L2259.7,227.9 L2257.8,230.5 L2255.9,233.4 L2254.1,236.3 L2252.6,238.8 L2251.6,240.5" fill="none" stroke="#8d867c" stroke-width="0.4" stroke-linecap="round" stroke-linejoin="round" opacity="1"/><path d="M2274.9,238.3 L2275.7,237.4 L2276.9,236.0 L2278.2,234.3 L2279.6,232.5 L2280.8,230.8 L2281.9,229.5 L2282.6,228.9 L2281.9,228.9 L2281.7,228.9 L2282.3,230.2 L2283.0,232.2 L2283.9,234.6 L2284.7,237.1 L2285.7,239.4 L2286.4,241.3 L2286.8,242.7 L2287.1,242.7 L2286.7,241.3 L2286.7,239.2 L2286.7,236.7 L2286.5,234.0 L2286.2,231.3 L2285.6,229.0 L2284.8,227.1 L2283.1,225.5 L2280.7,225.9 L2279.3,227.3 L2278.2,229.0 L2277.1,231.1 L2276.3,233.2 L2275.6,235.3 L2275.1,237.1 L2274.6,238.2Z" fill="#f8f4ee" stroke="#55504a" stroke-width="0.75"/><path d="M2274.8,238.3 L2275.6,236.8 L2276.9,234.4 L2278.4,231.8 L2279.9,229.4 L2281.3,227.7 L2282.5,227.2 L2283.5,228.4 L2284.4,231.0 L2285.2,234.3 L2285.9,237.7 L2286.5,240.7 L2286.9,242.7" fill="none" stroke="#8d867c" stroke-width="0.4" stroke-linecap="round" stroke-linejoin="round" opacity="1"/><path d="M2271.5,251.4 L2270.4,250.9 L2269.0,250.2 L2267.3,249.3 L2265.4,248.4 L2263.3,247.7 L2261.0,247.2 L2258.7,247.1 L2256.4,247.7 L2254.3,248.8 L2252.2,250.6 L2250.3,252.7 L2248.6,255.0 L2247.1,257.3 L2245.8,259.5 L2244.7,261.3 L2243.7,262.5 L2243.9,262.7 L2245.0,261.5 L2246.6,260.1 L2248.5,258.5 L2250.5,256.7 L2252.6,254.8 L2254.5,253.1 L2256.3,251.8 L2257.8,251.0 L2259.1,250.6 L2260.8,250.4 L2262.8,250.5 L2264.8,250.8 L2266.8,251.1 L2268.6,251.4 L2270.2,251.5 L2271.4,251.7Z" fill="#f8f4ee" stroke="#55504a" stroke-width="0.75"/><path d="M2271.4,251.5 L2269.9,251.1 L2267.7,250.4 L2265.1,249.6 L2262.3,249.0 L2259.6,248.8 L2257.1,249.3 L2254.7,250.8 L2252.1,253.1 L2249.6,255.8 L2247.2,258.6 L2245.3,260.9 L2243.8,262.6" fill="none" stroke="#8d867c" stroke-width="0.4" stroke-linecap="round" stroke-linejoin="round" opacity="1"/><path d="M2274.8,256.1 L2275.7,256.0 L2277.0,255.8 L2278.5,255.5 L2280.1,255.2 L2281.6,255.0 L2283.1,254.8 L2284.3,254.8 L2285.3,255.0 L2286.2,255.5 L2287.5,256.3 L2289.0,257.4 L2290.6,258.6 L2292.1,259.8 L2293.6,260.9 L2294.9,261.9 L2295.6,262.7 L2295.9,262.5 L2295.1,261.7 L2294.3,260.3 L2293.5,258.7 L2292.4,256.9 L2291.1,255.2 L2289.7,253.7 L2288.1,252.4 L2286.3,251.6 L2284.5,251.3 L2282.6,251.5 L2280.9,252.1 L2279.2,252.9 L2277.8,253.7 L2276.5,254.6 L2275.5,255.3 L2274.7,255.8Z" fill="#f8f4ee" stroke="#55504a" stroke-width="0.75"/><path d="M2274.8,255.9 L2276.0,255.5 L2277.7,254.8 L2279.7,254.0 L2281.8,253.4 L2283.9,253.1 L2285.8,253.3 L2287.6,254.3 L2289.6,255.8 L2291.5,257.8 L2293.2,259.7 L2294.7,261.4 L2295.7,262.6" fill="none" stroke="#8d867c" stroke-width="0.4" stroke-linecap="round" stroke-linejoin="round" opacity="1"/><path d="M2271.3,251.9 L2270.9,252.3 L2270.3,252.7 L2269.7,253.3 L2269.0,254.0 L2268.3,254.8 L2267.6,255.6 L2267.0,256.5 L2266.5,257.4 L2266.1,258.4 L2265.7,259.5 L2265.4,260.7 L2265.2,261.9 L2265.0,263.2 L2265.0,264.3 L2264.9,265.2 L2264.7,265.8 L2265.0,265.9 L2265.2,265.3 L2265.8,264.6 L2266.6,263.8 L2267.4,262.9 L2268.1,261.9 L2268.8,260.8 L2269.3,259.8 L2269.8,258.9 L2270.1,258.0 L2270.5,257.1 L2270.8,256.1 L2271.0,255.1 L2271.2,254.2 L2271.4,253.3 L2271.5,252.6 L2271.6,252.0Z" fill="#f8f4ee" stroke="#55504a" stroke-width="0.75"/><path d="M2271.4,252.0 L2271.1,252.6 L2270.6,253.5 L2270.0,254.6 L2269.4,255.7 L2268.7,257.0 L2268.1,258.1 L2267.5,259.4 L2266.9,260.9 L2266.3,262.4 L2265.7,263.8 L2265.2,265.0 L2264.8,265.9" fill="none" stroke="#8d867c" stroke-width="0.4" stroke-linecap="round" stroke-linejoin="round" opacity="1"/><path d="M2274.3,278.2 L2275.0,278.2 L2276.0,278.3 L2277.0,278.3 L2278.2,278.4 L2279.3,278.4 L2280.4,278.4 L2281.3,278.5 L2282.0,278.7 L2282.8,278.9 L2283.7,279.4 L2284.9,280.0 L2286.1,280.6 L2287.4,281.1 L2288.6,281.6 L2289.5,282.1 L2290.1,282.6 L2290.3,282.3 L2289.7,281.9 L2289.1,281.0 L2288.5,279.8 L2287.6,278.7 L2286.7,277.6 L2285.5,276.6 L2284.3,275.7 L2283.0,275.2 L2281.6,275.0 L2280.2,275.1 L2278.9,275.4 L2277.7,275.9 L2276.6,276.5 L2275.6,277.1 L2274.9,277.6 L2274.3,277.9Z" fill="#f8f4ee" stroke="#55504a" stroke-width="0.75"/><path d="M2274.3,278.0 L2275.2,277.8 L2276.5,277.5 L2277.9,277.1 L2279.5,276.8 L2281.1,276.7 L2282.5,276.9 L2283.9,277.5 L2285.4,278.5 L2286.9,279.6 L2288.2,280.8 L2289.4,281.8 L2290.2,282.4" fill="none" stroke="#8d867c" stroke-width="0.4" stroke-linecap="round" stroke-linejoin="round" opacity="1"/><path d="M2272.1,216.0 L2271.6,215.9 L2271.0,215.6 L2270.2,215.3 L2269.2,215.1 L2268.2,214.9 L2267.1,215.0 L2265.9,215.3 L2264.7,216.0 L2263.8,217.0 L2263.0,218.3 L2262.5,219.7 L2262.1,221.2 L2261.8,222.7 L2261.7,224.1 L2261.7,225.3 L2261.4,226.1 L2261.6,226.2 L2262.0,225.4 L2262.8,224.6 L2263.7,223.5 L2264.6,222.3 L2265.4,221.1 L2266.1,220.0 L2266.7,219.1 L2267.1,218.6 L2267.4,218.2 L2267.9,217.9 L2268.6,217.6 L2269.3,217.3 L2270.2,217.0 L2270.9,216.8 L2271.6,216.5 L2272.1,216.3Z" fill="#f8f4ee" stroke="#55504a" stroke-width="0.75"/><path d="M2272.1,216.2 L2271.4,216.2 L2270.4,216.2 L2269.3,216.2 L2268.1,216.3 L2266.9,216.6 L2265.9,217.3 L2265.0,218.4 L2264.2,220.0 L2263.3,221.8 L2262.6,223.5 L2262.0,225.1 L2261.5,226.1" fill="none" stroke="#8d867c" stroke-width="0.4" stroke-linecap="round" stroke-linejoin="round" opacity="1"/><path d="M2273.1,192.9 L2273.3,192.2 L2273.4,191.1 L2273.5,189.8 L2273.4,188.5 L2273.1,187.2 L2272.7,186.0 L2272.1,185.1 L2271.4,184.3 L2270.2,183.8 L2269.1,184.1 L2268.6,184.8 L2268.4,185.4 L2268.3,186.1 L2268.4,186.8 L2268.2,187.1 L2268.0,187.4 L2268.3,187.5 L2268.4,187.3 L2268.7,186.9 L2269.2,186.6 L2269.7,186.3 L2270.1,186.1 L2270.3,186.2 L2269.8,186.4 L2269.3,186.2 L2269.3,186.5 L2269.4,187.3 L2269.7,188.3 L2270.2,189.5 L2270.8,190.6 L2271.6,191.6 L2272.3,192.5 L2272.9,193.0Z" fill="#f8f4ee" stroke="#55504a" stroke-width="0.75"/><path d="M2273.0,193.0 L2272.7,192.0 L2272.3,190.6 L2271.8,189.0 L2271.3,187.4 L2270.8,186.1 L2270.3,185.3 L2269.9,185.1 L2269.5,185.3 L2269.1,185.9 L2268.7,186.5 L2268.4,187.1 L2268.1,187.5" fill="none" stroke="#8d867c" stroke-width="0.4" stroke-linecap="round" stroke-linejoin="round" opacity="1"/><path d="M2274.0,193.1 L2274.6,192.6 L2275.5,191.9 L2276.5,191.0 L2277.3,190.0 L2278.0,188.9 L2278.5,187.9 L2278.9,187.2 L2278.9,186.8 L2278.6,186.8 L2278.3,186.6 L2278.4,186.6 L2278.8,186.7 L2279.3,187.0 L2279.8,187.4 L2280.0,187.7 L2280.2,188.0 L2280.4,187.8 L2280.3,187.6 L2280.1,187.2 L2280.1,186.6 L2280.1,186.0 L2279.9,185.3 L2279.4,184.6 L2278.4,184.3 L2277.2,184.6 L2276.4,185.3 L2275.6,186.1 L2274.9,187.2 L2274.3,188.4 L2274.0,189.7 L2273.8,191.0 L2273.8,192.1 L2273.7,192.9Z" fill="#f8f4ee" stroke="#55504a" stroke-width="0.75"/><path d="M2273.9,193.0 L2274.4,192.1 L2275.0,190.7 L2275.8,189.2 L2276.7,187.7 L2277.4,186.4 L2278.1,185.7 L2278.6,185.5 L2279.0,185.8 L2279.4,186.3 L2279.8,187.0 L2280.1,187.6 L2280.3,187.9" fill="none" stroke="#8d867c" stroke-width="0.4" stroke-linecap="round" stroke-linejoin="round" opacity="1"/><ellipse cx="2280.3" cy="236.1" rx="3" ry="6" transform="rotate(-15 2280.3 236.1)" fill="#f1ebe2" stroke="#55504a" stroke-width="0.7"/><line x1="2273.0" y1="189.7" x2="2267.6" y2="185.2" stroke="#55504a" stroke-width="0.7" stroke-linecap="round"/><line x1="2273.0" y1="189.7" x2="2269.7" y2="183.5" stroke="#55504a" stroke-width="0.7" stroke-linecap="round"/><line x1="2273.0" y1="189.7" x2="2272.3" y2="182.7" stroke="#55504a" stroke-width="0.7" stroke-linecap="round"/><line x1="2273.0" y1="189.7" x2="2274.9" y2="183.0" stroke="#55504a" stroke-width="0.7" stroke-linecap="round"/><line x1="2273.0" y1="189.7" x2="2277.3" y2="184.2" stroke="#55504a" stroke-width="0.7" stroke-linecap="round"/><path d="M2272.6,283.6 L2272.0,283.5 L2271.1,283.4 L2270.1,283.3 L2269.1,283.2 L2268.0,283.3 L2267.0,283.6 L2266.0,284.1 L2265.0,284.9 L2263.9,285.8 L2262.9,286.7 L2262.1,287.4 L2261.5,288.0" fill="none" stroke="#55504a" stroke-width="0.7" stroke-linecap="round" stroke-linejoin="round" opacity="1"/><path d="M2272.6,283.6 L2273.1,283.5 L2273.8,283.4 L2274.7,283.3 L2275.7,283.2 L2276.6,283.3 L2277.5,283.6 L2278.4,284.1 L2279.4,284.9 L2280.3,285.8 L2281.2,286.7 L2282.0,287.4 L2282.5,288.0" fill="none" stroke="#55504a" stroke-width="0.7" stroke-linecap="round" stroke-linejoin="round" opacity="1"/><path d="M2272.6,283.6 L2272.2,283.6 L2271.7,283.6 L2271.1,283.6 L2270.5,283.6 L2269.8,283.6 L2269.2,283.6 L2268.6,283.6 L2268.0,283.6 L2267.4,283.6 L2266.8,283.6 L2266.3,283.6 L2265.9,283.6" fill="none" stroke="#55504a" stroke-width="0.7" stroke-linecap="round" stroke-linejoin="round" opacity="1"/><path d="M2272.6,283.6 L2272.9,283.5 L2273.4,283.5 L2274.0,283.5 L2274.6,283.5 L2275.3,283.5 L2275.9,283.6 L2276.5,283.7 L2277.1,283.9 L2277.7,284.1 L2278.3,284.3 L2278.8,284.5 L2279.2,284.7" fill="none" stroke="#55504a" stroke-width="0.7" stroke-linecap="round" stroke-linejoin="round" opacity="1"/><clipPath id="me"><path d="M2317.2,178.2 L2317.9,178.5 L2318.9,178.8 L2320.1,179.2 L2321.3,180.0 L2322.5,181.2 L2323.4,183.0 L2324.0,185.7 L2324.5,189.0 L2324.9,192.9 L2325.2,197.0 L2325.6,201.1 L2326.0,205.1 L2326.5,209.0 L2327.0,213.0 L2327.4,217.0 L2327.9,221.1 L2328.4,225.2 L2328.9,229.4 L2329.4,233.7 L2329.9,238.1 L2330.5,242.5 L2331.0,247.0 L2331.4,251.5 L2331.8,255.9 L2332.0,260.6 L2332.3,265.4 L2332.4,270.2 L2332.5,274.8 L2332.4,279.0 L2332.2,282.4 L2331.8,285.2 L2331.4,287.3 L2330.8,289.0 L2330.1,290.3 L2329.1,291.4 L2327.8,292.4 L2326.0,293.2 L2323.9,293.8 L2321.5,294.2 L2319.0,294.4 L2316.6,294.3 L2314.5,293.9 L2312.6,293.5 L2310.8,292.9 L2309.1,292.2 L2307.6,291.0 L2306.2,289.3 L2305.2,286.9 L2304.6,283.7 L2304.3,279.7 L2304.2,275.2 L2304.3,270.4 L2304.4,265.4 L2304.6,260.4 L2304.8,255.2 L2305.1,249.6 L2305.5,243.9 L2305.9,238.2 L2306.4,232.6 L2306.8,227.2 L2307.2,222.0 L2307.5,216.8 L2307.9,211.8 L2308.2,206.9 L2308.6,202.5 L2309.0,198.5 L2309.5,195.0 L2310.0,191.8 L2310.6,189.0 L2311.1,186.6 L2311.6,184.6 L2311.9,183.0Z"/></clipPath><path d="M2317.2,178.2 L2317.9,178.5 L2318.9,178.8 L2320.1,179.2 L2321.3,180.0 L2322.5,181.2 L2323.4,183.0 L2324.0,185.7 L2324.5,189.0 L2324.9,192.9 L2325.2,197.0 L2325.6,201.1 L2326.0,205.1 L2326.5,209.0 L2327.0,213.0 L2327.4,217.0 L2327.9,221.1 L2328.4,225.2 L2328.9,229.4 L2329.4,233.7 L2329.9,238.1 L2330.5,242.5 L2331.0,247.0 L2331.4,251.5 L2331.8,255.9 L2332.0,260.6 L2332.3,265.4 L2332.4,270.2 L2332.5,274.8 L2332.4,279.0 L2332.2,282.4 L2331.8,285.2 L2331.4,287.3 L2330.8,289.0 L2330.1,290.3 L2329.1,291.4 L2327.8,292.4 L2326.0,293.2 L2323.9,293.8 L2321.5,294.2 L2319.0,294.4 L2316.6,294.3 L2314.5,293.9 L2312.6,293.5 L2310.8,292.9 L2309.1,292.2 L2307.6,291.0 L2306.2,289.3 L2305.2,286.9 L2304.6,283.7 L2304.3,279.7 L2304.2,275.2 L2304.3,270.4 L2304.4,265.4 L2304.6,260.4 L2304.8,255.2 L2305.1,249.6 L2305.5,243.9 L2305.9,238.2 L2306.4,232.6 L2306.8,227.2 L2307.2,222.0 L2307.5,216.8 L2307.9,211.8 L2308.2,206.9 L2308.6,202.5 L2309.0,198.5 L2309.5,195.0 L2310.0,191.8 L2310.6,189.0 L2311.1,186.6 L2311.6,184.6 L2311.9,183.0Z" fill="#b3aa9d" stroke="#55504a" stroke-width="1"/><g clip-path="url(#me)" fill="#f8f5ef" stroke="#6f675c" stroke-width="0.5"><rect x="2312.3" y="179.1" width="2.3" height="3.5" rx="1.2"/><rect x="2314.4" y="179.1" width="2.3" height="3.5" rx="1.2"/><rect x="2317.0" y="178.8" width="2.4" height="3.7" rx="1.2"/><rect x="2320.3" y="178.6" width="2.1" height="3.7" rx="1.2"/><rect x="2322.8" y="179.0" width="2.6" height="3.9" rx="1.2"/><rect x="2311.8" y="183.4" width="2.2" height="3.0" rx="1.2"/><rect x="2314.2" y="183.6" width="2.2" height="3.2" rx="1.2"/><rect x="2317.3" y="183.5" width="2.4" height="3.8" rx="1.2"/><rect x="2320.1" y="183.3" width="2.4" height="3.6" rx="1.2"/><rect x="2323.1" y="183.5" width="2.7" height="3.9" rx="1.2"/><rect x="2311.3" y="187.7" width="2.4" height="3.2" rx="1.2"/><rect x="2314.5" y="187.9" width="2.7" height="3.4" rx="1.2"/><rect x="2316.7" y="187.6" width="2.8" height="3.8" rx="1.2"/><rect x="2320.5" y="187.9" width="2.7" height="3.4" rx="1.2"/><rect x="2323.5" y="187.7" width="2.2" height="3.6" rx="1.2"/><rect x="2311.6" y="192.6" width="2.3" height="3.3" rx="1.2"/><rect x="2313.9" y="192.1" width="2.4" height="3.2" rx="1.2"/><rect x="2317.2" y="192.5" width="2.8" height="3.2" rx="1.2"/><rect x="2320.1" y="192.4" width="2.4" height="3.7" rx="1.2"/><rect x="2323.2" y="192.2" width="2.4" height="3.4" rx="1.2"/><rect x="2310.5" y="197.0" width="3.0" height="3.7" rx="1.2"/><rect x="2314.4" y="196.9" width="2.5" height="3.4" rx="1.2"/><rect x="2317.0" y="196.4" width="2.4" height="3.9" rx="1.2"/><rect x="2320.1" y="196.5" width="2.9" height="3.3" rx="1.2"/><rect x="2323.4" y="196.8" width="2.4" height="3.5" rx="1.2"/><rect x="2310.9" y="201.2" width="2.7" height="3.4" rx="1.2"/><rect x="2313.5" y="200.8" width="2.8" height="3.8" rx="1.2"/><rect x="2316.8" y="200.8" width="3.1" height="3.7" rx="1.2"/><rect x="2320.1" y="201.4" width="3.0" height="3.8" rx="1.2"/><rect x="2323.5" y="200.8" width="3.0" height="3.5" rx="1.2"/><rect x="2310.2" y="205.6" width="2.6" height="3.9" rx="1.2"/><rect x="2313.8" y="205.3" width="2.7" height="3.7" rx="1.2"/><rect x="2316.8" y="205.3" width="2.7" height="3.6" rx="1.2"/><rect x="2320.5" y="205.3" width="2.9" height="3.8" rx="1.2"/><rect x="2323.3" y="205.6" width="3.2" height="3.2" rx="1.2"/><rect x="2309.7" y="210.1" width="3.0" height="3.1" rx="1.2"/><rect x="2313.4" y="210.5" width="3.0" height="3.1" rx="1.2"/><rect x="2317.0" y="210.0" width="3.3" height="3.6" rx="1.2"/><rect x="2320.3" y="210.6" width="2.7" height="3.0" rx="1.2"/><rect x="2323.6" y="209.9" width="3.1" height="3.9" rx="1.2"/><rect x="2309.6" y="214.8" width="3.1" height="3.7" rx="1.2"/><rect x="2313.7" y="214.8" width="2.8" height="3.5" rx="1.2"/><rect x="2317.1" y="214.7" width="3.3" height="3.6" rx="1.2"/><rect x="2321.0" y="214.7" width="3.0" height="3.6" rx="1.2"/><rect x="2324.5" y="214.4" width="3.0" height="3.7" rx="1.2"/><rect x="2309.4" y="219.0" width="3.3" height="3.3" rx="1.2"/><rect x="2313.7" y="219.1" width="2.9" height="3.6" rx="1.2"/><rect x="2317.0" y="219.0" width="3.4" height="3.3" rx="1.2"/><rect x="2320.3" y="218.9" width="3.1" height="3.8" rx="1.2"/><rect x="2324.6" y="218.6" width="2.8" height="3.5" rx="1.2"/><rect x="2309.1" y="223.6" width="3.4" height="3.4" rx="1.2"/><rect x="2312.9" y="223.7" width="3.1" height="3.0" rx="1.2"/><rect x="2317.3" y="223.6" width="3.1" height="3.2" rx="1.2"/><rect x="2320.6" y="223.2" width="3.2" height="3.8" rx="1.2"/><rect x="2324.9" y="223.7" width="3.1" height="3.4" rx="1.2"/><rect x="2308.8" y="227.6" width="3.7" height="3.3" rx="1.2"/><rect x="2313.2" y="228.0" width="3.1" height="3.4" rx="1.2"/><rect x="2316.5" y="227.2" width="3.6" height="3.9" rx="1.2"/><rect x="2320.6" y="227.7" width="3.3" height="3.2" rx="1.2"/><rect x="2324.6" y="228.0" width="3.5" height="3.4" rx="1.2"/><rect x="2308.0" y="231.8" width="3.9" height="3.4" rx="1.2"/><rect x="2312.7" y="232.4" width="3.8" height="3.0" rx="1.2"/><rect x="2316.5" y="231.7" width="3.3" height="3.7" rx="1.2"/><rect x="2321.1" y="232.1" width="3.4" height="3.0" rx="1.2"/><rect x="2325.2" y="232.3" width="3.2" height="3.0" rx="1.2"/><rect x="2308.5" y="236.8" width="3.7" height="3.6" rx="1.2"/><rect x="2312.4" y="236.4" width="3.7" height="3.2" rx="1.2"/><rect x="2317.1" y="236.3" width="3.2" height="3.4" rx="1.2"/><rect x="2321.2" y="236.6" width="3.4" height="3.3" rx="1.2"/><rect x="2325.0" y="236.7" width="3.7" height="3.7" rx="1.2"/><rect x="2308.2" y="241.3" width="4.0" height="3.1" rx="1.2"/><rect x="2312.6" y="241.3" width="3.4" height="3.4" rx="1.2"/><rect x="2317.0" y="241.2" width="3.6" height="3.5" rx="1.2"/><rect x="2320.9" y="240.7" width="4.1" height="3.4" rx="1.2"/><rect x="2325.3" y="241.0" width="3.9" height="3.7" rx="1.2"/><rect x="2308.2" y="245.6" width="3.5" height="3.8" rx="1.2"/><rect x="2312.0" y="245.6" width="3.8" height="3.7" rx="1.2"/><rect x="2316.1" y="245.4" width="4.1" height="3.3" rx="1.2"/><rect x="2321.0" y="244.9" width="3.8" height="3.7" rx="1.2"/><rect x="2325.6" y="245.3" width="4.1" height="3.1" rx="1.2"/><rect x="2307.2" y="249.4" width="3.7" height="3.7" rx="1.2"/><rect x="2312.3" y="249.8" width="3.9" height="3.7" rx="1.2"/><rect x="2316.7" y="249.5" width="4.3" height="3.4" rx="1.2"/><rect x="2321.1" y="250.0" width="3.6" height="3.5" rx="1.2"/><rect x="2325.9" y="249.8" width="4.0" height="3.5" rx="1.2"/><rect x="2307.5" y="254.6" width="3.8" height="3.3" rx="1.2"/><rect x="2312.4" y="254.1" width="3.7" height="3.8" rx="1.2"/><rect x="2316.5" y="254.4" width="4.0" height="3.2" rx="1.2"/><rect x="2321.5" y="254.4" width="4.1" height="3.0" rx="1.2"/><rect x="2326.0" y="254.1" width="3.9" height="3.7" rx="1.2"/><rect x="2306.8" y="258.8" width="4.3" height="3.1" rx="1.2"/><rect x="2311.3" y="258.4" width="4.5" height="3.8" rx="1.2"/><rect x="2316.9" y="259.0" width="3.7" height="3.4" rx="1.2"/><rect x="2321.0" y="258.8" width="4.0" height="3.3" rx="1.2"/><rect x="2326.1" y="258.4" width="4.5" height="3.1" rx="1.2"/><rect x="2306.9" y="263.0" width="3.9" height="3.2" rx="1.2"/><rect x="2311.3" y="263.2" width="4.0" height="3.6" rx="1.2"/><rect x="2316.4" y="262.8" width="3.8" height="3.5" rx="1.2"/><rect x="2321.2" y="263.0" width="4.2" height="3.4" rx="1.2"/><rect x="2326.0" y="263.3" width="4.2" height="3.1" rx="1.2"/><rect x="2306.5" y="267.5" width="4.4" height="3.5" rx="1.2"/><rect x="2311.4" y="267.8" width="4.6" height="3.2" rx="1.2"/><rect x="2316.0" y="267.9" width="4.7" height="3.3" rx="1.2"/><rect x="2321.8" y="267.0" width="4.0" height="3.9" rx="1.2"/><rect x="2326.3" y="267.0" width="4.0" height="3.7" rx="1.2"/><rect x="2306.1" y="271.6" width="4.7" height="3.4" rx="1.2"/><rect x="2310.8" y="271.6" width="4.3" height="3.6" rx="1.2"/><rect x="2316.6" y="271.4" width="4.6" height="3.8" rx="1.2"/><rect x="2321.5" y="271.9" width="4.4" height="3.7" rx="1.2"/><rect x="2326.4" y="271.7" width="4.0" height="3.1" rx="1.2"/><rect x="2305.8" y="276.0" width="4.5" height="3.5" rx="1.2"/><rect x="2311.5" y="276.8" width="4.1" height="3.2" rx="1.2"/><rect x="2315.7" y="276.8" width="4.9" height="3.1" rx="1.2"/><rect x="2321.4" y="276.2" width="4.4" height="3.7" rx="1.2"/><rect x="2326.8" y="275.9" width="4.5" height="3.4" rx="1.2"/><rect x="2305.1" y="280.5" width="4.8" height="3.8" rx="1.2"/><rect x="2310.5" y="280.5" width="4.8" height="3.4" rx="1.2"/><rect x="2316.5" y="281.2" width="4.6" height="3.0" rx="1.2"/><rect x="2321.6" y="280.5" width="4.8" height="3.8" rx="1.2"/><rect x="2327.3" y="281.0" width="4.7" height="3.5" rx="1.2"/><rect x="2305.5" y="285.2" width="4.4" height="3.8" rx="1.2"/><rect x="2310.8" y="285.5" width="5.0" height="3.4" rx="1.2"/><rect x="2316.3" y="284.9" width="4.9" height="3.7" rx="1.2"/><rect x="2321.4" y="285.3" width="4.9" height="3.1" rx="1.2"/><rect x="2327.5" y="285.3" width="4.1" height="3.3" rx="1.2"/><rect x="2305.2" y="289.2" width="4.5" height="3.9" rx="1.2"/><rect x="2310.5" y="289.4" width="4.9" height="3.5" rx="1.2"/><rect x="2316.0" y="289.7" width="5.3" height="3.6" rx="1.2"/><rect x="2321.5" y="290.0" width="5.3" height="3.0" rx="1.2"/><rect x="2327.1" y="289.4" width="4.5" height="3.4" rx="1.2"/></g></svg>
<div class="t" style="left:485.3px;top:66px;transform:scaleX(0.965)">Bacteria</div>
<div class="t" style="left:631.7px;top:66px;transform:scaleX(1.033)">Worm</div>
<div class="t" style="left:770.0px;top:66px;transform:scaleX(0.995)">Algae</div>
<div class="t" style="left:880.7px;top:66px;transform:scaleX(1.019)">Stonewort</div>
<div class="t" style="left:1046.9px;top:66px;transform:scaleX(0.971)">Fern</div>
<div class="t" style="left:1144.2px;top:66px;transform:scaleX(1.011)">Arabidopsis</div>
<div class="t" style="left:1303.1px;top:66px;transform:scaleX(0.943)">Banana</div>
<div class="t" style="left:1425.0px;top:66px;transform:scaleX(1.002)">Pineapple</div>
<div class="t" style="left:1591.1px;top:66px;transform:scaleX(0.955)">Rice</div>
<div class="t" style="left:1687.3px;top:66px;transform:scaleX(0.974)">Switchgrass</div>
<div class="t" style="left:1836.5px;top:66px;transform:scaleX(1.013)">Sorghum</div>
<div class="t" style="left:1977.5px;top:66px;transform:scaleX(0.986)">Teosinte</div>
<div class="t" style="left:2113.0px;top:66px;transform:scaleX(0.986)">Teosinte</div>
<div class="t" style="left:2260.0px;top:66px;transform:scaleX(1.017)">Maize</div>
<div class="t" style="left:490.8px;top:122px;transform:scaleX(0.935)">(<i>E. coli</i>)</div>
<div class="t" style="left:603.8px;top:122px;transform:scaleX(0.935)">(<i>C. elegans</i>)</div>
<div class="t" style="left:784.9px;top:106.2px;transform:scaleX(0.893)">(<i>C.</i></div>
<div class="t" style="left:741.7px;top:138.2px;transform:scaleX(1.033)"><i>reinhardtii</i>)</div>
<div class="t" style="left:871.5px;top:122px;transform:scaleX(0.992)">(<i>C. richardii</i>)</div>
<div class="t" style="left:1013.2px;top:122px;transform:scaleX(0.994)">(<i>C. braunii</i>)</div>
<div class="t" style="left:1142.7px;top:122px;transform:scaleX(1.000)">(<i>A. thaliana</i>)</div>
<div class="t" style="left:1326.5px;top:106.2px;transform:scaleX(0.960)">(<i>M.</i></div>
<div class="t" style="left:1283.7px;top:138.2px;transform:scaleX(1.011)"><i>acuminata</i>)</div>
<div class="t" style="left:1464.1px;top:106.2px;transform:scaleX(0.942)">(<i>A.</i></div>
<div class="t" style="left:1429.1px;top:138.2px;transform:scaleX(0.942)"><i>comosus</i>)</div>
<div class="t" style="left:1561.5px;top:122px;transform:scaleX(0.959)">(<i>O. sativa</i>)</div>
<div class="t" style="left:1738.4px;top:106.2px;transform:scaleX(0.830)">(<i>P.</i></div>
<div class="t" style="left:1698.7px;top:138.2px;transform:scaleX(1.027)"><i>virgatum</i>)</div>
<div class="t" style="left:1831.6px;top:122px;transform:scaleX(0.946)">(<i>S. bicolor</i>)</div>
<div class="t" style="left:1998.6px;top:106.2px;transform:scaleX(0.894)">(<i>Zea</i></div>
<div class="t" style="left:1956.5px;top:138.2px;transform:scaleX(0.996)"><i>diploperennis</i>)</div>
<div class="t" style="left:2103.6px;top:106.2px;transform:scaleX(0.946)">(<i>Zea mays</i></div>
<div class="t" style="left:2103.6px;top:138.2px;transform:scaleX(0.974)"><i>mexicana</i>)</div>
<div class="t" style="left:2239.2px;top:106.2px;transform:scaleX(0.947)">(<i>Zea mays</i></div>
<div class="t" style="left:2262.0px;top:138.2px;transform:scaleX(0.944)"><i>mays</i>)</div>
<div class="tk" style="left:528px"></div>
<div class="tk" style="left:664px"></div>
<div class="tk" style="left:800px"></div>
<div class="tk" style="left:936px"></div>
<div class="tk" style="left:1070px"></div>
<div class="tk" style="left:1206px"></div>
<div class="tk" style="left:1342px"></div>
<div class="tk" style="left:1478px"></div>
<div class="tk" style="left:1614px"></div>
<div class="tk" style="left:1750px"></div>
<div class="tk" style="left:1886px"></div>
<div class="tk" style="left:2020px"></div>
<div class="tk" style="left:2156px"></div>
<div class="tk" style="left:2292px"></div>
<div class="rl" style="left:532.85px">1:<br>Cellular<br>Organisms</div>
<div class="rl" style="left:668.85px">2:<br><span style="display:inline-block;transform:scaleX(1.028)">Domain:</span><br>Eukaryota</div>
<div class="rl" style="left:804.85px">3:<br>Kingdom:<br><span style="display:inline-block;transform:scaleX(1.049)">Viridiplantae</span></div>
<div class="rl" style="left:940.85px">4:<br>Phylum:<br><span style="display:inline-block;transform:scaleX(1.042)">Streptophyta</span></div>
<div class="rl" style="left:1074.85px">5:<br>Land plants<br>(Embryophyta)</div>
<div class="rl" style="left:1210.85px">6:<br><span style="display:inline-block;transform:scaleX(0.96)">Class:</span><br><span style="display:inline-block;transform:scaleX(1.025)">Magnoliopsida</span></div>
<div class="rl" style="left:1346.85px">7:<br><span style="display:inline-block;transform:scaleX(1.023)">Monocots</span><br>(Liliopsida)</div>
<div class="rl" style="left:1482.85px">8:<br>Order:<br>Poales</div>
<div class="rl" style="left:1618.85px">9:<br><span style="display:inline-block;transform:scaleX(0.975)">Family:</span><br><span style="display:inline-block;transform:scaleX(0.97)">Poaceae</span></div>
<div class="rl" style="left:1754.85px">10:<br>Subfamily:<br>Panicoideae</div>
<div class="rl" style="left:1890.85px">11:<br>Tribe:<br><span style="display:inline-block;transform:scaleX(1.023)">Andropogoneae</span></div>
<div class="rl" style="left:2024.85px"><span style="display:inline-block;transform:scaleX(0.96)">12:</span><br><span style="display:inline-block;transform:scaleX(0.97)">Genus:</span><br><span style="display:inline-block;transform:scaleX(0.96)">Zea</span></div>
<div class="rl" style="left:2160.85px">13:<br><span style="display:inline-block;transform:scaleX(0.96)">Species:</span><br>Zea<br>mays</div>
<div class="rl" style="left:2296.85px">14:<br><span style="display:inline-block;transform:scaleX(0.965)">Subspecies:</span><br>Zea mays<br>mays</div>
</body></html>
